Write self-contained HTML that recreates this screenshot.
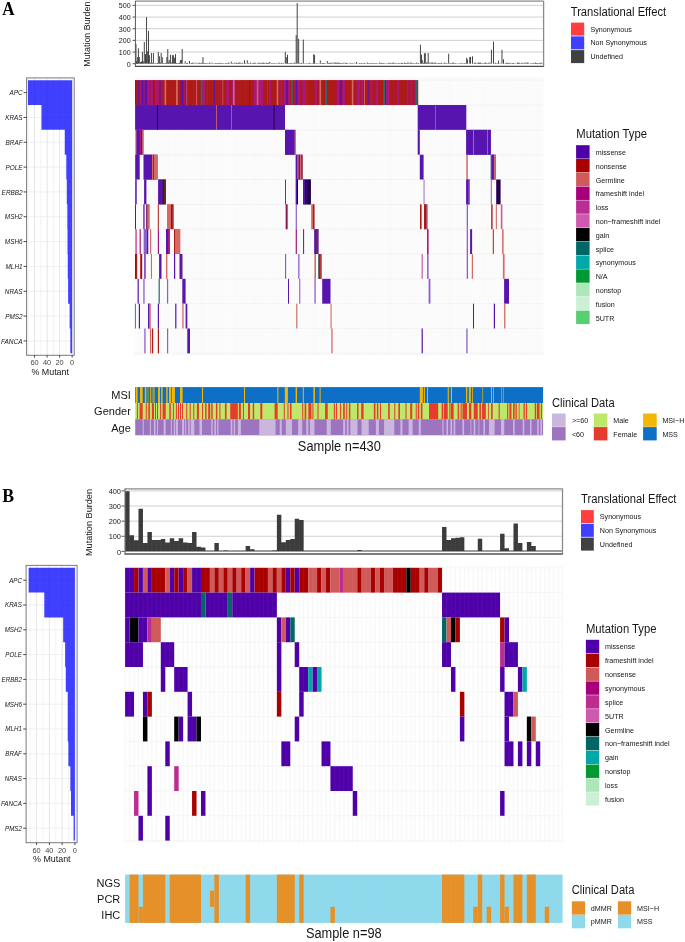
<!DOCTYPE html>
<html><head><meta charset="utf-8"><title>Oncoprint</title>
<style>
html,body{margin:0;padding:0;background:#ffffff;width:685px;height:942px;overflow:hidden;}
svg{display:block;will-change:transform;}
text{font-family:"Liberation Sans",sans-serif;}
text.serif{font-family:"Liberation Serif",serif;}
</style></head><body>
<svg width="685" height="942" viewBox="0 0 685 942">
<text x="2.3" y="14.9" font-size="19.6" textLength="12.3" lengthAdjust="spacingAndGlyphs" font-weight="bold" class="serif" fill="#000">A</text>
<text x="2.2" y="502.1" font-size="19.6" textLength="11.8" lengthAdjust="spacingAndGlyphs" font-weight="bold" class="serif" fill="#000">B</text>
<line x1="135.00" y1="52.04" x2="543.60" y2="52.04" stroke="#d0d0d0" stroke-width="1"/>
<line x1="135.00" y1="40.38" x2="543.60" y2="40.38" stroke="#d0d0d0" stroke-width="1"/>
<line x1="135.00" y1="28.72" x2="543.60" y2="28.72" stroke="#d0d0d0" stroke-width="1"/>
<line x1="135.00" y1="17.06" x2="543.60" y2="17.06" stroke="#d0d0d0" stroke-width="1"/>
<line x1="135.00" y1="5.40" x2="543.60" y2="5.40" stroke="#d0d0d0" stroke-width="1"/>
<rect x="183.46" y="63.35" width="0.92" height="0.35" fill="#363636"/>
<rect x="186.31" y="63.00" width="0.92" height="0.70" fill="#363636"/>
<rect x="187.26" y="62.77" width="0.92" height="0.93" fill="#363636"/>
<rect x="190.11" y="63.47" width="0.92" height="0.23" fill="#363636"/>
<rect x="191.06" y="63.00" width="0.92" height="0.70" fill="#363636"/>
<rect x="192.01" y="62.77" width="0.92" height="0.93" fill="#363636"/>
<rect x="196.77" y="63.35" width="0.92" height="0.35" fill="#363636"/>
<rect x="197.72" y="63.12" width="0.92" height="0.58" fill="#363636"/>
<rect x="198.67" y="62.77" width="0.92" height="0.93" fill="#363636"/>
<rect x="199.62" y="63.00" width="0.92" height="0.70" fill="#363636"/>
<rect x="200.57" y="63.12" width="0.92" height="0.58" fill="#363636"/>
<rect x="201.52" y="62.53" width="0.92" height="1.17" fill="#363636"/>
<rect x="203.42" y="63.12" width="0.92" height="0.58" fill="#363636"/>
<rect x="204.37" y="63.00" width="0.92" height="0.70" fill="#363636"/>
<rect x="205.32" y="63.12" width="0.92" height="0.58" fill="#363636"/>
<rect x="206.27" y="63.23" width="0.92" height="0.47" fill="#363636"/>
<rect x="207.22" y="63.23" width="0.92" height="0.47" fill="#363636"/>
<rect x="208.17" y="63.35" width="0.92" height="0.35" fill="#363636"/>
<rect x="209.12" y="62.53" width="0.92" height="1.17" fill="#363636"/>
<rect x="210.07" y="63.35" width="0.92" height="0.35" fill="#363636"/>
<rect x="212.92" y="63.35" width="0.92" height="0.35" fill="#363636"/>
<rect x="213.87" y="63.47" width="0.92" height="0.23" fill="#363636"/>
<rect x="214.82" y="63.00" width="0.92" height="0.70" fill="#363636"/>
<rect x="215.77" y="63.23" width="0.92" height="0.47" fill="#363636"/>
<rect x="216.72" y="63.00" width="0.92" height="0.70" fill="#363636"/>
<rect x="217.67" y="63.12" width="0.92" height="0.58" fill="#363636"/>
<rect x="218.62" y="63.23" width="0.92" height="0.47" fill="#363636"/>
<rect x="219.57" y="62.77" width="0.92" height="0.93" fill="#363636"/>
<rect x="220.52" y="63.12" width="0.92" height="0.58" fill="#363636"/>
<rect x="221.47" y="63.23" width="0.92" height="0.47" fill="#363636"/>
<rect x="222.42" y="63.00" width="0.92" height="0.70" fill="#363636"/>
<rect x="223.37" y="63.47" width="0.92" height="0.23" fill="#363636"/>
<rect x="224.32" y="63.47" width="0.92" height="0.23" fill="#363636"/>
<rect x="225.27" y="63.00" width="0.92" height="0.70" fill="#363636"/>
<rect x="226.22" y="63.12" width="0.92" height="0.58" fill="#363636"/>
<rect x="227.17" y="63.35" width="0.92" height="0.35" fill="#363636"/>
<rect x="228.12" y="62.53" width="0.92" height="1.17" fill="#363636"/>
<rect x="229.07" y="63.23" width="0.92" height="0.47" fill="#363636"/>
<rect x="231.92" y="63.12" width="0.92" height="0.58" fill="#363636"/>
<rect x="232.87" y="63.47" width="0.92" height="0.23" fill="#363636"/>
<rect x="233.82" y="62.77" width="0.92" height="0.93" fill="#363636"/>
<rect x="234.77" y="63.47" width="0.92" height="0.23" fill="#363636"/>
<rect x="235.72" y="62.53" width="0.92" height="1.17" fill="#363636"/>
<rect x="236.67" y="63.00" width="0.92" height="0.70" fill="#363636"/>
<rect x="237.63" y="63.00" width="0.92" height="0.70" fill="#363636"/>
<rect x="238.58" y="62.53" width="0.92" height="1.17" fill="#363636"/>
<rect x="239.53" y="62.53" width="0.92" height="1.17" fill="#363636"/>
<rect x="240.48" y="63.23" width="0.92" height="0.47" fill="#363636"/>
<rect x="241.43" y="63.23" width="0.92" height="0.47" fill="#363636"/>
<rect x="242.38" y="62.77" width="0.92" height="0.93" fill="#363636"/>
<rect x="245.23" y="63.12" width="0.92" height="0.58" fill="#363636"/>
<rect x="248.08" y="63.12" width="0.92" height="0.58" fill="#363636"/>
<rect x="249.03" y="63.47" width="0.92" height="0.23" fill="#363636"/>
<rect x="249.98" y="62.53" width="0.92" height="1.17" fill="#363636"/>
<rect x="250.93" y="63.47" width="0.92" height="0.23" fill="#363636"/>
<rect x="251.88" y="63.23" width="0.92" height="0.47" fill="#363636"/>
<rect x="252.83" y="63.12" width="0.92" height="0.58" fill="#363636"/>
<rect x="253.78" y="62.77" width="0.92" height="0.93" fill="#363636"/>
<rect x="254.73" y="62.77" width="0.92" height="0.93" fill="#363636"/>
<rect x="255.68" y="63.47" width="0.92" height="0.23" fill="#363636"/>
<rect x="256.63" y="63.47" width="0.92" height="0.23" fill="#363636"/>
<rect x="257.58" y="62.77" width="0.92" height="0.93" fill="#363636"/>
<rect x="258.53" y="62.77" width="0.92" height="0.93" fill="#363636"/>
<rect x="259.48" y="63.23" width="0.92" height="0.47" fill="#363636"/>
<rect x="260.43" y="62.77" width="0.92" height="0.93" fill="#363636"/>
<rect x="261.38" y="63.00" width="0.92" height="0.70" fill="#363636"/>
<rect x="262.33" y="62.77" width="0.92" height="0.93" fill="#363636"/>
<rect x="263.28" y="62.53" width="0.92" height="1.17" fill="#363636"/>
<rect x="264.23" y="63.12" width="0.92" height="0.58" fill="#363636"/>
<rect x="265.18" y="63.23" width="0.92" height="0.47" fill="#363636"/>
<rect x="266.13" y="62.77" width="0.92" height="0.93" fill="#363636"/>
<rect x="267.08" y="63.12" width="0.92" height="0.58" fill="#363636"/>
<rect x="268.03" y="62.77" width="0.92" height="0.93" fill="#363636"/>
<rect x="270.88" y="63.12" width="0.92" height="0.58" fill="#363636"/>
<rect x="271.83" y="63.23" width="0.92" height="0.47" fill="#363636"/>
<rect x="272.78" y="63.35" width="0.92" height="0.35" fill="#363636"/>
<rect x="273.73" y="63.00" width="0.92" height="0.70" fill="#363636"/>
<rect x="274.68" y="63.47" width="0.92" height="0.23" fill="#363636"/>
<rect x="275.63" y="63.12" width="0.92" height="0.58" fill="#363636"/>
<rect x="276.58" y="63.47" width="0.92" height="0.23" fill="#363636"/>
<rect x="277.53" y="63.35" width="0.92" height="0.35" fill="#363636"/>
<rect x="278.49" y="62.53" width="0.92" height="1.17" fill="#363636"/>
<rect x="279.44" y="63.23" width="0.92" height="0.47" fill="#363636"/>
<rect x="280.39" y="63.35" width="0.92" height="0.35" fill="#363636"/>
<rect x="281.34" y="62.77" width="0.92" height="0.93" fill="#363636"/>
<rect x="282.29" y="63.35" width="0.92" height="0.35" fill="#363636"/>
<rect x="283.24" y="63.12" width="0.92" height="0.58" fill="#363636"/>
<rect x="287.99" y="63.35" width="0.92" height="0.35" fill="#363636"/>
<rect x="288.94" y="63.12" width="0.92" height="0.58" fill="#363636"/>
<rect x="289.89" y="63.12" width="0.92" height="0.58" fill="#363636"/>
<rect x="290.84" y="63.00" width="0.92" height="0.70" fill="#363636"/>
<rect x="291.79" y="63.23" width="0.92" height="0.47" fill="#363636"/>
<rect x="292.74" y="63.35" width="0.92" height="0.35" fill="#363636"/>
<rect x="293.69" y="62.53" width="0.92" height="1.17" fill="#363636"/>
<rect x="294.64" y="63.12" width="0.92" height="0.58" fill="#363636"/>
<rect x="299.39" y="63.12" width="0.92" height="0.58" fill="#363636"/>
<rect x="300.34" y="63.23" width="0.92" height="0.47" fill="#363636"/>
<rect x="301.29" y="62.77" width="0.92" height="0.93" fill="#363636"/>
<rect x="304.14" y="63.35" width="0.92" height="0.35" fill="#363636"/>
<rect x="305.09" y="63.47" width="0.92" height="0.23" fill="#363636"/>
<rect x="306.04" y="63.35" width="0.92" height="0.35" fill="#363636"/>
<rect x="306.99" y="63.35" width="0.92" height="0.35" fill="#363636"/>
<rect x="307.94" y="63.35" width="0.92" height="0.35" fill="#363636"/>
<rect x="308.89" y="62.77" width="0.92" height="0.93" fill="#363636"/>
<rect x="309.84" y="63.35" width="0.92" height="0.35" fill="#363636"/>
<rect x="310.79" y="63.47" width="0.92" height="0.23" fill="#363636"/>
<rect x="311.74" y="63.12" width="0.92" height="0.58" fill="#363636"/>
<rect x="315.54" y="63.23" width="0.92" height="0.47" fill="#363636"/>
<rect x="316.49" y="63.23" width="0.92" height="0.47" fill="#363636"/>
<rect x="317.44" y="63.47" width="0.92" height="0.23" fill="#363636"/>
<rect x="318.39" y="63.35" width="0.92" height="0.35" fill="#363636"/>
<rect x="321.25" y="63.23" width="0.92" height="0.47" fill="#363636"/>
<rect x="322.20" y="63.00" width="0.92" height="0.70" fill="#363636"/>
<rect x="323.15" y="63.00" width="0.92" height="0.70" fill="#363636"/>
<rect x="324.10" y="63.23" width="0.92" height="0.47" fill="#363636"/>
<rect x="325.05" y="63.35" width="0.92" height="0.35" fill="#363636"/>
<rect x="327.90" y="63.00" width="0.92" height="0.70" fill="#363636"/>
<rect x="328.85" y="63.00" width="0.92" height="0.70" fill="#363636"/>
<rect x="329.80" y="62.77" width="0.92" height="0.93" fill="#363636"/>
<rect x="330.75" y="62.77" width="0.92" height="0.93" fill="#363636"/>
<rect x="333.60" y="63.12" width="0.92" height="0.58" fill="#363636"/>
<rect x="334.55" y="62.53" width="0.92" height="1.17" fill="#363636"/>
<rect x="335.50" y="62.53" width="0.92" height="1.17" fill="#363636"/>
<rect x="337.40" y="62.77" width="0.92" height="0.93" fill="#363636"/>
<rect x="338.35" y="62.53" width="0.92" height="1.17" fill="#363636"/>
<rect x="339.30" y="63.00" width="0.92" height="0.70" fill="#363636"/>
<rect x="340.25" y="63.12" width="0.92" height="0.58" fill="#363636"/>
<rect x="341.20" y="63.12" width="0.92" height="0.58" fill="#363636"/>
<rect x="342.15" y="63.12" width="0.92" height="0.58" fill="#363636"/>
<rect x="345.00" y="63.12" width="0.92" height="0.58" fill="#363636"/>
<rect x="345.95" y="62.77" width="0.92" height="0.93" fill="#363636"/>
<rect x="346.90" y="63.12" width="0.92" height="0.58" fill="#363636"/>
<rect x="347.85" y="63.47" width="0.92" height="0.23" fill="#363636"/>
<rect x="350.70" y="63.35" width="0.92" height="0.35" fill="#363636"/>
<rect x="351.65" y="63.12" width="0.92" height="0.58" fill="#363636"/>
<rect x="352.60" y="63.35" width="0.92" height="0.35" fill="#363636"/>
<rect x="353.55" y="63.47" width="0.92" height="0.23" fill="#363636"/>
<rect x="354.50" y="63.23" width="0.92" height="0.47" fill="#363636"/>
<rect x="357.35" y="63.47" width="0.92" height="0.23" fill="#363636"/>
<rect x="358.30" y="63.47" width="0.92" height="0.23" fill="#363636"/>
<rect x="359.25" y="63.00" width="0.92" height="0.70" fill="#363636"/>
<rect x="360.21" y="63.35" width="0.92" height="0.35" fill="#363636"/>
<rect x="361.16" y="63.00" width="0.92" height="0.70" fill="#363636"/>
<rect x="362.11" y="63.47" width="0.92" height="0.23" fill="#363636"/>
<rect x="363.06" y="63.23" width="0.92" height="0.47" fill="#363636"/>
<rect x="364.01" y="63.00" width="0.92" height="0.70" fill="#363636"/>
<rect x="364.96" y="63.47" width="0.92" height="0.23" fill="#363636"/>
<rect x="365.91" y="63.47" width="0.92" height="0.23" fill="#363636"/>
<rect x="366.86" y="62.53" width="0.92" height="1.17" fill="#363636"/>
<rect x="367.81" y="63.35" width="0.92" height="0.35" fill="#363636"/>
<rect x="368.76" y="63.00" width="0.92" height="0.70" fill="#363636"/>
<rect x="369.71" y="63.12" width="0.92" height="0.58" fill="#363636"/>
<rect x="370.66" y="63.35" width="0.92" height="0.35" fill="#363636"/>
<rect x="371.61" y="62.77" width="0.92" height="0.93" fill="#363636"/>
<rect x="372.56" y="63.23" width="0.92" height="0.47" fill="#363636"/>
<rect x="373.51" y="63.23" width="0.92" height="0.47" fill="#363636"/>
<rect x="374.46" y="63.00" width="0.92" height="0.70" fill="#363636"/>
<rect x="375.41" y="63.23" width="0.92" height="0.47" fill="#363636"/>
<rect x="376.36" y="63.12" width="0.92" height="0.58" fill="#363636"/>
<rect x="377.31" y="63.47" width="0.92" height="0.23" fill="#363636"/>
<rect x="378.26" y="63.47" width="0.92" height="0.23" fill="#363636"/>
<rect x="379.21" y="62.53" width="0.92" height="1.17" fill="#363636"/>
<rect x="380.16" y="63.12" width="0.92" height="0.58" fill="#363636"/>
<rect x="381.11" y="63.12" width="0.92" height="0.58" fill="#363636"/>
<rect x="382.06" y="63.12" width="0.92" height="0.58" fill="#363636"/>
<rect x="383.01" y="63.12" width="0.92" height="0.58" fill="#363636"/>
<rect x="383.96" y="63.23" width="0.92" height="0.47" fill="#363636"/>
<rect x="384.91" y="63.47" width="0.92" height="0.23" fill="#363636"/>
<rect x="385.86" y="63.35" width="0.92" height="0.35" fill="#363636"/>
<rect x="386.81" y="63.47" width="0.92" height="0.23" fill="#363636"/>
<rect x="387.76" y="62.77" width="0.92" height="0.93" fill="#363636"/>
<rect x="388.71" y="63.23" width="0.92" height="0.47" fill="#363636"/>
<rect x="389.66" y="62.77" width="0.92" height="0.93" fill="#363636"/>
<rect x="390.61" y="63.23" width="0.92" height="0.47" fill="#363636"/>
<rect x="391.56" y="63.12" width="0.92" height="0.58" fill="#363636"/>
<rect x="392.51" y="62.53" width="0.92" height="1.17" fill="#363636"/>
<rect x="393.46" y="62.77" width="0.92" height="0.93" fill="#363636"/>
<rect x="394.41" y="63.35" width="0.92" height="0.35" fill="#363636"/>
<rect x="395.36" y="63.00" width="0.92" height="0.70" fill="#363636"/>
<rect x="396.31" y="63.47" width="0.92" height="0.23" fill="#363636"/>
<rect x="397.26" y="63.35" width="0.92" height="0.35" fill="#363636"/>
<rect x="398.21" y="63.00" width="0.92" height="0.70" fill="#363636"/>
<rect x="399.16" y="63.23" width="0.92" height="0.47" fill="#363636"/>
<rect x="400.11" y="63.35" width="0.92" height="0.35" fill="#363636"/>
<rect x="401.07" y="62.77" width="0.92" height="0.93" fill="#363636"/>
<rect x="402.02" y="63.00" width="0.92" height="0.70" fill="#363636"/>
<rect x="402.97" y="63.47" width="0.92" height="0.23" fill="#363636"/>
<rect x="403.92" y="62.53" width="0.92" height="1.17" fill="#363636"/>
<rect x="404.87" y="63.00" width="0.92" height="0.70" fill="#363636"/>
<rect x="405.82" y="63.23" width="0.92" height="0.47" fill="#363636"/>
<rect x="406.77" y="62.77" width="0.92" height="0.93" fill="#363636"/>
<rect x="407.72" y="62.53" width="0.92" height="1.17" fill="#363636"/>
<rect x="408.67" y="63.47" width="0.92" height="0.23" fill="#363636"/>
<rect x="409.62" y="62.77" width="0.92" height="0.93" fill="#363636"/>
<rect x="410.57" y="62.53" width="0.92" height="1.17" fill="#363636"/>
<rect x="411.52" y="63.23" width="0.92" height="0.47" fill="#363636"/>
<rect x="412.47" y="63.00" width="0.92" height="0.70" fill="#363636"/>
<rect x="413.42" y="63.23" width="0.92" height="0.47" fill="#363636"/>
<rect x="414.37" y="63.35" width="0.92" height="0.35" fill="#363636"/>
<rect x="415.32" y="63.23" width="0.92" height="0.47" fill="#363636"/>
<rect x="416.27" y="62.53" width="0.92" height="1.17" fill="#363636"/>
<rect x="417.22" y="63.35" width="0.92" height="0.35" fill="#363636"/>
<rect x="418.17" y="63.00" width="0.92" height="0.70" fill="#363636"/>
<rect x="422.92" y="62.77" width="0.92" height="0.93" fill="#363636"/>
<rect x="425.77" y="62.53" width="0.92" height="1.17" fill="#363636"/>
<rect x="426.72" y="62.53" width="0.92" height="1.17" fill="#363636"/>
<rect x="428.62" y="62.53" width="0.92" height="1.17" fill="#363636"/>
<rect x="429.57" y="63.35" width="0.92" height="0.35" fill="#363636"/>
<rect x="430.52" y="62.53" width="0.92" height="1.17" fill="#363636"/>
<rect x="432.42" y="62.53" width="0.92" height="1.17" fill="#363636"/>
<rect x="433.37" y="63.12" width="0.92" height="0.58" fill="#363636"/>
<rect x="434.32" y="62.77" width="0.92" height="0.93" fill="#363636"/>
<rect x="435.27" y="62.53" width="0.92" height="1.17" fill="#363636"/>
<rect x="436.22" y="63.35" width="0.92" height="0.35" fill="#363636"/>
<rect x="437.17" y="63.35" width="0.92" height="0.35" fill="#363636"/>
<rect x="438.12" y="63.00" width="0.92" height="0.70" fill="#363636"/>
<rect x="439.07" y="63.12" width="0.92" height="0.58" fill="#363636"/>
<rect x="440.02" y="63.23" width="0.92" height="0.47" fill="#363636"/>
<rect x="440.97" y="62.77" width="0.92" height="0.93" fill="#363636"/>
<rect x="441.93" y="63.47" width="0.92" height="0.23" fill="#363636"/>
<rect x="442.88" y="63.47" width="0.92" height="0.23" fill="#363636"/>
<rect x="443.83" y="62.53" width="0.92" height="1.17" fill="#363636"/>
<rect x="444.78" y="63.23" width="0.92" height="0.47" fill="#363636"/>
<rect x="445.73" y="63.12" width="0.92" height="0.58" fill="#363636"/>
<rect x="446.68" y="63.23" width="0.92" height="0.47" fill="#363636"/>
<rect x="449.53" y="63.00" width="0.92" height="0.70" fill="#363636"/>
<rect x="450.48" y="63.23" width="0.92" height="0.47" fill="#363636"/>
<rect x="451.43" y="63.12" width="0.92" height="0.58" fill="#363636"/>
<rect x="452.38" y="62.53" width="0.92" height="1.17" fill="#363636"/>
<rect x="453.33" y="62.77" width="0.92" height="0.93" fill="#363636"/>
<rect x="454.28" y="63.23" width="0.92" height="0.47" fill="#363636"/>
<rect x="455.23" y="63.23" width="0.92" height="0.47" fill="#363636"/>
<rect x="456.18" y="63.47" width="0.92" height="0.23" fill="#363636"/>
<rect x="457.13" y="63.35" width="0.92" height="0.35" fill="#363636"/>
<rect x="458.08" y="63.47" width="0.92" height="0.23" fill="#363636"/>
<rect x="459.03" y="63.35" width="0.92" height="0.35" fill="#363636"/>
<rect x="459.98" y="63.12" width="0.92" height="0.58" fill="#363636"/>
<rect x="460.93" y="63.35" width="0.92" height="0.35" fill="#363636"/>
<rect x="461.88" y="63.23" width="0.92" height="0.47" fill="#363636"/>
<rect x="462.83" y="63.35" width="0.92" height="0.35" fill="#363636"/>
<rect x="463.78" y="63.12" width="0.92" height="0.58" fill="#363636"/>
<rect x="464.73" y="63.00" width="0.92" height="0.70" fill="#363636"/>
<rect x="473.28" y="63.47" width="0.92" height="0.23" fill="#363636"/>
<rect x="474.23" y="62.53" width="0.92" height="1.17" fill="#363636"/>
<rect x="475.18" y="62.77" width="0.92" height="0.93" fill="#363636"/>
<rect x="476.13" y="63.47" width="0.92" height="0.23" fill="#363636"/>
<rect x="477.08" y="63.12" width="0.92" height="0.58" fill="#363636"/>
<rect x="478.03" y="62.53" width="0.92" height="1.17" fill="#363636"/>
<rect x="478.98" y="62.77" width="0.92" height="0.93" fill="#363636"/>
<rect x="479.93" y="62.53" width="0.92" height="1.17" fill="#363636"/>
<rect x="480.88" y="63.35" width="0.92" height="0.35" fill="#363636"/>
<rect x="481.83" y="63.12" width="0.92" height="0.58" fill="#363636"/>
<rect x="482.79" y="63.35" width="0.92" height="0.35" fill="#363636"/>
<rect x="483.74" y="63.12" width="0.92" height="0.58" fill="#363636"/>
<rect x="484.69" y="62.53" width="0.92" height="1.17" fill="#363636"/>
<rect x="485.64" y="62.77" width="0.92" height="0.93" fill="#363636"/>
<rect x="486.59" y="63.23" width="0.92" height="0.47" fill="#363636"/>
<rect x="487.54" y="63.47" width="0.92" height="0.23" fill="#363636"/>
<rect x="488.49" y="62.53" width="0.92" height="1.17" fill="#363636"/>
<rect x="489.44" y="62.77" width="0.92" height="0.93" fill="#363636"/>
<rect x="494.19" y="63.47" width="0.92" height="0.23" fill="#363636"/>
<rect x="495.14" y="62.77" width="0.92" height="0.93" fill="#363636"/>
<rect x="496.09" y="63.35" width="0.92" height="0.35" fill="#363636"/>
<rect x="497.04" y="63.35" width="0.92" height="0.35" fill="#363636"/>
<rect x="498.94" y="63.47" width="0.92" height="0.23" fill="#363636"/>
<rect x="499.89" y="63.35" width="0.92" height="0.35" fill="#363636"/>
<rect x="504.64" y="63.35" width="0.92" height="0.35" fill="#363636"/>
<rect x="505.59" y="63.00" width="0.92" height="0.70" fill="#363636"/>
<rect x="506.54" y="62.53" width="0.92" height="1.17" fill="#363636"/>
<rect x="507.49" y="63.00" width="0.92" height="0.70" fill="#363636"/>
<rect x="508.44" y="63.12" width="0.92" height="0.58" fill="#363636"/>
<rect x="509.39" y="62.77" width="0.92" height="0.93" fill="#363636"/>
<rect x="510.34" y="63.23" width="0.92" height="0.47" fill="#363636"/>
<rect x="511.29" y="63.35" width="0.92" height="0.35" fill="#363636"/>
<rect x="512.24" y="63.00" width="0.92" height="0.70" fill="#363636"/>
<rect x="513.19" y="63.00" width="0.92" height="0.70" fill="#363636"/>
<rect x="514.14" y="63.35" width="0.92" height="0.35" fill="#363636"/>
<rect x="515.09" y="63.47" width="0.92" height="0.23" fill="#363636"/>
<rect x="516.04" y="63.47" width="0.92" height="0.23" fill="#363636"/>
<rect x="516.99" y="62.53" width="0.92" height="1.17" fill="#363636"/>
<rect x="517.94" y="62.77" width="0.92" height="0.93" fill="#363636"/>
<rect x="518.89" y="62.77" width="0.92" height="0.93" fill="#363636"/>
<rect x="519.84" y="63.47" width="0.92" height="0.23" fill="#363636"/>
<rect x="520.79" y="63.00" width="0.92" height="0.70" fill="#363636"/>
<rect x="521.74" y="62.77" width="0.92" height="0.93" fill="#363636"/>
<rect x="522.69" y="63.35" width="0.92" height="0.35" fill="#363636"/>
<rect x="523.65" y="63.12" width="0.92" height="0.58" fill="#363636"/>
<rect x="524.60" y="62.53" width="0.92" height="1.17" fill="#363636"/>
<rect x="525.55" y="63.35" width="0.92" height="0.35" fill="#363636"/>
<rect x="526.50" y="62.53" width="0.92" height="1.17" fill="#363636"/>
<rect x="527.45" y="62.53" width="0.92" height="1.17" fill="#363636"/>
<rect x="528.40" y="63.35" width="0.92" height="0.35" fill="#363636"/>
<rect x="529.35" y="63.47" width="0.92" height="0.23" fill="#363636"/>
<rect x="530.30" y="63.23" width="0.92" height="0.47" fill="#363636"/>
<rect x="531.25" y="63.35" width="0.92" height="0.35" fill="#363636"/>
<rect x="532.20" y="63.23" width="0.92" height="0.47" fill="#363636"/>
<rect x="533.15" y="63.00" width="0.92" height="0.70" fill="#363636"/>
<rect x="534.10" y="63.35" width="0.92" height="0.35" fill="#363636"/>
<rect x="535.05" y="62.53" width="0.92" height="1.17" fill="#363636"/>
<rect x="536.00" y="63.00" width="0.92" height="0.70" fill="#363636"/>
<rect x="536.95" y="63.23" width="0.92" height="0.47" fill="#363636"/>
<rect x="537.90" y="63.23" width="0.92" height="0.47" fill="#363636"/>
<rect x="538.85" y="63.00" width="0.92" height="0.70" fill="#363636"/>
<rect x="539.80" y="63.12" width="0.92" height="0.58" fill="#363636"/>
<rect x="540.75" y="62.53" width="0.92" height="1.17" fill="#363636"/>
<rect x="541.70" y="63.35" width="0.92" height="0.35" fill="#363636"/>
<rect x="542.65" y="63.47" width="0.92" height="0.23" fill="#363636"/>
<rect x="135.52" y="43.88" width="0.92" height="19.82" fill="#363636"/>
<rect x="135.82" y="61.37" width="0.92" height="2.33" fill="#363636"/>
<rect x="136.42" y="61.37" width="0.92" height="2.33" fill="#363636"/>
<rect x="137.22" y="57.05" width="0.92" height="6.65" fill="#363636"/>
<rect x="137.92" y="48.31" width="0.92" height="15.39" fill="#363636"/>
<rect x="138.82" y="57.05" width="0.92" height="6.65" fill="#363636"/>
<rect x="139.72" y="62.07" width="0.92" height="1.63" fill="#363636"/>
<rect x="140.52" y="62.07" width="0.92" height="1.63" fill="#363636"/>
<rect x="141.22" y="61.37" width="0.92" height="2.33" fill="#363636"/>
<rect x="141.92" y="51.92" width="0.92" height="11.78" fill="#363636"/>
<rect x="142.82" y="61.37" width="0.92" height="2.33" fill="#363636"/>
<rect x="143.82" y="42.01" width="0.92" height="21.69" fill="#363636"/>
<rect x="145.02" y="54.14" width="0.92" height="9.56" fill="#363636"/>
<rect x="146.12" y="17.06" width="0.92" height="46.64" fill="#363636"/>
<rect x="147.22" y="51.22" width="0.92" height="12.48" fill="#363636"/>
<rect x="148.02" y="31.05" width="0.92" height="32.65" fill="#363636"/>
<rect x="148.92" y="55.19" width="0.92" height="8.51" fill="#363636"/>
<rect x="149.82" y="62.77" width="0.92" height="0.93" fill="#363636"/>
<rect x="150.92" y="52.97" width="0.92" height="10.73" fill="#363636"/>
<rect x="151.92" y="62.77" width="0.92" height="0.93" fill="#363636"/>
<rect x="152.92" y="52.97" width="0.92" height="10.73" fill="#363636"/>
<rect x="154.12" y="63.23" width="0.92" height="0.47" fill="#363636"/>
<rect x="155.12" y="63.12" width="0.92" height="0.58" fill="#363636"/>
<rect x="156.12" y="63.35" width="0.92" height="0.35" fill="#363636"/>
<rect x="157.02" y="63.00" width="0.92" height="0.70" fill="#363636"/>
<rect x="157.82" y="51.92" width="0.92" height="11.78" fill="#363636"/>
<rect x="158.92" y="56.24" width="0.92" height="7.46" fill="#363636"/>
<rect x="159.82" y="62.53" width="0.92" height="1.17" fill="#363636"/>
<rect x="160.72" y="52.97" width="0.92" height="10.73" fill="#363636"/>
<rect x="161.82" y="57.05" width="0.92" height="6.65" fill="#363636"/>
<rect x="162.82" y="63.00" width="0.92" height="0.70" fill="#363636"/>
<rect x="163.72" y="63.23" width="0.92" height="0.47" fill="#363636"/>
<rect x="164.72" y="63.12" width="0.92" height="0.58" fill="#363636"/>
<rect x="165.62" y="62.77" width="0.92" height="0.93" fill="#363636"/>
<rect x="166.42" y="57.05" width="0.92" height="6.65" fill="#363636"/>
<rect x="167.32" y="49.01" width="0.92" height="14.69" fill="#363636"/>
<rect x="168.22" y="62.53" width="0.92" height="1.17" fill="#363636"/>
<rect x="168.72" y="59.97" width="0.92" height="3.73" fill="#363636"/>
<rect x="169.92" y="54.84" width="0.92" height="8.86" fill="#363636"/>
<rect x="170.72" y="62.30" width="0.92" height="1.40" fill="#363636"/>
<rect x="171.92" y="55.19" width="0.92" height="8.51" fill="#363636"/>
<rect x="172.92" y="55.19" width="0.92" height="8.51" fill="#363636"/>
<rect x="173.92" y="57.75" width="0.92" height="5.95" fill="#363636"/>
<rect x="175.02" y="54.14" width="0.92" height="9.56" fill="#363636"/>
<rect x="176.02" y="63.00" width="0.92" height="0.70" fill="#363636"/>
<rect x="177.02" y="63.23" width="0.92" height="0.47" fill="#363636"/>
<rect x="178.02" y="63.12" width="0.92" height="0.58" fill="#363636"/>
<rect x="179.02" y="62.77" width="0.92" height="0.93" fill="#363636"/>
<rect x="179.92" y="59.97" width="0.92" height="3.73" fill="#363636"/>
<rect x="180.92" y="59.97" width="0.92" height="3.73" fill="#363636"/>
<rect x="181.72" y="49.01" width="0.92" height="14.69" fill="#363636"/>
<rect x="184.72" y="61.37" width="0.92" height="2.33" fill="#363636"/>
<rect x="189.02" y="61.02" width="0.92" height="2.68" fill="#363636"/>
<rect x="193.52" y="62.53" width="0.92" height="1.17" fill="#363636"/>
<rect x="195.52" y="62.77" width="0.92" height="0.93" fill="#363636"/>
<rect x="202.52" y="57.17" width="0.92" height="6.53" fill="#363636"/>
<rect x="211.52" y="62.53" width="0.92" height="1.17" fill="#363636"/>
<rect x="230.82" y="61.60" width="0.92" height="2.10" fill="#363636"/>
<rect x="244.02" y="60.20" width="0.92" height="3.50" fill="#363636"/>
<rect x="246.82" y="60.20" width="0.92" height="3.50" fill="#363636"/>
<rect x="269.32" y="61.95" width="0.92" height="1.75" fill="#363636"/>
<rect x="284.82" y="51.81" width="0.92" height="11.89" fill="#363636"/>
<rect x="285.82" y="57.17" width="0.92" height="6.53" fill="#363636"/>
<rect x="287.02" y="54.72" width="0.92" height="8.98" fill="#363636"/>
<rect x="295.72" y="35.13" width="0.92" height="28.57" fill="#363636"/>
<rect x="296.72" y="3.07" width="0.92" height="60.63" fill="#363636"/>
<rect x="298.22" y="38.75" width="0.92" height="24.95" fill="#363636"/>
<rect x="302.82" y="39.56" width="0.92" height="24.14" fill="#363636"/>
<rect x="313.22" y="54.14" width="0.92" height="9.56" fill="#363636"/>
<rect x="314.12" y="54.96" width="0.92" height="8.74" fill="#363636"/>
<rect x="319.82" y="60.44" width="0.92" height="3.26" fill="#363636"/>
<rect x="326.82" y="61.02" width="0.92" height="2.68" fill="#363636"/>
<rect x="332.52" y="62.53" width="0.92" height="1.17" fill="#363636"/>
<rect x="336.52" y="62.77" width="0.92" height="0.93" fill="#363636"/>
<rect x="343.52" y="62.53" width="0.92" height="1.17" fill="#363636"/>
<rect x="349.52" y="62.77" width="0.92" height="0.93" fill="#363636"/>
<rect x="356.02" y="61.95" width="0.92" height="1.75" fill="#363636"/>
<rect x="419.92" y="44.69" width="0.92" height="19.01" fill="#363636"/>
<rect x="421.02" y="54.72" width="0.92" height="8.98" fill="#363636"/>
<rect x="421.82" y="60.09" width="0.92" height="3.61" fill="#363636"/>
<rect x="423.92" y="53.32" width="0.92" height="10.38" fill="#363636"/>
<rect x="424.82" y="52.97" width="0.92" height="10.73" fill="#363636"/>
<rect x="427.72" y="52.97" width="0.92" height="10.73" fill="#363636"/>
<rect x="431.52" y="62.53" width="0.92" height="1.17" fill="#363636"/>
<rect x="448.22" y="53.79" width="0.92" height="9.91" fill="#363636"/>
<rect x="466.22" y="57.75" width="0.92" height="5.95" fill="#363636"/>
<rect x="467.12" y="59.50" width="0.92" height="4.20" fill="#363636"/>
<rect x="469.32" y="57.17" width="0.92" height="6.53" fill="#363636"/>
<rect x="470.02" y="56.82" width="0.92" height="6.88" fill="#363636"/>
<rect x="472.02" y="56.35" width="0.92" height="7.35" fill="#363636"/>
<rect x="490.92" y="49.82" width="0.92" height="13.88" fill="#363636"/>
<rect x="493.02" y="41.66" width="0.92" height="22.04" fill="#363636"/>
<rect x="498.02" y="60.67" width="0.92" height="3.03" fill="#363636"/>
<rect x="501.52" y="49.82" width="0.92" height="13.88" fill="#363636"/>
<rect x="503.02" y="59.27" width="0.92" height="4.43" fill="#363636"/>
<line x1="135.00" y1="1.10" x2="543.60" y2="1.10" stroke="#ababab" stroke-width="1.6"/>
<line x1="543.60" y1="1.00" x2="543.60" y2="66.60" stroke="#8a8a8a" stroke-width="1.3"/>
<line x1="135.40" y1="1.00" x2="135.40" y2="67.00" stroke="#555555" stroke-width="1"/>
<line x1="135.00" y1="66.40" x2="543.60" y2="66.40" stroke="#4a4a4a" stroke-width="1.4"/>
<line x1="132.60" y1="63.70" x2="135.00" y2="63.70" stroke="#444" stroke-width="0.9"/>
<text x="130.70" y="66.59" font-size="7.67" textLength="3.95" lengthAdjust="spacingAndGlyphs" text-anchor="end" fill="#161616">0</text>
<line x1="132.60" y1="52.04" x2="135.00" y2="52.04" stroke="#444" stroke-width="0.9"/>
<text x="130.70" y="54.93" font-size="7.67" textLength="11.85" lengthAdjust="spacingAndGlyphs" text-anchor="end" fill="#161616">100</text>
<line x1="132.60" y1="40.38" x2="135.00" y2="40.38" stroke="#444" stroke-width="0.9"/>
<text x="130.70" y="43.27" font-size="7.67" textLength="11.85" lengthAdjust="spacingAndGlyphs" text-anchor="end" fill="#161616">200</text>
<line x1="132.60" y1="28.72" x2="135.00" y2="28.72" stroke="#444" stroke-width="0.9"/>
<text x="130.70" y="31.61" font-size="7.67" textLength="11.85" lengthAdjust="spacingAndGlyphs" text-anchor="end" fill="#161616">300</text>
<line x1="132.60" y1="17.06" x2="135.00" y2="17.06" stroke="#444" stroke-width="0.9"/>
<text x="130.70" y="19.95" font-size="7.67" textLength="11.85" lengthAdjust="spacingAndGlyphs" text-anchor="end" fill="#161616">400</text>
<line x1="132.60" y1="5.40" x2="135.00" y2="5.40" stroke="#444" stroke-width="0.9"/>
<text x="130.70" y="8.29" font-size="7.67" textLength="11.85" lengthAdjust="spacingAndGlyphs" text-anchor="end" fill="#161616">500</text>
<text x="0" y="0" font-size="8.9" text-anchor="middle" fill="#161616" transform="translate(89.7,34.2) rotate(-90)">Mutation Burden</text>
<rect x="135.10" y="77.20" width="408.50" height="278.60" fill="#fcfcfc"/>
<line x1="135.10" y1="80.20" x2="543.60" y2="80.20" stroke="#f0f0f0" stroke-width="0.8"/>
<line x1="135.10" y1="105.03" x2="543.60" y2="105.03" stroke="#f0f0f0" stroke-width="0.8"/>
<line x1="135.10" y1="129.86" x2="543.60" y2="129.86" stroke="#f0f0f0" stroke-width="0.8"/>
<line x1="135.10" y1="154.69" x2="543.60" y2="154.69" stroke="#f0f0f0" stroke-width="0.8"/>
<line x1="135.10" y1="179.52" x2="543.60" y2="179.52" stroke="#f0f0f0" stroke-width="0.8"/>
<line x1="135.10" y1="204.35" x2="543.60" y2="204.35" stroke="#f0f0f0" stroke-width="0.8"/>
<line x1="135.10" y1="229.18" x2="543.60" y2="229.18" stroke="#f0f0f0" stroke-width="0.8"/>
<line x1="135.10" y1="254.01" x2="543.60" y2="254.01" stroke="#f0f0f0" stroke-width="0.8"/>
<line x1="135.10" y1="278.84" x2="543.60" y2="278.84" stroke="#f0f0f0" stroke-width="0.8"/>
<line x1="135.10" y1="303.67" x2="543.60" y2="303.67" stroke="#f0f0f0" stroke-width="0.8"/>
<line x1="135.10" y1="328.50" x2="543.60" y2="328.50" stroke="#f0f0f0" stroke-width="0.8"/>
<line x1="135.10" y1="353.33" x2="543.60" y2="353.33" stroke="#f0f0f0" stroke-width="0.8"/>
<line x1="135.10" y1="77.20" x2="135.10" y2="355.80" stroke="#f6f6f6" stroke-width="0.5"/>
<line x1="137.95" y1="77.20" x2="137.95" y2="355.80" stroke="#f6f6f6" stroke-width="0.5"/>
<line x1="140.80" y1="77.20" x2="140.80" y2="355.80" stroke="#f6f6f6" stroke-width="0.5"/>
<line x1="143.65" y1="77.20" x2="143.65" y2="355.80" stroke="#f6f6f6" stroke-width="0.5"/>
<line x1="146.50" y1="77.20" x2="146.50" y2="355.80" stroke="#f6f6f6" stroke-width="0.5"/>
<line x1="149.35" y1="77.20" x2="149.35" y2="355.80" stroke="#f6f6f6" stroke-width="0.5"/>
<line x1="152.20" y1="77.20" x2="152.20" y2="355.80" stroke="#f6f6f6" stroke-width="0.5"/>
<line x1="155.05" y1="77.20" x2="155.05" y2="355.80" stroke="#f6f6f6" stroke-width="0.5"/>
<line x1="157.91" y1="77.20" x2="157.91" y2="355.80" stroke="#f6f6f6" stroke-width="0.5"/>
<line x1="160.76" y1="77.20" x2="160.76" y2="355.80" stroke="#f6f6f6" stroke-width="0.5"/>
<line x1="163.61" y1="77.20" x2="163.61" y2="355.80" stroke="#f6f6f6" stroke-width="0.5"/>
<line x1="166.46" y1="77.20" x2="166.46" y2="355.80" stroke="#f6f6f6" stroke-width="0.5"/>
<line x1="169.31" y1="77.20" x2="169.31" y2="355.80" stroke="#f6f6f6" stroke-width="0.5"/>
<line x1="172.16" y1="77.20" x2="172.16" y2="355.80" stroke="#f6f6f6" stroke-width="0.5"/>
<line x1="175.01" y1="77.20" x2="175.01" y2="355.80" stroke="#f6f6f6" stroke-width="0.5"/>
<line x1="177.86" y1="77.20" x2="177.86" y2="355.80" stroke="#f6f6f6" stroke-width="0.5"/>
<line x1="180.71" y1="77.20" x2="180.71" y2="355.80" stroke="#f6f6f6" stroke-width="0.5"/>
<line x1="183.56" y1="77.20" x2="183.56" y2="355.80" stroke="#f6f6f6" stroke-width="0.5"/>
<line x1="186.41" y1="77.20" x2="186.41" y2="355.80" stroke="#f6f6f6" stroke-width="0.5"/>
<line x1="189.26" y1="77.20" x2="189.26" y2="355.80" stroke="#f6f6f6" stroke-width="0.5"/>
<line x1="192.11" y1="77.20" x2="192.11" y2="355.80" stroke="#f6f6f6" stroke-width="0.5"/>
<line x1="194.96" y1="77.20" x2="194.96" y2="355.80" stroke="#f6f6f6" stroke-width="0.5"/>
<line x1="197.82" y1="77.20" x2="197.82" y2="355.80" stroke="#f6f6f6" stroke-width="0.5"/>
<line x1="200.67" y1="77.20" x2="200.67" y2="355.80" stroke="#f6f6f6" stroke-width="0.5"/>
<line x1="203.52" y1="77.20" x2="203.52" y2="355.80" stroke="#f6f6f6" stroke-width="0.5"/>
<line x1="206.37" y1="77.20" x2="206.37" y2="355.80" stroke="#f6f6f6" stroke-width="0.5"/>
<line x1="209.22" y1="77.20" x2="209.22" y2="355.80" stroke="#f6f6f6" stroke-width="0.5"/>
<line x1="212.07" y1="77.20" x2="212.07" y2="355.80" stroke="#f6f6f6" stroke-width="0.5"/>
<line x1="214.92" y1="77.20" x2="214.92" y2="355.80" stroke="#f6f6f6" stroke-width="0.5"/>
<line x1="217.77" y1="77.20" x2="217.77" y2="355.80" stroke="#f6f6f6" stroke-width="0.5"/>
<line x1="220.62" y1="77.20" x2="220.62" y2="355.80" stroke="#f6f6f6" stroke-width="0.5"/>
<line x1="223.47" y1="77.20" x2="223.47" y2="355.80" stroke="#f6f6f6" stroke-width="0.5"/>
<line x1="226.32" y1="77.20" x2="226.32" y2="355.80" stroke="#f6f6f6" stroke-width="0.5"/>
<line x1="229.17" y1="77.20" x2="229.17" y2="355.80" stroke="#f6f6f6" stroke-width="0.5"/>
<line x1="232.02" y1="77.20" x2="232.02" y2="355.80" stroke="#f6f6f6" stroke-width="0.5"/>
<line x1="234.87" y1="77.20" x2="234.87" y2="355.80" stroke="#f6f6f6" stroke-width="0.5"/>
<line x1="237.73" y1="77.20" x2="237.73" y2="355.80" stroke="#f6f6f6" stroke-width="0.5"/>
<line x1="240.58" y1="77.20" x2="240.58" y2="355.80" stroke="#f6f6f6" stroke-width="0.5"/>
<line x1="243.43" y1="77.20" x2="243.43" y2="355.80" stroke="#f6f6f6" stroke-width="0.5"/>
<line x1="246.28" y1="77.20" x2="246.28" y2="355.80" stroke="#f6f6f6" stroke-width="0.5"/>
<line x1="249.13" y1="77.20" x2="249.13" y2="355.80" stroke="#f6f6f6" stroke-width="0.5"/>
<line x1="251.98" y1="77.20" x2="251.98" y2="355.80" stroke="#f6f6f6" stroke-width="0.5"/>
<line x1="254.83" y1="77.20" x2="254.83" y2="355.80" stroke="#f6f6f6" stroke-width="0.5"/>
<line x1="257.68" y1="77.20" x2="257.68" y2="355.80" stroke="#f6f6f6" stroke-width="0.5"/>
<line x1="260.53" y1="77.20" x2="260.53" y2="355.80" stroke="#f6f6f6" stroke-width="0.5"/>
<line x1="263.38" y1="77.20" x2="263.38" y2="355.80" stroke="#f6f6f6" stroke-width="0.5"/>
<line x1="266.23" y1="77.20" x2="266.23" y2="355.80" stroke="#f6f6f6" stroke-width="0.5"/>
<line x1="269.08" y1="77.20" x2="269.08" y2="355.80" stroke="#f6f6f6" stroke-width="0.5"/>
<line x1="271.93" y1="77.20" x2="271.93" y2="355.80" stroke="#f6f6f6" stroke-width="0.5"/>
<line x1="274.78" y1="77.20" x2="274.78" y2="355.80" stroke="#f6f6f6" stroke-width="0.5"/>
<line x1="277.63" y1="77.20" x2="277.63" y2="355.80" stroke="#f6f6f6" stroke-width="0.5"/>
<line x1="280.49" y1="77.20" x2="280.49" y2="355.80" stroke="#f6f6f6" stroke-width="0.5"/>
<line x1="283.34" y1="77.20" x2="283.34" y2="355.80" stroke="#f6f6f6" stroke-width="0.5"/>
<line x1="286.19" y1="77.20" x2="286.19" y2="355.80" stroke="#f6f6f6" stroke-width="0.5"/>
<line x1="289.04" y1="77.20" x2="289.04" y2="355.80" stroke="#f6f6f6" stroke-width="0.5"/>
<line x1="291.89" y1="77.20" x2="291.89" y2="355.80" stroke="#f6f6f6" stroke-width="0.5"/>
<line x1="294.74" y1="77.20" x2="294.74" y2="355.80" stroke="#f6f6f6" stroke-width="0.5"/>
<line x1="297.59" y1="77.20" x2="297.59" y2="355.80" stroke="#f6f6f6" stroke-width="0.5"/>
<line x1="300.44" y1="77.20" x2="300.44" y2="355.80" stroke="#f6f6f6" stroke-width="0.5"/>
<line x1="303.29" y1="77.20" x2="303.29" y2="355.80" stroke="#f6f6f6" stroke-width="0.5"/>
<line x1="306.14" y1="77.20" x2="306.14" y2="355.80" stroke="#f6f6f6" stroke-width="0.5"/>
<line x1="308.99" y1="77.20" x2="308.99" y2="355.80" stroke="#f6f6f6" stroke-width="0.5"/>
<line x1="311.84" y1="77.20" x2="311.84" y2="355.80" stroke="#f6f6f6" stroke-width="0.5"/>
<line x1="314.69" y1="77.20" x2="314.69" y2="355.80" stroke="#f6f6f6" stroke-width="0.5"/>
<line x1="317.54" y1="77.20" x2="317.54" y2="355.80" stroke="#f6f6f6" stroke-width="0.5"/>
<line x1="320.40" y1="77.20" x2="320.40" y2="355.80" stroke="#f6f6f6" stroke-width="0.5"/>
<line x1="323.25" y1="77.20" x2="323.25" y2="355.80" stroke="#f6f6f6" stroke-width="0.5"/>
<line x1="326.10" y1="77.20" x2="326.10" y2="355.80" stroke="#f6f6f6" stroke-width="0.5"/>
<line x1="328.95" y1="77.20" x2="328.95" y2="355.80" stroke="#f6f6f6" stroke-width="0.5"/>
<line x1="331.80" y1="77.20" x2="331.80" y2="355.80" stroke="#f6f6f6" stroke-width="0.5"/>
<line x1="334.65" y1="77.20" x2="334.65" y2="355.80" stroke="#f6f6f6" stroke-width="0.5"/>
<line x1="337.50" y1="77.20" x2="337.50" y2="355.80" stroke="#f6f6f6" stroke-width="0.5"/>
<line x1="340.35" y1="77.20" x2="340.35" y2="355.80" stroke="#f6f6f6" stroke-width="0.5"/>
<line x1="343.20" y1="77.20" x2="343.20" y2="355.80" stroke="#f6f6f6" stroke-width="0.5"/>
<line x1="346.05" y1="77.20" x2="346.05" y2="355.80" stroke="#f6f6f6" stroke-width="0.5"/>
<line x1="348.90" y1="77.20" x2="348.90" y2="355.80" stroke="#f6f6f6" stroke-width="0.5"/>
<line x1="351.75" y1="77.20" x2="351.75" y2="355.80" stroke="#f6f6f6" stroke-width="0.5"/>
<line x1="354.60" y1="77.20" x2="354.60" y2="355.80" stroke="#f6f6f6" stroke-width="0.5"/>
<line x1="357.45" y1="77.20" x2="357.45" y2="355.80" stroke="#f6f6f6" stroke-width="0.5"/>
<line x1="360.31" y1="77.20" x2="360.31" y2="355.80" stroke="#f6f6f6" stroke-width="0.5"/>
<line x1="363.16" y1="77.20" x2="363.16" y2="355.80" stroke="#f6f6f6" stroke-width="0.5"/>
<line x1="366.01" y1="77.20" x2="366.01" y2="355.80" stroke="#f6f6f6" stroke-width="0.5"/>
<line x1="368.86" y1="77.20" x2="368.86" y2="355.80" stroke="#f6f6f6" stroke-width="0.5"/>
<line x1="371.71" y1="77.20" x2="371.71" y2="355.80" stroke="#f6f6f6" stroke-width="0.5"/>
<line x1="374.56" y1="77.20" x2="374.56" y2="355.80" stroke="#f6f6f6" stroke-width="0.5"/>
<line x1="377.41" y1="77.20" x2="377.41" y2="355.80" stroke="#f6f6f6" stroke-width="0.5"/>
<line x1="380.26" y1="77.20" x2="380.26" y2="355.80" stroke="#f6f6f6" stroke-width="0.5"/>
<line x1="383.11" y1="77.20" x2="383.11" y2="355.80" stroke="#f6f6f6" stroke-width="0.5"/>
<line x1="385.96" y1="77.20" x2="385.96" y2="355.80" stroke="#f6f6f6" stroke-width="0.5"/>
<line x1="388.81" y1="77.20" x2="388.81" y2="355.80" stroke="#f6f6f6" stroke-width="0.5"/>
<line x1="391.66" y1="77.20" x2="391.66" y2="355.80" stroke="#f6f6f6" stroke-width="0.5"/>
<line x1="394.51" y1="77.20" x2="394.51" y2="355.80" stroke="#f6f6f6" stroke-width="0.5"/>
<line x1="397.36" y1="77.20" x2="397.36" y2="355.80" stroke="#f6f6f6" stroke-width="0.5"/>
<line x1="400.21" y1="77.20" x2="400.21" y2="355.80" stroke="#f6f6f6" stroke-width="0.5"/>
<line x1="403.07" y1="77.20" x2="403.07" y2="355.80" stroke="#f6f6f6" stroke-width="0.5"/>
<line x1="405.92" y1="77.20" x2="405.92" y2="355.80" stroke="#f6f6f6" stroke-width="0.5"/>
<line x1="408.77" y1="77.20" x2="408.77" y2="355.80" stroke="#f6f6f6" stroke-width="0.5"/>
<line x1="411.62" y1="77.20" x2="411.62" y2="355.80" stroke="#f6f6f6" stroke-width="0.5"/>
<line x1="414.47" y1="77.20" x2="414.47" y2="355.80" stroke="#f6f6f6" stroke-width="0.5"/>
<line x1="417.32" y1="77.20" x2="417.32" y2="355.80" stroke="#f6f6f6" stroke-width="0.5"/>
<line x1="420.17" y1="77.20" x2="420.17" y2="355.80" stroke="#f6f6f6" stroke-width="0.5"/>
<line x1="423.02" y1="77.20" x2="423.02" y2="355.80" stroke="#f6f6f6" stroke-width="0.5"/>
<line x1="425.87" y1="77.20" x2="425.87" y2="355.80" stroke="#f6f6f6" stroke-width="0.5"/>
<line x1="428.72" y1="77.20" x2="428.72" y2="355.80" stroke="#f6f6f6" stroke-width="0.5"/>
<line x1="431.57" y1="77.20" x2="431.57" y2="355.80" stroke="#f6f6f6" stroke-width="0.5"/>
<line x1="434.42" y1="77.20" x2="434.42" y2="355.80" stroke="#f6f6f6" stroke-width="0.5"/>
<line x1="437.27" y1="77.20" x2="437.27" y2="355.80" stroke="#f6f6f6" stroke-width="0.5"/>
<line x1="440.12" y1="77.20" x2="440.12" y2="355.80" stroke="#f6f6f6" stroke-width="0.5"/>
<line x1="442.98" y1="77.20" x2="442.98" y2="355.80" stroke="#f6f6f6" stroke-width="0.5"/>
<line x1="445.83" y1="77.20" x2="445.83" y2="355.80" stroke="#f6f6f6" stroke-width="0.5"/>
<line x1="448.68" y1="77.20" x2="448.68" y2="355.80" stroke="#f6f6f6" stroke-width="0.5"/>
<line x1="451.53" y1="77.20" x2="451.53" y2="355.80" stroke="#f6f6f6" stroke-width="0.5"/>
<line x1="454.38" y1="77.20" x2="454.38" y2="355.80" stroke="#f6f6f6" stroke-width="0.5"/>
<line x1="457.23" y1="77.20" x2="457.23" y2="355.80" stroke="#f6f6f6" stroke-width="0.5"/>
<line x1="460.08" y1="77.20" x2="460.08" y2="355.80" stroke="#f6f6f6" stroke-width="0.5"/>
<line x1="462.93" y1="77.20" x2="462.93" y2="355.80" stroke="#f6f6f6" stroke-width="0.5"/>
<line x1="465.78" y1="77.20" x2="465.78" y2="355.80" stroke="#f6f6f6" stroke-width="0.5"/>
<line x1="468.63" y1="77.20" x2="468.63" y2="355.80" stroke="#f6f6f6" stroke-width="0.5"/>
<line x1="471.48" y1="77.20" x2="471.48" y2="355.80" stroke="#f6f6f6" stroke-width="0.5"/>
<line x1="474.33" y1="77.20" x2="474.33" y2="355.80" stroke="#f6f6f6" stroke-width="0.5"/>
<line x1="477.18" y1="77.20" x2="477.18" y2="355.80" stroke="#f6f6f6" stroke-width="0.5"/>
<line x1="480.03" y1="77.20" x2="480.03" y2="355.80" stroke="#f6f6f6" stroke-width="0.5"/>
<line x1="482.89" y1="77.20" x2="482.89" y2="355.80" stroke="#f6f6f6" stroke-width="0.5"/>
<line x1="485.74" y1="77.20" x2="485.74" y2="355.80" stroke="#f6f6f6" stroke-width="0.5"/>
<line x1="488.59" y1="77.20" x2="488.59" y2="355.80" stroke="#f6f6f6" stroke-width="0.5"/>
<line x1="491.44" y1="77.20" x2="491.44" y2="355.80" stroke="#f6f6f6" stroke-width="0.5"/>
<line x1="494.29" y1="77.20" x2="494.29" y2="355.80" stroke="#f6f6f6" stroke-width="0.5"/>
<line x1="497.14" y1="77.20" x2="497.14" y2="355.80" stroke="#f6f6f6" stroke-width="0.5"/>
<line x1="499.99" y1="77.20" x2="499.99" y2="355.80" stroke="#f6f6f6" stroke-width="0.5"/>
<line x1="502.84" y1="77.20" x2="502.84" y2="355.80" stroke="#f6f6f6" stroke-width="0.5"/>
<line x1="505.69" y1="77.20" x2="505.69" y2="355.80" stroke="#f6f6f6" stroke-width="0.5"/>
<line x1="508.54" y1="77.20" x2="508.54" y2="355.80" stroke="#f6f6f6" stroke-width="0.5"/>
<line x1="511.39" y1="77.20" x2="511.39" y2="355.80" stroke="#f6f6f6" stroke-width="0.5"/>
<line x1="514.24" y1="77.20" x2="514.24" y2="355.80" stroke="#f6f6f6" stroke-width="0.5"/>
<line x1="517.09" y1="77.20" x2="517.09" y2="355.80" stroke="#f6f6f6" stroke-width="0.5"/>
<line x1="519.94" y1="77.20" x2="519.94" y2="355.80" stroke="#f6f6f6" stroke-width="0.5"/>
<line x1="522.79" y1="77.20" x2="522.79" y2="355.80" stroke="#f6f6f6" stroke-width="0.5"/>
<line x1="525.65" y1="77.20" x2="525.65" y2="355.80" stroke="#f6f6f6" stroke-width="0.5"/>
<line x1="528.50" y1="77.20" x2="528.50" y2="355.80" stroke="#f6f6f6" stroke-width="0.5"/>
<line x1="531.35" y1="77.20" x2="531.35" y2="355.80" stroke="#f6f6f6" stroke-width="0.5"/>
<line x1="534.20" y1="77.20" x2="534.20" y2="355.80" stroke="#f6f6f6" stroke-width="0.5"/>
<line x1="537.05" y1="77.20" x2="537.05" y2="355.80" stroke="#f6f6f6" stroke-width="0.5"/>
<line x1="539.90" y1="77.20" x2="539.90" y2="355.80" stroke="#f6f6f6" stroke-width="0.5"/>
<line x1="542.75" y1="77.20" x2="542.75" y2="355.80" stroke="#f6f6f6" stroke-width="0.5"/>
<rect x="135.10" y="80.20" width="282.70" height="24.83" fill="#ae1a16"/>
<rect x="135.10" y="80.20" width="0.95" height="24.83" fill="#5814ae"/>
<rect x="136.05" y="80.20" width="1.90" height="24.83" fill="#ae1a16"/>
<rect x="137.95" y="80.20" width="0.95" height="24.83" fill="#5814ae"/>
<rect x="138.90" y="80.20" width="0.95" height="24.83" fill="#ae1a16"/>
<rect x="139.85" y="80.20" width="0.95" height="24.83" fill="#a8167e"/>
<rect x="140.80" y="80.20" width="0.95" height="24.83" fill="#ae1a16"/>
<rect x="141.75" y="80.20" width="1.90" height="24.83" fill="#5814ae"/>
<rect x="143.65" y="80.20" width="0.95" height="24.83" fill="#a8167e"/>
<rect x="144.60" y="80.20" width="2.85" height="24.83" fill="#5814ae"/>
<rect x="147.45" y="80.20" width="1.90" height="24.83" fill="#a8167e"/>
<rect x="149.35" y="80.20" width="0.95" height="24.83" fill="#ae1a16"/>
<rect x="150.30" y="80.20" width="2.85" height="24.83" fill="#a8167e"/>
<rect x="153.15" y="80.20" width="0.95" height="24.83" fill="#5814ae"/>
<rect x="154.10" y="80.20" width="0.95" height="24.83" fill="#ae1a16"/>
<rect x="155.05" y="80.20" width="3.80" height="24.83" fill="#a8167e"/>
<rect x="158.86" y="80.20" width="0.95" height="24.83" fill="#ae1a16"/>
<rect x="159.81" y="80.20" width="0.95" height="24.83" fill="#5814ae"/>
<rect x="160.76" y="80.20" width="0.95" height="24.83" fill="#ae1a16"/>
<rect x="161.71" y="80.20" width="0.95" height="24.83" fill="#a8167e"/>
<rect x="162.66" y="80.20" width="1.90" height="24.83" fill="#ae1a16"/>
<rect x="164.56" y="80.20" width="1.90" height="24.83" fill="#d46a66"/>
<rect x="166.46" y="80.20" width="9.50" height="24.83" fill="#ae1a16"/>
<rect x="175.96" y="80.20" width="1.90" height="24.83" fill="#d46a66"/>
<rect x="177.86" y="80.20" width="2.85" height="24.83" fill="#ae1a16"/>
<rect x="180.71" y="80.20" width="2.85" height="24.83" fill="#5814ae"/>
<rect x="183.56" y="80.20" width="0.95" height="24.83" fill="#ae1a16"/>
<rect x="184.51" y="80.20" width="0.95" height="24.83" fill="#a8167e"/>
<rect x="185.46" y="80.20" width="0.95" height="24.83" fill="#5814ae"/>
<rect x="186.41" y="80.20" width="0.95" height="24.83" fill="#cc5c9c"/>
<rect x="187.36" y="80.20" width="5.70" height="24.83" fill="#ae1a16"/>
<rect x="193.06" y="80.20" width="0.95" height="24.83" fill="#a8167e"/>
<rect x="194.01" y="80.20" width="1.90" height="24.83" fill="#ae1a16"/>
<rect x="195.91" y="80.20" width="0.95" height="24.83" fill="#d46a66"/>
<rect x="196.87" y="80.20" width="0.95" height="24.83" fill="#a8167e"/>
<rect x="197.82" y="80.20" width="2.85" height="24.83" fill="#ae1a16"/>
<rect x="200.67" y="80.20" width="1.90" height="24.83" fill="#2a6a6a"/>
<rect x="202.57" y="80.20" width="2.85" height="24.83" fill="#a8167e"/>
<rect x="205.42" y="80.20" width="1.90" height="24.83" fill="#ae1a16"/>
<rect x="207.32" y="80.20" width="0.95" height="24.83" fill="#a8167e"/>
<rect x="208.27" y="80.20" width="5.70" height="24.83" fill="#ae1a16"/>
<rect x="213.97" y="80.20" width="0.95" height="24.83" fill="#5814ae"/>
<rect x="214.92" y="80.20" width="4.75" height="24.83" fill="#ae1a16"/>
<rect x="219.67" y="80.20" width="0.95" height="24.83" fill="#a8167e"/>
<rect x="220.62" y="80.20" width="1.90" height="24.83" fill="#ae1a16"/>
<rect x="222.52" y="80.20" width="0.95" height="24.83" fill="#d46a66"/>
<rect x="223.47" y="80.20" width="2.85" height="24.83" fill="#ae1a16"/>
<rect x="226.32" y="80.20" width="2.85" height="24.83" fill="#a8167e"/>
<rect x="229.17" y="80.20" width="2.85" height="24.83" fill="#ae1a16"/>
<rect x="232.02" y="80.20" width="0.95" height="24.83" fill="#a8167e"/>
<rect x="232.97" y="80.20" width="1.90" height="24.83" fill="#cc5c9c"/>
<rect x="234.87" y="80.20" width="3.80" height="24.83" fill="#ae1a16"/>
<rect x="238.68" y="80.20" width="0.95" height="24.83" fill="#a8167e"/>
<rect x="239.63" y="80.20" width="5.70" height="24.83" fill="#ae1a16"/>
<rect x="245.33" y="80.20" width="0.95" height="24.83" fill="#a8167e"/>
<rect x="246.28" y="80.20" width="2.85" height="24.83" fill="#ae1a16"/>
<rect x="249.13" y="80.20" width="0.95" height="24.83" fill="#5814ae"/>
<rect x="250.08" y="80.20" width="3.80" height="24.83" fill="#ae1a16"/>
<rect x="253.88" y="80.20" width="2.85" height="24.83" fill="#a8167e"/>
<rect x="256.73" y="80.20" width="1.90" height="24.83" fill="#cc5c9c"/>
<rect x="258.63" y="80.20" width="4.75" height="24.83" fill="#a8167e"/>
<rect x="263.38" y="80.20" width="3.80" height="24.83" fill="#ae1a16"/>
<rect x="267.18" y="80.20" width="0.95" height="24.83" fill="#2a6a6a"/>
<rect x="268.13" y="80.20" width="0.95" height="24.83" fill="#ae1a16"/>
<rect x="269.08" y="80.20" width="1.90" height="24.83" fill="#a8167e"/>
<rect x="270.98" y="80.20" width="5.70" height="24.83" fill="#ae1a16"/>
<rect x="276.68" y="80.20" width="1.90" height="24.83" fill="#d46a66"/>
<rect x="278.59" y="80.20" width="1.90" height="24.83" fill="#ae1a16"/>
<rect x="280.49" y="80.20" width="1.90" height="24.83" fill="#a8167e"/>
<rect x="282.39" y="80.20" width="0.95" height="24.83" fill="#ae1a16"/>
<rect x="283.34" y="80.20" width="2.85" height="24.83" fill="#a8167e"/>
<rect x="286.19" y="80.20" width="1.90" height="24.83" fill="#5814ae"/>
<rect x="288.09" y="80.20" width="1.90" height="24.83" fill="#a8167e"/>
<rect x="289.99" y="80.20" width="0.95" height="24.83" fill="#ae1a16"/>
<rect x="290.94" y="80.20" width="1.90" height="24.83" fill="#2a6a6a"/>
<rect x="292.84" y="80.20" width="1.90" height="24.83" fill="#ae1a16"/>
<rect x="294.74" y="80.20" width="0.95" height="24.83" fill="#a8167e"/>
<rect x="295.69" y="80.20" width="1.90" height="24.83" fill="#5814ae"/>
<rect x="297.59" y="80.20" width="2.85" height="24.83" fill="#a8167e"/>
<rect x="300.44" y="80.20" width="1.90" height="24.83" fill="#ae1a16"/>
<rect x="302.34" y="80.20" width="3.80" height="24.83" fill="#a8167e"/>
<rect x="306.14" y="80.20" width="0.95" height="24.83" fill="#ae1a16"/>
<rect x="307.09" y="80.20" width="0.95" height="24.83" fill="#a8167e"/>
<rect x="308.04" y="80.20" width="6.65" height="24.83" fill="#ae1a16"/>
<rect x="314.69" y="80.20" width="2.85" height="24.83" fill="#a8167e"/>
<rect x="317.54" y="80.20" width="1.90" height="24.83" fill="#ae1a16"/>
<rect x="319.45" y="80.20" width="1.90" height="24.83" fill="#d46a66"/>
<rect x="321.35" y="80.20" width="3.80" height="24.83" fill="#ae1a16"/>
<rect x="325.15" y="80.20" width="1.90" height="24.83" fill="#2a6a6a"/>
<rect x="327.05" y="80.20" width="9.50" height="24.83" fill="#ae1a16"/>
<rect x="336.55" y="80.20" width="2.85" height="24.83" fill="#a8167e"/>
<rect x="339.40" y="80.20" width="0.95" height="24.83" fill="#ae1a16"/>
<rect x="340.35" y="80.20" width="1.90" height="24.83" fill="#5814ae"/>
<rect x="342.25" y="80.20" width="2.85" height="24.83" fill="#a8167e"/>
<rect x="345.10" y="80.20" width="1.90" height="24.83" fill="#ae1a16"/>
<rect x="347.00" y="80.20" width="0.95" height="24.83" fill="#a8167e"/>
<rect x="347.95" y="80.20" width="3.80" height="24.83" fill="#ae1a16"/>
<rect x="351.75" y="80.20" width="1.90" height="24.83" fill="#d46a66"/>
<rect x="353.65" y="80.20" width="2.85" height="24.83" fill="#ae1a16"/>
<rect x="356.50" y="80.20" width="3.80" height="24.83" fill="#a8167e"/>
<rect x="360.31" y="80.20" width="0.95" height="24.83" fill="#ae1a16"/>
<rect x="361.26" y="80.20" width="1.90" height="24.83" fill="#a8167e"/>
<rect x="363.16" y="80.20" width="0.95" height="24.83" fill="#ae1a16"/>
<rect x="364.11" y="80.20" width="0.95" height="24.83" fill="#d46a66"/>
<rect x="365.06" y="80.20" width="2.85" height="24.83" fill="#ae1a16"/>
<rect x="367.91" y="80.20" width="0.95" height="24.83" fill="#5814ae"/>
<rect x="368.86" y="80.20" width="1.90" height="24.83" fill="#ae1a16"/>
<rect x="370.76" y="80.20" width="1.90" height="24.83" fill="#a8167e"/>
<rect x="372.66" y="80.20" width="2.85" height="24.83" fill="#ae1a16"/>
<rect x="375.51" y="80.20" width="2.85" height="24.83" fill="#a8167e"/>
<rect x="378.36" y="80.20" width="4.75" height="24.83" fill="#ae1a16"/>
<rect x="383.11" y="80.20" width="1.90" height="24.83" fill="#2a6a6a"/>
<rect x="385.01" y="80.20" width="0.95" height="24.83" fill="#5814ae"/>
<rect x="385.96" y="80.20" width="3.80" height="24.83" fill="#a8167e"/>
<rect x="389.76" y="80.20" width="3.80" height="24.83" fill="#ae1a16"/>
<rect x="393.56" y="80.20" width="0.95" height="24.83" fill="#a8167e"/>
<rect x="394.51" y="80.20" width="2.85" height="24.83" fill="#ae1a16"/>
<rect x="397.36" y="80.20" width="1.90" height="24.83" fill="#a8167e"/>
<rect x="399.26" y="80.20" width="7.60" height="24.83" fill="#ae1a16"/>
<rect x="406.87" y="80.20" width="1.90" height="24.83" fill="#a8167e"/>
<rect x="408.77" y="80.20" width="1.90" height="24.83" fill="#ae1a16"/>
<rect x="410.67" y="80.20" width="1.90" height="24.83" fill="#a8167e"/>
<rect x="412.57" y="80.20" width="1.90" height="24.83" fill="#ae1a16"/>
<rect x="414.47" y="80.20" width="0.95" height="24.83" fill="#a8167e"/>
<rect x="415.42" y="80.20" width="1.90" height="24.83" fill="#2a6a6a"/>
<rect x="417.32" y="80.20" width="0.95" height="24.83" fill="#ae1a16"/>
<rect x="135.10" y="105.03" width="149.90" height="24.83" fill="#5814ae"/>
<rect x="417.70" y="105.03" width="48.60" height="24.83" fill="#5814ae"/>
<rect x="157.10" y="105.03" width="0.90" height="24.83" fill="#000000"/>
<rect x="216.00" y="105.03" width="0.80" height="24.83" fill="#d46a66"/>
<rect x="231.20" y="105.03" width="0.80" height="24.83" fill="#cc5c9c"/>
<rect x="273.60" y="105.03" width="1.00" height="24.83" fill="#2a0050"/>
<rect x="435.10" y="105.03" width="0.70" height="24.83" fill="#d46a66"/>
<rect x="135.70" y="129.86" width="7.70" height="24.83" fill="#5814ae"/>
<rect x="285.00" y="129.86" width="10.50" height="24.83" fill="#5814ae"/>
<rect x="466.30" y="129.86" width="24.50" height="24.83" fill="#5814ae"/>
<rect x="135.70" y="129.86" width="1.00" height="24.83" fill="#d46a66"/>
<rect x="136.70" y="129.86" width="3.00" height="24.83" fill="#5814ae"/>
<rect x="139.70" y="129.86" width="1.50" height="24.83" fill="#a8167e"/>
<rect x="141.20" y="129.86" width="1.00" height="24.83" fill="#5814ae"/>
<rect x="142.20" y="129.86" width="1.20" height="24.83" fill="#d46a66"/>
<rect x="285.00" y="129.86" width="9.60" height="24.83" fill="#5814ae"/>
<rect x="294.60" y="129.86" width="0.90" height="24.83" fill="#d46a66"/>
<rect x="417.70" y="129.86" width="2.10" height="24.83" fill="#5814ae"/>
<rect x="466.30" y="129.86" width="24.50" height="24.83" fill="#5814ae"/>
<rect x="473.00" y="129.86" width="0.90" height="24.83" fill="#d46a66"/>
<rect x="487.10" y="129.86" width="0.80" height="24.83" fill="#d46a66"/>
<rect x="143.70" y="154.69" width="13.80" height="24.83" fill="#5814ae"/>
<rect x="295.80" y="154.69" width="6.70" height="24.83" fill="#5814ae"/>
<rect x="490.80" y="154.69" width="4.90" height="24.83" fill="#5814ae"/>
<rect x="135.20" y="154.69" width="4.50" height="24.83" fill="#5814ae"/>
<rect x="143.70" y="154.69" width="8.30" height="24.83" fill="#5814ae"/>
<rect x="152.00" y="154.69" width="1.00" height="24.83" fill="#d46a66"/>
<rect x="153.00" y="154.69" width="0.80" height="24.83" fill="#5814ae"/>
<rect x="153.80" y="154.69" width="3.70" height="24.83" fill="#d46a66"/>
<rect x="295.80" y="154.69" width="1.50" height="24.83" fill="#5814ae"/>
<rect x="297.30" y="154.69" width="1.50" height="24.83" fill="#d46a66"/>
<rect x="298.80" y="154.69" width="1.20" height="24.83" fill="#5814ae"/>
<rect x="300.00" y="154.69" width="1.50" height="24.83" fill="#d46a66"/>
<rect x="301.50" y="154.69" width="1.00" height="24.83" fill="#ae1a16"/>
<rect x="419.80" y="154.69" width="3.80" height="24.83" fill="#5814ae"/>
<rect x="466.30" y="154.69" width="1.50" height="24.83" fill="#d46a66"/>
<rect x="490.80" y="154.69" width="1.20" height="24.83" fill="#2a6a6a"/>
<rect x="492.00" y="154.69" width="1.90" height="24.83" fill="#5814ae"/>
<rect x="493.90" y="154.69" width="1.80" height="24.83" fill="#d46a66"/>
<rect x="158.30" y="179.52" width="7.70" height="24.83" fill="#5814ae"/>
<rect x="295.80" y="179.52" width="2.20" height="24.83" fill="#5814ae"/>
<rect x="303.00" y="179.52" width="7.70" height="24.83" fill="#200040"/>
<rect x="466.30" y="179.52" width="3.70" height="24.83" fill="#5814ae"/>
<rect x="135.20" y="179.52" width="1.50" height="24.83" fill="#5814ae"/>
<rect x="144.10" y="179.52" width="2.30" height="24.83" fill="#5814ae"/>
<rect x="158.30" y="179.52" width="4.40" height="24.83" fill="#5814ae"/>
<rect x="162.70" y="179.52" width="1.10" height="24.83" fill="#3a1a10"/>
<rect x="163.80" y="179.52" width="1.20" height="24.83" fill="#5a2a10"/>
<rect x="165.00" y="179.52" width="1.00" height="24.83" fill="#5814ae"/>
<rect x="285.00" y="179.52" width="0.90" height="24.83" fill="#5814ae"/>
<rect x="295.80" y="179.52" width="1.20" height="24.83" fill="#5814ae"/>
<rect x="297.00" y="179.52" width="1.00" height="24.83" fill="#000000"/>
<rect x="303.00" y="179.52" width="2.50" height="24.83" fill="#5814ae"/>
<rect x="305.50" y="179.52" width="1.00" height="24.83" fill="#000000"/>
<rect x="306.50" y="179.52" width="1.00" height="24.83" fill="#5814ae"/>
<rect x="307.50" y="179.52" width="3.20" height="24.83" fill="#200040"/>
<rect x="423.60" y="179.52" width="0.90" height="24.83" fill="#8a60d0"/>
<rect x="466.30" y="179.52" width="2.20" height="24.83" fill="#5814ae"/>
<rect x="468.50" y="179.52" width="1.50" height="24.83" fill="#8a60d0"/>
<rect x="490.80" y="179.52" width="1.00" height="24.83" fill="#8a60d0"/>
<rect x="496.20" y="179.52" width="4.40" height="24.83" fill="#26004f"/>
<rect x="146.20" y="204.35" width="3.30" height="24.83" fill="#d46a66"/>
<rect x="167.00" y="204.35" width="6.50" height="24.83" fill="#d46a66"/>
<rect x="285.80" y="204.35" width="1.60" height="24.83" fill="#ae1a16"/>
<rect x="311.40" y="204.35" width="3.00" height="24.83" fill="#d46a66"/>
<rect x="424.10" y="204.35" width="3.30" height="24.83" fill="#ae1a16"/>
<rect x="135.00" y="204.35" width="1.00" height="24.83" fill="#5814ae"/>
<rect x="143.30" y="204.35" width="1.30" height="24.83" fill="#5814ae"/>
<rect x="146.20" y="204.35" width="1.30" height="24.83" fill="#6a2060"/>
<rect x="147.50" y="204.35" width="2.00" height="24.83" fill="#d46a66"/>
<rect x="157.80" y="204.35" width="1.00" height="24.83" fill="#ae1a16"/>
<rect x="167.00" y="204.35" width="4.00" height="24.83" fill="#d46a66"/>
<rect x="171.00" y="204.35" width="1.20" height="24.83" fill="#5814ae"/>
<rect x="172.20" y="204.35" width="1.30" height="24.83" fill="#ae1a16"/>
<rect x="285.80" y="204.35" width="0.80" height="24.83" fill="#ae1a16"/>
<rect x="286.60" y="204.35" width="0.80" height="24.83" fill="#5814ae"/>
<rect x="295.70" y="204.35" width="1.20" height="24.83" fill="#8a60d0"/>
<rect x="311.40" y="204.35" width="1.60" height="24.83" fill="#d46a66"/>
<rect x="313.00" y="204.35" width="1.40" height="24.83" fill="#ae1a16"/>
<rect x="420.00" y="204.35" width="1.60" height="24.83" fill="#ae1a16"/>
<rect x="424.10" y="204.35" width="1.40" height="24.83" fill="#ae1a16"/>
<rect x="425.50" y="204.35" width="0.90" height="24.83" fill="#5814ae"/>
<rect x="426.40" y="204.35" width="1.00" height="24.83" fill="#d46a66"/>
<rect x="466.70" y="204.35" width="1.30" height="24.83" fill="#8a60d0"/>
<rect x="491.20" y="204.35" width="1.40" height="24.83" fill="#ae1a16"/>
<rect x="495.80" y="204.35" width="1.10" height="24.83" fill="#d46a66"/>
<rect x="500.80" y="204.35" width="1.60" height="24.83" fill="#cc5c9c"/>
<rect x="143.80" y="229.18" width="4.40" height="24.83" fill="#8a60d0"/>
<rect x="166.00" y="229.18" width="3.70" height="24.83" fill="#5814ae"/>
<rect x="174.00" y="229.18" width="6.20" height="24.83" fill="#d46a66"/>
<rect x="314.40" y="229.18" width="4.00" height="24.83" fill="#5814ae"/>
<rect x="135.50" y="229.18" width="1.10" height="24.83" fill="#a8167e"/>
<rect x="139.60" y="229.18" width="1.20" height="24.83" fill="#a8167e"/>
<rect x="143.80" y="229.18" width="3.20" height="24.83" fill="#8a60d0"/>
<rect x="147.00" y="229.18" width="1.20" height="24.83" fill="#5814ae"/>
<rect x="150.00" y="229.18" width="1.20" height="24.83" fill="#d46a66"/>
<rect x="157.80" y="229.18" width="1.20" height="24.83" fill="#a8167e"/>
<rect x="166.00" y="229.18" width="2.00" height="24.83" fill="#5814ae"/>
<rect x="168.00" y="229.18" width="1.70" height="24.83" fill="#a8167e"/>
<rect x="174.00" y="229.18" width="1.20" height="24.83" fill="#ae1a16"/>
<rect x="175.20" y="229.18" width="5.00" height="24.83" fill="#d46a66"/>
<rect x="295.70" y="229.18" width="1.20" height="24.83" fill="#a8167e"/>
<rect x="303.10" y="229.18" width="1.00" height="24.83" fill="#5814ae"/>
<rect x="314.40" y="229.18" width="2.10" height="24.83" fill="#5814ae"/>
<rect x="316.50" y="229.18" width="1.90" height="24.83" fill="#6a2a50"/>
<rect x="427.00" y="229.18" width="1.60" height="24.83" fill="#a8167e"/>
<rect x="466.70" y="229.18" width="1.30" height="24.83" fill="#8a60d0"/>
<rect x="470.10" y="229.18" width="2.00" height="24.83" fill="#5814ae"/>
<rect x="492.80" y="229.18" width="1.00" height="24.83" fill="#ae1a16"/>
<rect x="502.10" y="229.18" width="1.50" height="24.83" fill="#d46a66"/>
<rect x="135.00" y="254.01" width="2.10" height="24.83" fill="#ae1a16"/>
<rect x="140.40" y="254.01" width="1.70" height="24.83" fill="#ae1a16"/>
<rect x="179.70" y="254.01" width="2.60" height="24.83" fill="#5814ae"/>
<rect x="318.40" y="254.01" width="3.30" height="24.83" fill="#ae1a16"/>
<rect x="135.00" y="254.01" width="1.00" height="24.83" fill="#5814ae"/>
<rect x="136.00" y="254.01" width="1.10" height="24.83" fill="#ae1a16"/>
<rect x="140.40" y="254.01" width="0.90" height="24.83" fill="#ae1a16"/>
<rect x="141.30" y="254.01" width="0.80" height="24.83" fill="#5814ae"/>
<rect x="144.30" y="254.01" width="1.30" height="24.83" fill="#5814ae"/>
<rect x="150.90" y="254.01" width="1.10" height="24.83" fill="#d46a66"/>
<rect x="159.10" y="254.01" width="2.40" height="24.83" fill="#5814ae"/>
<rect x="166.00" y="254.01" width="1.40" height="24.83" fill="#d46a66"/>
<rect x="174.00" y="254.01" width="1.20" height="24.83" fill="#5814ae"/>
<rect x="179.70" y="254.01" width="1.30" height="24.83" fill="#5814ae"/>
<rect x="181.00" y="254.01" width="1.30" height="24.83" fill="#6a2a50"/>
<rect x="285.30" y="254.01" width="0.80" height="24.83" fill="#5814ae"/>
<rect x="298.20" y="254.01" width="1.30" height="24.83" fill="#8a60d0"/>
<rect x="314.40" y="254.01" width="1.60" height="24.83" fill="#d46a66"/>
<rect x="318.40" y="254.01" width="1.00" height="24.83" fill="#2a6a6a"/>
<rect x="319.40" y="254.01" width="1.20" height="24.83" fill="#ae1a16"/>
<rect x="320.60" y="254.01" width="1.10" height="24.83" fill="#d46a66"/>
<rect x="421.60" y="254.01" width="1.20" height="24.83" fill="#cc5c9c"/>
<rect x="427.10" y="254.01" width="1.50" height="24.83" fill="#8a60d0"/>
<rect x="466.70" y="254.01" width="1.30" height="24.83" fill="#8a60d0"/>
<rect x="471.80" y="254.01" width="1.20" height="24.83" fill="#d46a66"/>
<rect x="502.90" y="254.01" width="1.70" height="24.83" fill="#d46a66"/>
<rect x="137.60" y="278.84" width="1.20" height="24.83" fill="#5814ae"/>
<rect x="143.30" y="278.84" width="1.30" height="24.83" fill="#8a60d0"/>
<rect x="158.60" y="278.84" width="1.20" height="24.83" fill="#2a6a6a"/>
<rect x="167.00" y="278.84" width="1.20" height="24.83" fill="#8a60d0"/>
<rect x="182.30" y="278.84" width="3.30" height="24.83" fill="#5814ae"/>
<rect x="288.00" y="278.84" width="1.00" height="24.83" fill="#5814ae"/>
<rect x="299.20" y="278.84" width="1.10" height="24.83" fill="#8a60d0"/>
<rect x="314.40" y="278.84" width="1.30" height="24.83" fill="#8a60d0"/>
<rect x="322.20" y="278.84" width="8.30" height="24.83" fill="#5814ae"/>
<rect x="428.60" y="278.84" width="1.80" height="24.83" fill="#8a60d0"/>
<rect x="504.10" y="278.84" width="4.90" height="24.83" fill="#5814ae"/>
<rect x="148.00" y="303.67" width="2.50" height="24.83" fill="#d46a66"/>
<rect x="134.90" y="303.67" width="1.10" height="24.83" fill="#00a8a8"/>
<rect x="138.80" y="303.67" width="1.20" height="24.83" fill="#5814ae"/>
<rect x="148.00" y="303.67" width="1.20" height="24.83" fill="#5814ae"/>
<rect x="149.20" y="303.67" width="1.30" height="24.83" fill="#d46a66"/>
<rect x="157.80" y="303.67" width="1.20" height="24.83" fill="#5814ae"/>
<rect x="175.20" y="303.67" width="1.20" height="24.83" fill="#5814ae"/>
<rect x="182.30" y="303.67" width="1.30" height="24.83" fill="#d46a66"/>
<rect x="185.60" y="303.67" width="1.70" height="24.83" fill="#5814ae"/>
<rect x="296.20" y="303.67" width="1.20" height="24.83" fill="#d46a66"/>
<rect x="330.50" y="303.67" width="1.10" height="24.83" fill="#d46a66"/>
<rect x="473.00" y="303.67" width="1.00" height="24.83" fill="#5814ae"/>
<rect x="493.80" y="303.67" width="1.20" height="24.83" fill="#5814ae"/>
<rect x="504.10" y="303.67" width="1.30" height="24.83" fill="#d46a66"/>
<rect x="144.30" y="328.50" width="1.30" height="24.83" fill="#8a60d0"/>
<rect x="150.00" y="328.50" width="1.20" height="24.83" fill="#d46a66"/>
<rect x="152.00" y="328.50" width="1.20" height="24.83" fill="#ae1a16"/>
<rect x="157.80" y="328.50" width="1.20" height="24.83" fill="#ae1a16"/>
<rect x="167.00" y="328.50" width="1.20" height="24.83" fill="#8a60d0"/>
<rect x="187.30" y="328.50" width="2.70" height="24.83" fill="#5814ae"/>
<rect x="331.30" y="328.50" width="1.30" height="24.83" fill="#d46a66"/>
<rect x="421.60" y="328.50" width="1.20" height="24.83" fill="#5814ae"/>
<rect x="466.30" y="328.50" width="1.30" height="24.83" fill="#8a60d0"/>
<rect x="26.60" y="77.90" width="47.60" height="277.40" fill="#ffffff"/>
<line x1="72.15" y1="77.90" x2="72.15" y2="355.30" stroke="#e3e3e3" stroke-width="0.9"/>
<line x1="65.89" y1="77.90" x2="65.89" y2="355.30" stroke="#ebebeb" stroke-width="0.6"/>
<line x1="59.62" y1="77.90" x2="59.62" y2="355.30" stroke="#e3e3e3" stroke-width="0.9"/>
<line x1="53.36" y1="77.90" x2="53.36" y2="355.30" stroke="#ebebeb" stroke-width="0.6"/>
<line x1="47.09" y1="77.90" x2="47.09" y2="355.30" stroke="#e3e3e3" stroke-width="0.9"/>
<line x1="40.83" y1="77.90" x2="40.83" y2="355.30" stroke="#ebebeb" stroke-width="0.6"/>
<line x1="34.56" y1="77.90" x2="34.56" y2="355.30" stroke="#e3e3e3" stroke-width="0.9"/>
<line x1="28.30" y1="77.90" x2="28.30" y2="355.30" stroke="#ebebeb" stroke-width="0.6"/>
<line x1="26.60" y1="92.62" x2="74.20" y2="92.62" stroke="#ebebeb" stroke-width="0.8"/>
<line x1="26.60" y1="117.44" x2="74.20" y2="117.44" stroke="#ebebeb" stroke-width="0.8"/>
<line x1="26.60" y1="142.28" x2="74.20" y2="142.28" stroke="#ebebeb" stroke-width="0.8"/>
<line x1="26.60" y1="167.11" x2="74.20" y2="167.11" stroke="#ebebeb" stroke-width="0.8"/>
<line x1="26.60" y1="191.94" x2="74.20" y2="191.94" stroke="#ebebeb" stroke-width="0.8"/>
<line x1="26.60" y1="216.76" x2="74.20" y2="216.76" stroke="#ebebeb" stroke-width="0.8"/>
<line x1="26.60" y1="241.59" x2="74.20" y2="241.59" stroke="#ebebeb" stroke-width="0.8"/>
<line x1="26.60" y1="266.43" x2="74.20" y2="266.43" stroke="#ebebeb" stroke-width="0.8"/>
<line x1="26.60" y1="291.25" x2="74.20" y2="291.25" stroke="#ebebeb" stroke-width="0.8"/>
<line x1="26.60" y1="316.08" x2="74.20" y2="316.08" stroke="#ebebeb" stroke-width="0.8"/>
<line x1="26.60" y1="340.91" x2="74.20" y2="340.91" stroke="#ebebeb" stroke-width="0.8"/>
<polygon points="72.15,80.20 27.92,80.20 27.92,105.03 41.45,105.03 41.45,129.86 64.76,129.86 64.76,154.69 66.32,154.69 66.32,179.52 66.82,179.52 66.82,204.35 67.33,204.35 67.33,229.18 67.51,229.18 67.51,254.01 67.76,254.01 67.76,278.84 68.14,278.84 68.14,303.67 69.64,303.67 69.64,328.50 70.33,328.50 70.33,353.33 72.15,353.33" fill="#0000ff" fill-opacity="0.75"/>
<rect x="26.60" y="77.90" width="47.60" height="277.40" fill="none" stroke="#7a7a7a" stroke-width="1"/>
<line x1="23.60" y1="92.62" x2="26.60" y2="92.62" stroke="#333" stroke-width="0.9"/>
<text x="22.60" y="95.32" font-size="6.91" textLength="13.16" lengthAdjust="spacingAndGlyphs" text-anchor="end" fill="#161616" font-style="italic">APC</text>
<line x1="23.60" y1="117.44" x2="26.60" y2="117.44" stroke="#333" stroke-width="0.9"/>
<text x="22.60" y="120.15" font-size="6.91" textLength="17.43" lengthAdjust="spacingAndGlyphs" text-anchor="end" fill="#161616" font-style="italic">KRAS</text>
<line x1="23.60" y1="142.28" x2="26.60" y2="142.28" stroke="#333" stroke-width="0.9"/>
<text x="22.60" y="144.98" font-size="6.91" textLength="17.07" lengthAdjust="spacingAndGlyphs" text-anchor="end" fill="#161616" font-style="italic">BRAF</text>
<line x1="23.60" y1="167.11" x2="26.60" y2="167.11" stroke="#333" stroke-width="0.9"/>
<text x="22.60" y="169.81" font-size="6.91" textLength="17.07" lengthAdjust="spacingAndGlyphs" text-anchor="end" fill="#161616" font-style="italic">POLE</text>
<line x1="23.60" y1="191.94" x2="26.60" y2="191.94" stroke="#333" stroke-width="0.9"/>
<text x="22.60" y="194.64" font-size="6.91" textLength="20.99" lengthAdjust="spacingAndGlyphs" text-anchor="end" fill="#161616" font-style="italic">ERBB2</text>
<line x1="23.60" y1="216.76" x2="26.60" y2="216.76" stroke="#333" stroke-width="0.9"/>
<text x="22.60" y="219.47" font-size="6.91" textLength="17.78" lengthAdjust="spacingAndGlyphs" text-anchor="end" fill="#161616" font-style="italic">MSH2</text>
<line x1="23.60" y1="241.59" x2="26.60" y2="241.59" stroke="#333" stroke-width="0.9"/>
<text x="22.60" y="244.30" font-size="6.91" textLength="17.78" lengthAdjust="spacingAndGlyphs" text-anchor="end" fill="#161616" font-style="italic">MSH6</text>
<line x1="23.60" y1="266.43" x2="26.60" y2="266.43" stroke="#333" stroke-width="0.9"/>
<text x="22.60" y="269.13" font-size="6.91" textLength="17.07" lengthAdjust="spacingAndGlyphs" text-anchor="end" fill="#161616" font-style="italic">MLH1</text>
<line x1="23.60" y1="291.25" x2="26.60" y2="291.25" stroke="#333" stroke-width="0.9"/>
<text x="22.60" y="293.96" font-size="6.91" textLength="17.78" lengthAdjust="spacingAndGlyphs" text-anchor="end" fill="#161616" font-style="italic">NRAS</text>
<line x1="23.60" y1="316.08" x2="26.60" y2="316.08" stroke="#333" stroke-width="0.9"/>
<text x="22.60" y="318.79" font-size="6.91" textLength="17.43" lengthAdjust="spacingAndGlyphs" text-anchor="end" fill="#161616" font-style="italic">PMS2</text>
<line x1="23.60" y1="340.91" x2="26.60" y2="340.91" stroke="#333" stroke-width="0.9"/>
<text x="22.60" y="343.62" font-size="6.91" textLength="21.69" lengthAdjust="spacingAndGlyphs" text-anchor="end" fill="#161616" font-style="italic">FANCA</text>
<line x1="34.56" y1="355.30" x2="34.56" y2="357.60" stroke="#333" stroke-width="0.9"/>
<text x="34.56" y="364.85" font-size="7.99" textLength="8.23" lengthAdjust="spacingAndGlyphs" text-anchor="middle" fill="#444">60</text>
<line x1="47.09" y1="355.30" x2="47.09" y2="357.60" stroke="#333" stroke-width="0.9"/>
<text x="47.09" y="364.85" font-size="7.99" textLength="8.23" lengthAdjust="spacingAndGlyphs" text-anchor="middle" fill="#444">40</text>
<line x1="59.62" y1="355.30" x2="59.62" y2="357.60" stroke="#333" stroke-width="0.9"/>
<text x="59.62" y="364.85" font-size="7.99" textLength="8.23" lengthAdjust="spacingAndGlyphs" text-anchor="middle" fill="#444">20</text>
<line x1="72.15" y1="355.30" x2="72.15" y2="357.60" stroke="#333" stroke-width="0.9"/>
<text x="72.15" y="364.85" font-size="7.99" textLength="4.12" lengthAdjust="spacingAndGlyphs" text-anchor="middle" fill="#444">0</text>
<text x="50.20" y="374.76" font-size="9.61" textLength="37.59" lengthAdjust="spacingAndGlyphs" text-anchor="middle" fill="#161616">% Mutant</text>
<rect x="135.20" y="387.10" width="407.90" height="16.00" fill="#0d6fc6"/>
<rect x="135.20" y="403.10" width="407.90" height="16.10" fill="#bfe86a"/>
<rect x="135.20" y="419.20" width="407.90" height="16.10" fill="#9c74c0"/>
<rect x="135.90" y="387.10" width="1.70" height="16.00" fill="#f2b705"/>
<rect x="140.00" y="387.10" width="2.70" height="16.00" fill="#f2b705"/>
<rect x="144.80" y="387.10" width="1.50" height="16.00" fill="#f2b705"/>
<rect x="146.80" y="387.10" width="0.80" height="16.00" fill="#8a9a4a"/>
<rect x="148.30" y="387.10" width="0.80" height="16.00" fill="#8a9a4a"/>
<rect x="150.20" y="387.10" width="1.00" height="16.00" fill="#f2b705"/>
<rect x="151.90" y="387.10" width="0.80" height="16.00" fill="#8a9a4a"/>
<rect x="153.40" y="387.10" width="1.10" height="16.00" fill="#f2b705"/>
<rect x="158.00" y="387.10" width="2.00" height="16.00" fill="#f2b705"/>
<rect x="161.10" y="387.10" width="1.50" height="16.00" fill="#f2b705"/>
<rect x="166.20" y="387.10" width="1.50" height="16.00" fill="#f2b705"/>
<rect x="169.00" y="387.10" width="2.00" height="16.00" fill="#f2b705"/>
<rect x="171.80" y="387.10" width="3.10" height="16.00" fill="#f2b705"/>
<rect x="180.00" y="387.10" width="2.60" height="16.00" fill="#f2b705"/>
<rect x="202.00" y="387.10" width="1.00" height="16.00" fill="#f2b705"/>
<rect x="244.00" y="387.10" width="1.00" height="16.00" fill="#f2b705"/>
<rect x="277.30" y="387.10" width="1.10" height="16.00" fill="#f2b705"/>
<rect x="284.80" y="387.10" width="3.10" height="16.00" fill="#f2b705"/>
<rect x="295.60" y="387.10" width="1.40" height="16.00" fill="#f2b705"/>
<rect x="302.80" y="387.10" width="1.00" height="16.00" fill="#f2b705"/>
<rect x="313.40" y="387.10" width="1.50" height="16.00" fill="#f2b705"/>
<rect x="319.60" y="387.10" width="1.00" height="16.00" fill="#f2b705"/>
<rect x="419.80" y="387.10" width="3.10" height="16.00" fill="#f2b705"/>
<rect x="423.90" y="387.10" width="1.00" height="16.00" fill="#f2b705"/>
<rect x="427.00" y="387.10" width="1.00" height="16.00" fill="#f2b705"/>
<rect x="447.70" y="387.10" width="1.10" height="16.00" fill="#f2b705"/>
<rect x="450.90" y="387.10" width="1.10" height="16.00" fill="#f2b705"/>
<rect x="466.00" y="387.10" width="1.30" height="16.00" fill="#f2b705"/>
<rect x="468.90" y="387.10" width="1.90" height="16.00" fill="#f2b705"/>
<rect x="472.10" y="387.10" width="0.80" height="16.00" fill="#f2b705"/>
<rect x="482.00" y="387.10" width="1.20" height="16.00" fill="#8a9a4a"/>
<rect x="491.00" y="387.10" width="0.90" height="16.00" fill="#f2b705"/>
<rect x="493.00" y="387.10" width="0.80" height="16.00" fill="#f2b705"/>
<rect x="501.00" y="387.10" width="1.20" height="16.00" fill="#8a9a4a"/>
<rect x="503.00" y="387.10" width="1.00" height="16.00" fill="#8a9a4a"/>
<rect x="136.90" y="403.10" width="1.00" height="16.10" fill="#e53c2c"/>
<rect x="139.60" y="403.10" width="3.10" height="16.10" fill="#e53c2c"/>
<rect x="145.80" y="403.10" width="1.00" height="16.10" fill="#e53c2c"/>
<rect x="148.30" y="403.10" width="1.60" height="16.10" fill="#e53c2c"/>
<rect x="151.90" y="403.10" width="2.10" height="16.10" fill="#e53c2c"/>
<rect x="155.00" y="403.10" width="1.00" height="16.10" fill="#e53c2c"/>
<rect x="157.00" y="403.10" width="1.00" height="16.10" fill="#e53c2c"/>
<rect x="160.10" y="403.10" width="1.00" height="16.10" fill="#e53c2c"/>
<rect x="162.60" y="403.10" width="3.10" height="16.10" fill="#e53c2c"/>
<rect x="169.30" y="403.10" width="1.50" height="16.10" fill="#e53c2c"/>
<rect x="172.90" y="403.10" width="1.00" height="16.10" fill="#e53c2c"/>
<rect x="175.90" y="403.10" width="1.00" height="16.10" fill="#e53c2c"/>
<rect x="178.00" y="403.10" width="1.00" height="16.10" fill="#e53c2c"/>
<rect x="180.00" y="403.10" width="1.00" height="16.10" fill="#e53c2c"/>
<rect x="182.00" y="403.10" width="1.00" height="16.10" fill="#e53c2c"/>
<rect x="186.20" y="403.10" width="1.00" height="16.10" fill="#e53c2c"/>
<rect x="189.70" y="403.10" width="1.00" height="16.10" fill="#e53c2c"/>
<rect x="193.30" y="403.10" width="1.00" height="16.10" fill="#e53c2c"/>
<rect x="196.90" y="403.10" width="2.00" height="16.10" fill="#e53c2c"/>
<rect x="202.04" y="403.10" width="1.02" height="16.10" fill="#e53c2c"/>
<rect x="205.11" y="403.10" width="1.43" height="16.10" fill="#e53c2c"/>
<rect x="208.17" y="403.10" width="2.04" height="16.10" fill="#e53c2c"/>
<rect x="211.24" y="403.10" width="1.43" height="16.10" fill="#e53c2c"/>
<rect x="215.94" y="403.10" width="1.43" height="16.10" fill="#e53c2c"/>
<rect x="219.42" y="403.10" width="1.02" height="16.10" fill="#e53c2c"/>
<rect x="224.93" y="403.10" width="1.63" height="16.10" fill="#e53c2c"/>
<rect x="230.25" y="403.10" width="7.56" height="16.10" fill="#e53c2c"/>
<rect x="238.83" y="403.10" width="2.04" height="16.10" fill="#e53c2c"/>
<rect x="242.92" y="403.10" width="1.02" height="16.10" fill="#e53c2c"/>
<rect x="248.03" y="403.10" width="2.04" height="16.10" fill="#e53c2c"/>
<rect x="252.73" y="403.10" width="1.43" height="16.10" fill="#e53c2c"/>
<rect x="260.29" y="403.10" width="2.04" height="16.10" fill="#e53c2c"/>
<rect x="274.60" y="403.10" width="3.07" height="16.10" fill="#e53c2c"/>
<rect x="283.79" y="403.10" width="1.02" height="16.10" fill="#e53c2c"/>
<rect x="287.47" y="403.10" width="1.02" height="16.10" fill="#e53c2c"/>
<rect x="289.92" y="403.10" width="1.63" height="16.10" fill="#e53c2c"/>
<rect x="302.19" y="403.10" width="1.02" height="16.10" fill="#e53c2c"/>
<rect x="304.64" y="403.10" width="1.63" height="16.10" fill="#e53c2c"/>
<rect x="308.32" y="403.10" width="3.07" height="16.10" fill="#e53c2c"/>
<rect x="312.41" y="403.10" width="1.02" height="16.10" fill="#e53c2c"/>
<rect x="317.51" y="403.10" width="1.02" height="16.10" fill="#e53c2c"/>
<rect x="325.08" y="403.10" width="2.66" height="16.10" fill="#e53c2c"/>
<rect x="333.86" y="403.10" width="1.02" height="16.10" fill="#e53c2c"/>
<rect x="336.02" y="403.10" width="1.02" height="16.10" fill="#e53c2c"/>
<rect x="340.11" y="403.10" width="1.02" height="16.10" fill="#e53c2c"/>
<rect x="343.17" y="403.10" width="1.63" height="16.10" fill="#e53c2c"/>
<rect x="346.24" y="403.10" width="1.02" height="16.10" fill="#e53c2c"/>
<rect x="348.90" y="403.10" width="1.43" height="16.10" fill="#e53c2c"/>
<rect x="357.07" y="403.10" width="1.43" height="16.10" fill="#e53c2c"/>
<rect x="361.16" y="403.10" width="2.45" height="16.10" fill="#e53c2c"/>
<rect x="373.83" y="403.10" width="1.63" height="16.10" fill="#e53c2c"/>
<rect x="376.90" y="403.10" width="1.43" height="16.10" fill="#e53c2c"/>
<rect x="379.96" y="403.10" width="1.02" height="16.10" fill="#e53c2c"/>
<rect x="388.14" y="403.10" width="1.63" height="16.10" fill="#e53c2c"/>
<rect x="394.27" y="403.10" width="1.02" height="16.10" fill="#e53c2c"/>
<rect x="398.36" y="403.10" width="1.63" height="16.10" fill="#e53c2c"/>
<rect x="405.51" y="403.10" width="1.02" height="16.10" fill="#e53c2c"/>
<rect x="410.21" y="403.10" width="2.04" height="16.10" fill="#e53c2c"/>
<rect x="415.73" y="403.10" width="1.02" height="16.10" fill="#e53c2c"/>
<rect x="417.77" y="403.10" width="1.43" height="16.10" fill="#e53c2c"/>
<rect x="420.84" y="403.10" width="1.63" height="16.10" fill="#e53c2c"/>
<rect x="429.01" y="403.10" width="9.20" height="16.10" fill="#e53c2c"/>
<rect x="441.61" y="403.10" width="1.61" height="16.10" fill="#e53c2c"/>
<rect x="444.01" y="403.10" width="3.69" height="16.10" fill="#e53c2c"/>
<rect x="449.31" y="403.10" width="1.12" height="16.10" fill="#e53c2c"/>
<rect x="450.92" y="403.10" width="2.73" height="16.10" fill="#e53c2c"/>
<rect x="457.67" y="403.10" width="1.28" height="16.10" fill="#e53c2c"/>
<rect x="460.56" y="403.10" width="1.12" height="16.10" fill="#e53c2c"/>
<rect x="462.48" y="403.10" width="4.50" height="16.10" fill="#e53c2c"/>
<rect x="468.91" y="403.10" width="2.41" height="16.10" fill="#e53c2c"/>
<rect x="473.72" y="403.10" width="4.01" height="16.10" fill="#e53c2c"/>
<rect x="479.34" y="403.10" width="1.61" height="16.10" fill="#e53c2c"/>
<rect x="482.07" y="403.10" width="3.69" height="16.10" fill="#e53c2c"/>
<rect x="488.18" y="403.10" width="0.80" height="16.10" fill="#e53c2c"/>
<rect x="491.07" y="403.10" width="1.61" height="16.10" fill="#e53c2c"/>
<rect x="498.62" y="403.10" width="1.12" height="16.10" fill="#e53c2c"/>
<rect x="507.13" y="403.10" width="1.12" height="16.10" fill="#e53c2c"/>
<rect x="509.38" y="403.10" width="2.09" height="16.10" fill="#e53c2c"/>
<rect x="513.07" y="403.10" width="1.61" height="16.10" fill="#e53c2c"/>
<rect x="515.48" y="403.10" width="1.28" height="16.10" fill="#e53c2c"/>
<rect x="518.69" y="403.10" width="0.80" height="16.10" fill="#e53c2c"/>
<rect x="523.51" y="403.10" width="1.28" height="16.10" fill="#e53c2c"/>
<rect x="525.92" y="403.10" width="1.12" height="16.10" fill="#e53c2c"/>
<rect x="534.75" y="403.10" width="1.28" height="16.10" fill="#e53c2c"/>
<rect x="536.84" y="403.10" width="2.73" height="16.10" fill="#e53c2c"/>
<rect x="540.85" y="403.10" width="1.12" height="16.10" fill="#e53c2c"/>
<rect x="142.71" y="419.20" width="1.02" height="16.10" fill="#cbb6de"/>
<rect x="149.86" y="419.20" width="1.02" height="16.10" fill="#cbb6de"/>
<rect x="153.95" y="419.20" width="1.53" height="16.10" fill="#cbb6de"/>
<rect x="157.01" y="419.20" width="1.02" height="16.10" fill="#cbb6de"/>
<rect x="163.66" y="419.20" width="2.04" height="16.10" fill="#cbb6de"/>
<rect x="170.81" y="419.20" width="1.02" height="16.10" fill="#cbb6de"/>
<rect x="173.87" y="419.20" width="1.23" height="16.10" fill="#cbb6de"/>
<rect x="175.92" y="419.20" width="2.04" height="16.10" fill="#cbb6de"/>
<rect x="182.05" y="419.20" width="2.04" height="16.10" fill="#cbb6de"/>
<rect x="185.12" y="419.20" width="1.02" height="16.10" fill="#cbb6de"/>
<rect x="188.18" y="419.20" width="1.53" height="16.10" fill="#cbb6de"/>
<rect x="190.74" y="419.20" width="3.58" height="16.10" fill="#cbb6de"/>
<rect x="199.42" y="419.20" width="2.04" height="16.10" fill="#cbb6de"/>
<rect x="200.00" y="419.20" width="2.04" height="16.10" fill="#cbb6de"/>
<rect x="211.24" y="419.20" width="1.43" height="16.10" fill="#cbb6de"/>
<rect x="214.31" y="419.20" width="1.63" height="16.10" fill="#cbb6de"/>
<rect x="217.17" y="419.20" width="1.23" height="16.10" fill="#cbb6de"/>
<rect x="230.66" y="419.20" width="1.63" height="16.10" fill="#cbb6de"/>
<rect x="233.72" y="419.20" width="1.43" height="16.10" fill="#cbb6de"/>
<rect x="237.81" y="419.20" width="3.07" height="16.10" fill="#cbb6de"/>
<rect x="259.27" y="419.20" width="16.35" height="16.10" fill="#cbb6de"/>
<rect x="279.71" y="419.20" width="2.04" height="16.10" fill="#cbb6de"/>
<rect x="285.84" y="419.20" width="6.13" height="16.10" fill="#cbb6de"/>
<rect x="298.10" y="419.20" width="4.09" height="16.10" fill="#cbb6de"/>
<rect x="306.27" y="419.20" width="2.04" height="16.10" fill="#cbb6de"/>
<rect x="309.95" y="419.20" width="4.50" height="16.10" fill="#cbb6de"/>
<rect x="326.71" y="419.20" width="4.09" height="16.10" fill="#cbb6de"/>
<rect x="343.17" y="419.20" width="2.04" height="16.10" fill="#cbb6de"/>
<rect x="346.85" y="419.20" width="1.63" height="16.10" fill="#cbb6de"/>
<rect x="350.33" y="419.20" width="7.15" height="16.10" fill="#cbb6de"/>
<rect x="361.57" y="419.20" width="7.15" height="16.10" fill="#cbb6de"/>
<rect x="375.87" y="419.20" width="3.07" height="16.10" fill="#cbb6de"/>
<rect x="384.05" y="419.20" width="10.22" height="16.10" fill="#cbb6de"/>
<rect x="400.40" y="419.20" width="2.04" height="16.10" fill="#cbb6de"/>
<rect x="408.57" y="419.20" width="4.09" height="16.10" fill="#cbb6de"/>
<rect x="418.79" y="419.20" width="2.04" height="16.10" fill="#cbb6de"/>
<rect x="442.41" y="419.20" width="1.12" height="16.10" fill="#cbb6de"/>
<rect x="446.42" y="419.20" width="1.61" height="16.10" fill="#cbb6de"/>
<rect x="450.44" y="419.20" width="1.61" height="16.10" fill="#cbb6de"/>
<rect x="453.65" y="419.20" width="1.61" height="16.10" fill="#cbb6de"/>
<rect x="462.48" y="419.20" width="1.61" height="16.10" fill="#cbb6de"/>
<rect x="470.51" y="419.20" width="0.80" height="16.10" fill="#cbb6de"/>
<rect x="473.72" y="419.20" width="1.61" height="16.10" fill="#cbb6de"/>
<rect x="478.54" y="419.20" width="0.80" height="16.10" fill="#cbb6de"/>
<rect x="483.36" y="419.20" width="1.61" height="16.10" fill="#cbb6de"/>
<rect x="488.98" y="419.20" width="5.62" height="16.10" fill="#cbb6de"/>
<rect x="501.02" y="419.20" width="3.21" height="16.10" fill="#cbb6de"/>
<rect x="513.07" y="419.20" width="1.61" height="16.10" fill="#cbb6de"/>
<rect x="522.70" y="419.20" width="1.61" height="16.10" fill="#cbb6de"/>
<rect x="529.93" y="419.20" width="1.61" height="16.10" fill="#cbb6de"/>
<rect x="537.16" y="419.20" width="1.61" height="16.10" fill="#cbb6de"/>
<rect x="540.37" y="419.20" width="1.61" height="16.10" fill="#cbb6de"/>
<text x="130.80" y="399.38" font-size="11.22" textLength="19.56" lengthAdjust="spacingAndGlyphs" text-anchor="end" fill="#161616">MSI</text>
<text x="130.80" y="415.43" font-size="11.22" textLength="36.69" lengthAdjust="spacingAndGlyphs" text-anchor="end" fill="#161616">Gender</text>
<text x="130.80" y="431.53" font-size="11.22" textLength="19.57" lengthAdjust="spacingAndGlyphs" text-anchor="end" fill="#161616">Age</text>
<text x="339.30" y="451.00" font-size="13.82" textLength="82.91" lengthAdjust="spacingAndGlyphs" text-anchor="middle" fill="#161616">Sample n=430</text>
<text x="570.70" y="15.80" font-size="12.04" textLength="95.44" lengthAdjust="spacingAndGlyphs" text-anchor="start" fill="#161616">Translational Effect</text>
<rect x="571.00" y="22.60" width="13.20" height="13.00" fill="#ff3f3f"/>
<text x="590.40" y="31.56" font-size="7.72" textLength="41.33" lengthAdjust="spacingAndGlyphs" text-anchor="start" fill="#161616">Synonymous</text>
<rect x="571.00" y="36.35" width="13.20" height="13.00" fill="#3f3fff"/>
<text x="590.40" y="45.31" font-size="7.72" textLength="56.44" lengthAdjust="spacingAndGlyphs" text-anchor="start" fill="#161616">Non Synonymous</text>
<rect x="571.00" y="50.10" width="13.20" height="13.00" fill="#404040"/>
<text x="590.40" y="59.06" font-size="7.72" textLength="32.60" lengthAdjust="spacingAndGlyphs" text-anchor="start" fill="#161616">Undefined</text>
<text x="576.30" y="138.20" font-size="12.04" textLength="70.65" lengthAdjust="spacingAndGlyphs" text-anchor="start" fill="#161616">Mutation Type</text>
<rect x="576.10" y="145.20" width="13.50" height="13.40" fill="#4f00a8"/>
<text x="595.70" y="155.06" font-size="7.72" textLength="30.20" lengthAdjust="spacingAndGlyphs" text-anchor="start" fill="#161616">missense</text>
<rect x="576.10" y="158.99" width="13.50" height="13.40" fill="#a80100"/>
<text x="595.70" y="168.85" font-size="7.72" textLength="31.01" lengthAdjust="spacingAndGlyphs" text-anchor="start" fill="#161616">nonsense</text>
<rect x="576.10" y="172.78" width="13.50" height="13.40" fill="#cf5a59"/>
<text x="595.70" y="182.64" font-size="7.72" textLength="29.00" lengthAdjust="spacingAndGlyphs" text-anchor="start" fill="#161616">Germline</text>
<rect x="576.10" y="186.57" width="13.50" height="13.40" fill="#a80079"/>
<text x="595.70" y="196.43" font-size="7.72" textLength="48.48" lengthAdjust="spacingAndGlyphs" text-anchor="start" fill="#161616">frameshift indel</text>
<rect x="576.10" y="200.36" width="13.50" height="13.40" fill="#bc2d94"/>
<text x="595.70" y="210.22" font-size="7.72" textLength="12.71" lengthAdjust="spacingAndGlyphs" text-anchor="start" fill="#161616">loss</text>
<rect x="576.10" y="214.15" width="13.50" height="13.40" fill="#cf59ae"/>
<text x="595.70" y="224.01" font-size="7.72" textLength="64.59" lengthAdjust="spacingAndGlyphs" text-anchor="start" fill="#161616">non−frameshift indel</text>
<rect x="576.10" y="227.94" width="13.50" height="13.40" fill="#000000"/>
<text x="595.70" y="237.80" font-size="7.72" textLength="13.52" lengthAdjust="spacingAndGlyphs" text-anchor="start" fill="#161616">gain</text>
<rect x="576.10" y="241.73" width="13.50" height="13.40" fill="#006666"/>
<text x="595.70" y="251.59" font-size="7.72" textLength="18.28" lengthAdjust="spacingAndGlyphs" text-anchor="start" fill="#161616">splice</text>
<rect x="576.10" y="255.52" width="13.50" height="13.40" fill="#00a8a8"/>
<text x="595.70" y="265.38" font-size="7.72" textLength="40.14" lengthAdjust="spacingAndGlyphs" text-anchor="start" fill="#161616">synonymous</text>
<rect x="576.10" y="269.31" width="13.50" height="13.40" fill="#009933"/>
<text x="595.70" y="279.17" font-size="7.72" textLength="11.92" lengthAdjust="spacingAndGlyphs" text-anchor="start" fill="#161616">N/A</text>
<rect x="576.10" y="283.10" width="13.50" height="13.40" fill="#ace7b9"/>
<text x="595.70" y="292.96" font-size="7.72" textLength="25.44" lengthAdjust="spacingAndGlyphs" text-anchor="start" fill="#161616">nonstop</text>
<rect x="576.10" y="296.89" width="13.50" height="13.40" fill="#cdf0d5"/>
<text x="595.70" y="306.75" font-size="7.72" textLength="19.08" lengthAdjust="spacingAndGlyphs" text-anchor="start" fill="#161616">fusion</text>
<rect x="576.10" y="310.68" width="13.50" height="13.40" fill="#59cf74"/>
<text x="595.70" y="320.54" font-size="7.72" textLength="18.67" lengthAdjust="spacingAndGlyphs" text-anchor="start" fill="#161616">5UTR</text>
<text x="552.00" y="406.70" font-size="12.04" textLength="62.59" lengthAdjust="spacingAndGlyphs" text-anchor="start" fill="#161616">Clinical Data</text>
<rect x="552.00" y="413.50" width="13.60" height="13.30" fill="#cbb6de"/>
<text x="571.90" y="423.06" font-size="7.72" textLength="16.30" lengthAdjust="spacingAndGlyphs" text-anchor="start" fill="#161616">&gt;=60</text>
<rect x="552.00" y="427.10" width="13.60" height="13.30" fill="#9c74c0"/>
<text x="571.90" y="436.66" font-size="7.72" textLength="12.13" lengthAdjust="spacingAndGlyphs" text-anchor="start" fill="#161616">&lt;60</text>
<rect x="593.80" y="413.50" width="13.60" height="13.30" fill="#bfe86a"/>
<text x="613.30" y="423.06" font-size="7.72" textLength="15.50" lengthAdjust="spacingAndGlyphs" text-anchor="start" fill="#161616">Male</text>
<rect x="593.80" y="427.10" width="13.60" height="13.30" fill="#e53c2c"/>
<text x="613.30" y="436.66" font-size="7.72" textLength="23.84" lengthAdjust="spacingAndGlyphs" text-anchor="start" fill="#161616">Female</text>
<rect x="643.10" y="413.50" width="13.60" height="13.30" fill="#f2b705"/>
<text x="662.40" y="423.06" font-size="7.72" textLength="22.05" lengthAdjust="spacingAndGlyphs" text-anchor="start" fill="#161616">MSI−H</text>
<rect x="643.10" y="427.10" width="13.60" height="13.30" fill="#0d6fc6"/>
<text x="662.40" y="436.66" font-size="7.72" textLength="15.49" lengthAdjust="spacingAndGlyphs" text-anchor="start" fill="#161616">MSS</text>
<line x1="124.70" y1="536.27" x2="562.50" y2="536.27" stroke="#d0d0d0" stroke-width="1"/>
<line x1="124.70" y1="521.14" x2="562.50" y2="521.14" stroke="#d0d0d0" stroke-width="1"/>
<line x1="124.70" y1="506.01" x2="562.50" y2="506.01" stroke="#d0d0d0" stroke-width="1"/>
<line x1="124.70" y1="490.88" x2="562.50" y2="490.88" stroke="#d0d0d0" stroke-width="1"/>
<polygon points="125.10,551.40 125.10,491.18 129.56,491.18 129.56,535.21 134.03,535.21 134.03,540.36 138.49,540.36 138.49,508.73 142.96,508.73 142.96,543.08 147.42,543.08 147.42,532.03 151.88,532.03 151.88,540.05 156.35,540.05 156.35,540.05 160.81,540.05 160.81,538.99 165.28,538.99 165.28,542.62 169.74,542.62 169.74,538.24 174.20,538.24 174.20,541.11 178.67,541.11 178.67,538.24 183.13,538.24 183.13,542.62 187.60,542.62 187.60,543.08 192.06,543.08 192.06,532.03 196.52,532.03 196.52,546.71 200.99,546.71 200.99,547.62 205.45,547.62 205.45,550.60 209.92,550.60 209.92,550.60 214.38,550.60 214.38,543.08 218.84,543.08 218.84,550.60 223.31,550.60 223.31,550.19 227.77,550.19 227.77,550.60 232.24,550.60 232.24,550.60 236.70,550.60 236.70,550.60 241.16,550.60 241.16,550.60 245.63,550.60 245.63,546.10 250.09,546.10 250.09,549.28 254.56,549.28 254.56,550.60 259.02,550.60 259.02,550.60 263.48,550.60 263.48,550.60 267.95,550.60 267.95,550.60 272.41,550.60 272.41,550.19 276.88,550.19 276.88,514.63 281.34,514.63 281.34,542.32 285.80,542.32 285.80,540.05 290.27,540.05 290.27,538.99 294.73,538.99 294.73,518.72 299.20,518.72 299.20,519.93 303.66,519.93 303.66,550.60 308.12,550.60 308.12,550.60 312.59,550.60 312.59,550.60 317.05,550.60 317.05,550.60 321.52,550.60 321.52,550.60 325.98,550.60 325.98,550.60 330.44,550.60 330.44,550.60 334.91,550.60 334.91,550.60 339.37,550.60 339.37,550.60 343.84,550.60 343.84,550.60 348.30,550.60 348.30,550.60 352.76,550.60 352.76,550.60 357.23,550.60 357.23,549.89 361.69,549.89 361.69,550.60 366.16,550.60 366.16,550.60 370.62,550.60 370.62,550.60 375.08,550.60 375.08,550.60 379.55,550.60 379.55,550.60 384.01,550.60 384.01,550.49 388.48,550.49 388.48,550.49 392.94,550.49 392.94,550.60 397.40,550.60 397.40,550.60 401.87,550.60 401.87,550.60 406.33,550.60 406.33,550.60 410.80,550.60 410.80,550.60 415.26,550.60 415.26,550.60 419.72,550.60 419.72,550.60 424.19,550.60 424.19,550.60 428.65,550.60 428.65,550.60 433.12,550.60 433.12,550.60 437.58,550.60 437.58,550.60 442.04,550.60 442.04,526.89 446.51,526.89 446.51,540.05 450.97,540.05 450.97,538.24 455.44,538.24 455.44,537.63 459.90,537.63 459.90,537.18 464.36,537.18 464.36,550.60 468.83,550.60 468.83,550.60 473.29,550.60 473.29,550.60 477.76,550.60 477.76,538.84 482.22,538.84 482.22,550.60 486.68,550.60 486.68,550.60 491.15,550.60 491.15,550.60 495.61,550.60 495.61,550.60 500.08,550.60 500.08,533.85 504.54,533.85 504.54,548.22 509.00,548.22 509.00,550.60 513.47,550.60 513.47,523.56 517.93,523.56 517.93,543.08 522.40,543.08 522.40,550.60 526.86,550.60 526.86,542.02 531.32,542.02 531.32,546.10 535.79,546.10 535.79,550.60 540.25,550.60 540.25,550.60 544.72,550.60 544.72,550.60 549.18,550.60 549.18,550.60 553.64,550.60 553.64,550.60 558.11,550.60 558.11,550.60 562.57,550.60 562.57,551.40" fill="#3c3c3c"/>
<line x1="129.56" y1="535.21" x2="129.56" y2="551.40" stroke="#ffffff" stroke-width="0.4" stroke-opacity="0.1"/>
<line x1="134.03" y1="540.36" x2="134.03" y2="551.40" stroke="#ffffff" stroke-width="0.4" stroke-opacity="0.1"/>
<line x1="138.49" y1="540.36" x2="138.49" y2="551.40" stroke="#ffffff" stroke-width="0.4" stroke-opacity="0.1"/>
<line x1="142.96" y1="543.08" x2="142.96" y2="551.40" stroke="#ffffff" stroke-width="0.4" stroke-opacity="0.1"/>
<line x1="147.42" y1="543.08" x2="147.42" y2="551.40" stroke="#ffffff" stroke-width="0.4" stroke-opacity="0.1"/>
<line x1="151.88" y1="540.05" x2="151.88" y2="551.40" stroke="#ffffff" stroke-width="0.4" stroke-opacity="0.1"/>
<line x1="156.35" y1="540.05" x2="156.35" y2="551.40" stroke="#ffffff" stroke-width="0.4" stroke-opacity="0.1"/>
<line x1="160.81" y1="540.05" x2="160.81" y2="551.40" stroke="#ffffff" stroke-width="0.4" stroke-opacity="0.1"/>
<line x1="165.28" y1="542.62" x2="165.28" y2="551.40" stroke="#ffffff" stroke-width="0.4" stroke-opacity="0.1"/>
<line x1="169.74" y1="542.62" x2="169.74" y2="551.40" stroke="#ffffff" stroke-width="0.4" stroke-opacity="0.1"/>
<line x1="174.20" y1="541.11" x2="174.20" y2="551.40" stroke="#ffffff" stroke-width="0.4" stroke-opacity="0.1"/>
<line x1="178.67" y1="541.11" x2="178.67" y2="551.40" stroke="#ffffff" stroke-width="0.4" stroke-opacity="0.1"/>
<line x1="183.13" y1="542.62" x2="183.13" y2="551.40" stroke="#ffffff" stroke-width="0.4" stroke-opacity="0.1"/>
<line x1="187.60" y1="543.08" x2="187.60" y2="551.40" stroke="#ffffff" stroke-width="0.4" stroke-opacity="0.1"/>
<line x1="192.06" y1="543.08" x2="192.06" y2="551.40" stroke="#ffffff" stroke-width="0.4" stroke-opacity="0.1"/>
<line x1="196.52" y1="546.71" x2="196.52" y2="551.40" stroke="#ffffff" stroke-width="0.4" stroke-opacity="0.1"/>
<line x1="200.99" y1="547.62" x2="200.99" y2="551.40" stroke="#ffffff" stroke-width="0.4" stroke-opacity="0.1"/>
<line x1="250.09" y1="549.28" x2="250.09" y2="551.40" stroke="#ffffff" stroke-width="0.4" stroke-opacity="0.1"/>
<line x1="281.34" y1="542.32" x2="281.34" y2="551.40" stroke="#ffffff" stroke-width="0.4" stroke-opacity="0.1"/>
<line x1="285.80" y1="542.32" x2="285.80" y2="551.40" stroke="#ffffff" stroke-width="0.4" stroke-opacity="0.1"/>
<line x1="290.27" y1="540.05" x2="290.27" y2="551.40" stroke="#ffffff" stroke-width="0.4" stroke-opacity="0.1"/>
<line x1="294.73" y1="538.99" x2="294.73" y2="551.40" stroke="#ffffff" stroke-width="0.4" stroke-opacity="0.1"/>
<line x1="299.20" y1="519.93" x2="299.20" y2="551.40" stroke="#ffffff" stroke-width="0.4" stroke-opacity="0.1"/>
<line x1="446.51" y1="540.05" x2="446.51" y2="551.40" stroke="#ffffff" stroke-width="0.4" stroke-opacity="0.1"/>
<line x1="450.97" y1="540.05" x2="450.97" y2="551.40" stroke="#ffffff" stroke-width="0.4" stroke-opacity="0.1"/>
<line x1="455.44" y1="538.24" x2="455.44" y2="551.40" stroke="#ffffff" stroke-width="0.4" stroke-opacity="0.1"/>
<line x1="459.90" y1="537.63" x2="459.90" y2="551.40" stroke="#ffffff" stroke-width="0.4" stroke-opacity="0.1"/>
<line x1="504.54" y1="548.22" x2="504.54" y2="551.40" stroke="#ffffff" stroke-width="0.4" stroke-opacity="0.1"/>
<line x1="517.93" y1="543.08" x2="517.93" y2="551.40" stroke="#ffffff" stroke-width="0.4" stroke-opacity="0.1"/>
<line x1="531.32" y1="546.10" x2="531.32" y2="551.40" stroke="#ffffff" stroke-width="0.4" stroke-opacity="0.1"/>
<line x1="124.70" y1="488.90" x2="562.50" y2="488.90" stroke="#8a8a8a" stroke-width="1.3"/>
<line x1="562.50" y1="488.50" x2="562.50" y2="554.50" stroke="#8a8a8a" stroke-width="1.3"/>
<line x1="125.00" y1="488.50" x2="125.00" y2="554.50" stroke="#666" stroke-width="1"/>
<line x1="124.70" y1="554.00" x2="562.50" y2="554.00" stroke="#555" stroke-width="1.4"/>
<line x1="121.60" y1="551.40" x2="124.70" y2="551.40" stroke="#444" stroke-width="0.9"/>
<text x="121.00" y="554.55" font-size="7.99" textLength="4.12" lengthAdjust="spacingAndGlyphs" text-anchor="end" fill="#161616">0</text>
<line x1="121.60" y1="536.27" x2="124.70" y2="536.27" stroke="#444" stroke-width="0.9"/>
<text x="121.00" y="539.42" font-size="7.99" textLength="12.35" lengthAdjust="spacingAndGlyphs" text-anchor="end" fill="#161616">100</text>
<line x1="121.60" y1="521.14" x2="124.70" y2="521.14" stroke="#444" stroke-width="0.9"/>
<text x="121.00" y="524.29" font-size="7.99" textLength="12.35" lengthAdjust="spacingAndGlyphs" text-anchor="end" fill="#161616">200</text>
<line x1="121.60" y1="506.01" x2="124.70" y2="506.01" stroke="#444" stroke-width="0.9"/>
<text x="121.00" y="509.16" font-size="7.99" textLength="12.35" lengthAdjust="spacingAndGlyphs" text-anchor="end" fill="#161616">300</text>
<line x1="121.60" y1="490.88" x2="124.70" y2="490.88" stroke="#444" stroke-width="0.9"/>
<text x="121.00" y="494.03" font-size="7.99" textLength="12.35" lengthAdjust="spacingAndGlyphs" text-anchor="end" fill="#161616">400</text>
<text x="0" y="0" font-size="9.15" text-anchor="middle" fill="#161616" transform="translate(92.0,522.5) rotate(-90)">Mutation Burden</text>
<rect x="125.10" y="565.00" width="437.47" height="278.30" fill="#fefefe"/>
<line x1="125.10" y1="567.80" x2="562.57" y2="567.80" stroke="#f2f2f2" stroke-width="0.8"/>
<line x1="125.10" y1="592.60" x2="562.57" y2="592.60" stroke="#f2f2f2" stroke-width="0.8"/>
<line x1="125.10" y1="617.40" x2="562.57" y2="617.40" stroke="#f2f2f2" stroke-width="0.8"/>
<line x1="125.10" y1="642.20" x2="562.57" y2="642.20" stroke="#f2f2f2" stroke-width="0.8"/>
<line x1="125.10" y1="667.00" x2="562.57" y2="667.00" stroke="#f2f2f2" stroke-width="0.8"/>
<line x1="125.10" y1="691.80" x2="562.57" y2="691.80" stroke="#f2f2f2" stroke-width="0.8"/>
<line x1="125.10" y1="716.60" x2="562.57" y2="716.60" stroke="#f2f2f2" stroke-width="0.8"/>
<line x1="125.10" y1="741.40" x2="562.57" y2="741.40" stroke="#f2f2f2" stroke-width="0.8"/>
<line x1="125.10" y1="766.20" x2="562.57" y2="766.20" stroke="#f2f2f2" stroke-width="0.8"/>
<line x1="125.10" y1="791.00" x2="562.57" y2="791.00" stroke="#f2f2f2" stroke-width="0.8"/>
<line x1="125.10" y1="815.80" x2="562.57" y2="815.80" stroke="#f2f2f2" stroke-width="0.8"/>
<line x1="125.10" y1="840.60" x2="562.57" y2="840.60" stroke="#f2f2f2" stroke-width="0.8"/>
<line x1="125.10" y1="565.00" x2="125.10" y2="843.30" stroke="#f5f5f5" stroke-width="0.8"/>
<line x1="129.56" y1="565.00" x2="129.56" y2="843.30" stroke="#f5f5f5" stroke-width="0.8"/>
<line x1="134.03" y1="565.00" x2="134.03" y2="843.30" stroke="#f5f5f5" stroke-width="0.8"/>
<line x1="138.49" y1="565.00" x2="138.49" y2="843.30" stroke="#f5f5f5" stroke-width="0.8"/>
<line x1="142.96" y1="565.00" x2="142.96" y2="843.30" stroke="#f5f5f5" stroke-width="0.8"/>
<line x1="147.42" y1="565.00" x2="147.42" y2="843.30" stroke="#f5f5f5" stroke-width="0.8"/>
<line x1="151.88" y1="565.00" x2="151.88" y2="843.30" stroke="#f5f5f5" stroke-width="0.8"/>
<line x1="156.35" y1="565.00" x2="156.35" y2="843.30" stroke="#f5f5f5" stroke-width="0.8"/>
<line x1="160.81" y1="565.00" x2="160.81" y2="843.30" stroke="#f5f5f5" stroke-width="0.8"/>
<line x1="165.28" y1="565.00" x2="165.28" y2="843.30" stroke="#f5f5f5" stroke-width="0.8"/>
<line x1="169.74" y1="565.00" x2="169.74" y2="843.30" stroke="#f5f5f5" stroke-width="0.8"/>
<line x1="174.20" y1="565.00" x2="174.20" y2="843.30" stroke="#f5f5f5" stroke-width="0.8"/>
<line x1="178.67" y1="565.00" x2="178.67" y2="843.30" stroke="#f5f5f5" stroke-width="0.8"/>
<line x1="183.13" y1="565.00" x2="183.13" y2="843.30" stroke="#f5f5f5" stroke-width="0.8"/>
<line x1="187.60" y1="565.00" x2="187.60" y2="843.30" stroke="#f5f5f5" stroke-width="0.8"/>
<line x1="192.06" y1="565.00" x2="192.06" y2="843.30" stroke="#f5f5f5" stroke-width="0.8"/>
<line x1="196.52" y1="565.00" x2="196.52" y2="843.30" stroke="#f5f5f5" stroke-width="0.8"/>
<line x1="200.99" y1="565.00" x2="200.99" y2="843.30" stroke="#f5f5f5" stroke-width="0.8"/>
<line x1="205.45" y1="565.00" x2="205.45" y2="843.30" stroke="#f5f5f5" stroke-width="0.8"/>
<line x1="209.92" y1="565.00" x2="209.92" y2="843.30" stroke="#f5f5f5" stroke-width="0.8"/>
<line x1="214.38" y1="565.00" x2="214.38" y2="843.30" stroke="#f5f5f5" stroke-width="0.8"/>
<line x1="218.84" y1="565.00" x2="218.84" y2="843.30" stroke="#f5f5f5" stroke-width="0.8"/>
<line x1="223.31" y1="565.00" x2="223.31" y2="843.30" stroke="#f5f5f5" stroke-width="0.8"/>
<line x1="227.77" y1="565.00" x2="227.77" y2="843.30" stroke="#f5f5f5" stroke-width="0.8"/>
<line x1="232.24" y1="565.00" x2="232.24" y2="843.30" stroke="#f5f5f5" stroke-width="0.8"/>
<line x1="236.70" y1="565.00" x2="236.70" y2="843.30" stroke="#f5f5f5" stroke-width="0.8"/>
<line x1="241.16" y1="565.00" x2="241.16" y2="843.30" stroke="#f5f5f5" stroke-width="0.8"/>
<line x1="245.63" y1="565.00" x2="245.63" y2="843.30" stroke="#f5f5f5" stroke-width="0.8"/>
<line x1="250.09" y1="565.00" x2="250.09" y2="843.30" stroke="#f5f5f5" stroke-width="0.8"/>
<line x1="254.56" y1="565.00" x2="254.56" y2="843.30" stroke="#f5f5f5" stroke-width="0.8"/>
<line x1="259.02" y1="565.00" x2="259.02" y2="843.30" stroke="#f5f5f5" stroke-width="0.8"/>
<line x1="263.48" y1="565.00" x2="263.48" y2="843.30" stroke="#f5f5f5" stroke-width="0.8"/>
<line x1="267.95" y1="565.00" x2="267.95" y2="843.30" stroke="#f5f5f5" stroke-width="0.8"/>
<line x1="272.41" y1="565.00" x2="272.41" y2="843.30" stroke="#f5f5f5" stroke-width="0.8"/>
<line x1="276.88" y1="565.00" x2="276.88" y2="843.30" stroke="#f5f5f5" stroke-width="0.8"/>
<line x1="281.34" y1="565.00" x2="281.34" y2="843.30" stroke="#f5f5f5" stroke-width="0.8"/>
<line x1="285.80" y1="565.00" x2="285.80" y2="843.30" stroke="#f5f5f5" stroke-width="0.8"/>
<line x1="290.27" y1="565.00" x2="290.27" y2="843.30" stroke="#f5f5f5" stroke-width="0.8"/>
<line x1="294.73" y1="565.00" x2="294.73" y2="843.30" stroke="#f5f5f5" stroke-width="0.8"/>
<line x1="299.20" y1="565.00" x2="299.20" y2="843.30" stroke="#f5f5f5" stroke-width="0.8"/>
<line x1="303.66" y1="565.00" x2="303.66" y2="843.30" stroke="#f5f5f5" stroke-width="0.8"/>
<line x1="308.12" y1="565.00" x2="308.12" y2="843.30" stroke="#f5f5f5" stroke-width="0.8"/>
<line x1="312.59" y1="565.00" x2="312.59" y2="843.30" stroke="#f5f5f5" stroke-width="0.8"/>
<line x1="317.05" y1="565.00" x2="317.05" y2="843.30" stroke="#f5f5f5" stroke-width="0.8"/>
<line x1="321.52" y1="565.00" x2="321.52" y2="843.30" stroke="#f5f5f5" stroke-width="0.8"/>
<line x1="325.98" y1="565.00" x2="325.98" y2="843.30" stroke="#f5f5f5" stroke-width="0.8"/>
<line x1="330.44" y1="565.00" x2="330.44" y2="843.30" stroke="#f5f5f5" stroke-width="0.8"/>
<line x1="334.91" y1="565.00" x2="334.91" y2="843.30" stroke="#f5f5f5" stroke-width="0.8"/>
<line x1="339.37" y1="565.00" x2="339.37" y2="843.30" stroke="#f5f5f5" stroke-width="0.8"/>
<line x1="343.84" y1="565.00" x2="343.84" y2="843.30" stroke="#f5f5f5" stroke-width="0.8"/>
<line x1="348.30" y1="565.00" x2="348.30" y2="843.30" stroke="#f5f5f5" stroke-width="0.8"/>
<line x1="352.76" y1="565.00" x2="352.76" y2="843.30" stroke="#f5f5f5" stroke-width="0.8"/>
<line x1="357.23" y1="565.00" x2="357.23" y2="843.30" stroke="#f5f5f5" stroke-width="0.8"/>
<line x1="361.69" y1="565.00" x2="361.69" y2="843.30" stroke="#f5f5f5" stroke-width="0.8"/>
<line x1="366.16" y1="565.00" x2="366.16" y2="843.30" stroke="#f5f5f5" stroke-width="0.8"/>
<line x1="370.62" y1="565.00" x2="370.62" y2="843.30" stroke="#f5f5f5" stroke-width="0.8"/>
<line x1="375.08" y1="565.00" x2="375.08" y2="843.30" stroke="#f5f5f5" stroke-width="0.8"/>
<line x1="379.55" y1="565.00" x2="379.55" y2="843.30" stroke="#f5f5f5" stroke-width="0.8"/>
<line x1="384.01" y1="565.00" x2="384.01" y2="843.30" stroke="#f5f5f5" stroke-width="0.8"/>
<line x1="388.48" y1="565.00" x2="388.48" y2="843.30" stroke="#f5f5f5" stroke-width="0.8"/>
<line x1="392.94" y1="565.00" x2="392.94" y2="843.30" stroke="#f5f5f5" stroke-width="0.8"/>
<line x1="397.40" y1="565.00" x2="397.40" y2="843.30" stroke="#f5f5f5" stroke-width="0.8"/>
<line x1="401.87" y1="565.00" x2="401.87" y2="843.30" stroke="#f5f5f5" stroke-width="0.8"/>
<line x1="406.33" y1="565.00" x2="406.33" y2="843.30" stroke="#f5f5f5" stroke-width="0.8"/>
<line x1="410.80" y1="565.00" x2="410.80" y2="843.30" stroke="#f5f5f5" stroke-width="0.8"/>
<line x1="415.26" y1="565.00" x2="415.26" y2="843.30" stroke="#f5f5f5" stroke-width="0.8"/>
<line x1="419.72" y1="565.00" x2="419.72" y2="843.30" stroke="#f5f5f5" stroke-width="0.8"/>
<line x1="424.19" y1="565.00" x2="424.19" y2="843.30" stroke="#f5f5f5" stroke-width="0.8"/>
<line x1="428.65" y1="565.00" x2="428.65" y2="843.30" stroke="#f5f5f5" stroke-width="0.8"/>
<line x1="433.12" y1="565.00" x2="433.12" y2="843.30" stroke="#f5f5f5" stroke-width="0.8"/>
<line x1="437.58" y1="565.00" x2="437.58" y2="843.30" stroke="#f5f5f5" stroke-width="0.8"/>
<line x1="442.04" y1="565.00" x2="442.04" y2="843.30" stroke="#f5f5f5" stroke-width="0.8"/>
<line x1="446.51" y1="565.00" x2="446.51" y2="843.30" stroke="#f5f5f5" stroke-width="0.8"/>
<line x1="450.97" y1="565.00" x2="450.97" y2="843.30" stroke="#f5f5f5" stroke-width="0.8"/>
<line x1="455.44" y1="565.00" x2="455.44" y2="843.30" stroke="#f5f5f5" stroke-width="0.8"/>
<line x1="459.90" y1="565.00" x2="459.90" y2="843.30" stroke="#f5f5f5" stroke-width="0.8"/>
<line x1="464.36" y1="565.00" x2="464.36" y2="843.30" stroke="#f5f5f5" stroke-width="0.8"/>
<line x1="468.83" y1="565.00" x2="468.83" y2="843.30" stroke="#f5f5f5" stroke-width="0.8"/>
<line x1="473.29" y1="565.00" x2="473.29" y2="843.30" stroke="#f5f5f5" stroke-width="0.8"/>
<line x1="477.76" y1="565.00" x2="477.76" y2="843.30" stroke="#f5f5f5" stroke-width="0.8"/>
<line x1="482.22" y1="565.00" x2="482.22" y2="843.30" stroke="#f5f5f5" stroke-width="0.8"/>
<line x1="486.68" y1="565.00" x2="486.68" y2="843.30" stroke="#f5f5f5" stroke-width="0.8"/>
<line x1="491.15" y1="565.00" x2="491.15" y2="843.30" stroke="#f5f5f5" stroke-width="0.8"/>
<line x1="495.61" y1="565.00" x2="495.61" y2="843.30" stroke="#f5f5f5" stroke-width="0.8"/>
<line x1="500.08" y1="565.00" x2="500.08" y2="843.30" stroke="#f5f5f5" stroke-width="0.8"/>
<line x1="504.54" y1="565.00" x2="504.54" y2="843.30" stroke="#f5f5f5" stroke-width="0.8"/>
<line x1="509.00" y1="565.00" x2="509.00" y2="843.30" stroke="#f5f5f5" stroke-width="0.8"/>
<line x1="513.47" y1="565.00" x2="513.47" y2="843.30" stroke="#f5f5f5" stroke-width="0.8"/>
<line x1="517.93" y1="565.00" x2="517.93" y2="843.30" stroke="#f5f5f5" stroke-width="0.8"/>
<line x1="522.40" y1="565.00" x2="522.40" y2="843.30" stroke="#f5f5f5" stroke-width="0.8"/>
<line x1="526.86" y1="565.00" x2="526.86" y2="843.30" stroke="#f5f5f5" stroke-width="0.8"/>
<line x1="531.32" y1="565.00" x2="531.32" y2="843.30" stroke="#f5f5f5" stroke-width="0.8"/>
<line x1="535.79" y1="565.00" x2="535.79" y2="843.30" stroke="#f5f5f5" stroke-width="0.8"/>
<line x1="540.25" y1="565.00" x2="540.25" y2="843.30" stroke="#f5f5f5" stroke-width="0.8"/>
<line x1="544.72" y1="565.00" x2="544.72" y2="843.30" stroke="#f5f5f5" stroke-width="0.8"/>
<line x1="549.18" y1="565.00" x2="549.18" y2="843.30" stroke="#f5f5f5" stroke-width="0.8"/>
<line x1="553.64" y1="565.00" x2="553.64" y2="843.30" stroke="#f5f5f5" stroke-width="0.8"/>
<line x1="558.11" y1="565.00" x2="558.11" y2="843.30" stroke="#f5f5f5" stroke-width="0.8"/>
<line x1="562.57" y1="565.00" x2="562.57" y2="843.30" stroke="#f5f5f5" stroke-width="0.8"/>
<rect x="125.10" y="567.80" width="8.93" height="24.80" fill="#4f00a8"/>
<rect x="134.03" y="567.80" width="4.46" height="24.80" fill="#a80100"/>
<rect x="138.49" y="567.80" width="4.46" height="24.80" fill="#4f00a8"/>
<rect x="142.96" y="567.80" width="4.46" height="24.80" fill="#cf5a59"/>
<rect x="147.42" y="567.80" width="4.46" height="24.80" fill="#4f00a8"/>
<rect x="151.88" y="567.80" width="13.39" height="24.80" fill="#a80100"/>
<rect x="165.28" y="567.80" width="4.46" height="24.80" fill="#cf5a59"/>
<rect x="169.74" y="567.80" width="4.46" height="24.80" fill="#4f00a8"/>
<rect x="174.20" y="567.80" width="4.46" height="24.80" fill="#a80100"/>
<rect x="178.67" y="567.80" width="4.46" height="24.80" fill="#4f00a8"/>
<rect x="183.13" y="567.80" width="4.46" height="24.80" fill="#a80100"/>
<rect x="187.60" y="567.80" width="4.46" height="24.80" fill="#cf5a59"/>
<rect x="192.06" y="567.80" width="8.93" height="24.80" fill="#4f00a8"/>
<rect x="200.99" y="567.80" width="8.93" height="24.80" fill="#a80100"/>
<rect x="209.92" y="567.80" width="4.46" height="24.80" fill="#cf5a59"/>
<rect x="214.38" y="567.80" width="4.46" height="24.80" fill="#a80100"/>
<rect x="218.84" y="567.80" width="4.46" height="24.80" fill="#cf5a59"/>
<rect x="223.31" y="567.80" width="4.46" height="24.80" fill="#a80100"/>
<rect x="227.77" y="567.80" width="4.46" height="24.80" fill="#cf5a59"/>
<rect x="232.24" y="567.80" width="4.46" height="24.80" fill="#a80100"/>
<rect x="236.70" y="567.80" width="4.46" height="24.80" fill="#cf5a59"/>
<rect x="241.16" y="567.80" width="4.46" height="24.80" fill="#a80100"/>
<rect x="245.63" y="567.80" width="4.46" height="24.80" fill="#cf5a59"/>
<rect x="250.09" y="567.80" width="4.46" height="24.80" fill="#4f00a8"/>
<rect x="254.56" y="567.80" width="13.39" height="24.80" fill="#a80100"/>
<rect x="267.95" y="567.80" width="4.46" height="24.80" fill="#cf5a59"/>
<rect x="272.41" y="567.80" width="4.46" height="24.80" fill="#a80100"/>
<rect x="276.88" y="567.80" width="4.46" height="24.80" fill="#cf5a59"/>
<rect x="281.34" y="567.80" width="4.46" height="24.80" fill="#a80100"/>
<rect x="285.80" y="567.80" width="4.46" height="24.80" fill="#4f00a8"/>
<rect x="290.27" y="567.80" width="4.46" height="24.80" fill="#a80100"/>
<rect x="294.73" y="567.80" width="4.46" height="24.80" fill="#4f00a8"/>
<rect x="299.20" y="567.80" width="8.93" height="24.80" fill="#a80100"/>
<rect x="308.12" y="567.80" width="8.93" height="24.80" fill="#cf5a59"/>
<rect x="317.05" y="567.80" width="4.46" height="24.80" fill="#a80100"/>
<rect x="321.52" y="567.80" width="4.46" height="24.80" fill="#cf5a59"/>
<rect x="325.98" y="567.80" width="4.46" height="24.80" fill="#a80100"/>
<rect x="330.44" y="567.80" width="8.93" height="24.80" fill="#cf5a59"/>
<rect x="339.37" y="567.80" width="4.46" height="24.80" fill="#bc2d94"/>
<rect x="343.84" y="567.80" width="13.39" height="24.80" fill="#cf5a59"/>
<rect x="357.23" y="567.80" width="4.46" height="24.80" fill="#a80100"/>
<rect x="361.69" y="567.80" width="8.93" height="24.80" fill="#cf5a59"/>
<rect x="370.62" y="567.80" width="4.46" height="24.80" fill="#a80100"/>
<rect x="375.08" y="567.80" width="4.46" height="24.80" fill="#cf5a59"/>
<rect x="379.55" y="567.80" width="4.46" height="24.80" fill="#a80100"/>
<rect x="384.01" y="567.80" width="8.93" height="24.80" fill="#cf5a59"/>
<rect x="392.94" y="567.80" width="13.39" height="24.80" fill="#a80100"/>
<rect x="406.33" y="567.80" width="4.46" height="24.80" fill="#000000"/>
<rect x="410.80" y="567.80" width="8.93" height="24.80" fill="#a80100"/>
<rect x="419.72" y="567.80" width="4.46" height="24.80" fill="#cf5a59"/>
<rect x="424.19" y="567.80" width="4.46" height="24.80" fill="#a80100"/>
<rect x="428.65" y="567.80" width="8.93" height="24.80" fill="#cf5a59"/>
<rect x="437.58" y="567.80" width="4.46" height="24.80" fill="#a80100"/>
<rect x="125.10" y="592.60" width="75.89" height="24.80" fill="#4f00a8"/>
<rect x="200.99" y="592.60" width="4.46" height="24.80" fill="#006666"/>
<rect x="205.45" y="592.60" width="22.32" height="24.80" fill="#4f00a8"/>
<rect x="227.77" y="592.60" width="4.46" height="24.80" fill="#006666"/>
<rect x="232.24" y="592.60" width="44.64" height="24.80" fill="#4f00a8"/>
<rect x="442.04" y="592.60" width="58.03" height="24.80" fill="#4f00a8"/>
<rect x="125.10" y="617.40" width="4.46" height="24.80" fill="#4f00a8"/>
<rect x="129.56" y="617.40" width="8.93" height="24.80" fill="#000000"/>
<rect x="138.49" y="617.40" width="8.93" height="24.80" fill="#4f00a8"/>
<rect x="147.42" y="617.40" width="4.46" height="24.80" fill="#bc2d94"/>
<rect x="151.88" y="617.40" width="8.93" height="24.80" fill="#cf5a59"/>
<rect x="276.88" y="617.40" width="4.46" height="24.80" fill="#4f00a8"/>
<rect x="281.34" y="617.40" width="4.46" height="24.80" fill="#cf5a59"/>
<rect x="285.80" y="617.40" width="4.46" height="24.80" fill="#4f00a8"/>
<rect x="290.27" y="617.40" width="4.46" height="24.80" fill="#006666"/>
<rect x="442.04" y="617.40" width="4.46" height="24.80" fill="#006666"/>
<rect x="446.51" y="617.40" width="4.46" height="24.80" fill="#cf5a59"/>
<rect x="450.97" y="617.40" width="4.46" height="24.80" fill="#000000"/>
<rect x="455.44" y="617.40" width="4.46" height="24.80" fill="#a80100"/>
<rect x="500.08" y="617.40" width="4.46" height="24.80" fill="#a80100"/>
<rect x="504.54" y="617.40" width="4.46" height="24.80" fill="#4f00a8"/>
<rect x="125.10" y="642.20" width="17.86" height="24.80" fill="#4f00a8"/>
<rect x="160.81" y="642.20" width="13.39" height="24.80" fill="#4f00a8"/>
<rect x="276.88" y="642.20" width="4.46" height="24.80" fill="#4f00a8"/>
<rect x="294.73" y="642.20" width="4.46" height="24.80" fill="#4f00a8"/>
<rect x="442.04" y="642.20" width="8.93" height="24.80" fill="#4f00a8"/>
<rect x="500.08" y="642.20" width="4.46" height="24.80" fill="#bc2d94"/>
<rect x="504.54" y="642.20" width="13.39" height="24.80" fill="#4f00a8"/>
<rect x="160.81" y="667.00" width="4.46" height="24.80" fill="#4f00a8"/>
<rect x="174.20" y="667.00" width="13.39" height="24.80" fill="#4f00a8"/>
<rect x="276.88" y="667.00" width="4.46" height="24.80" fill="#4f00a8"/>
<rect x="299.20" y="667.00" width="8.93" height="24.80" fill="#4f00a8"/>
<rect x="308.12" y="667.00" width="4.46" height="24.80" fill="#00a8a8"/>
<rect x="312.59" y="667.00" width="4.46" height="24.80" fill="#4f00a8"/>
<rect x="317.05" y="667.00" width="4.46" height="24.80" fill="#00a8a8"/>
<rect x="450.97" y="667.00" width="4.46" height="24.80" fill="#4f00a8"/>
<rect x="500.08" y="667.00" width="4.46" height="24.80" fill="#4f00a8"/>
<rect x="517.93" y="667.00" width="4.46" height="24.80" fill="#4f00a8"/>
<rect x="522.40" y="667.00" width="4.46" height="24.80" fill="#00a8a8"/>
<rect x="125.10" y="691.80" width="8.93" height="24.80" fill="#4f00a8"/>
<rect x="142.96" y="691.80" width="4.46" height="24.80" fill="#4f00a8"/>
<rect x="147.42" y="691.80" width="4.46" height="24.80" fill="#a80100"/>
<rect x="187.60" y="691.80" width="4.46" height="24.80" fill="#4f00a8"/>
<rect x="276.88" y="691.80" width="4.46" height="24.80" fill="#a80100"/>
<rect x="299.20" y="691.80" width="4.46" height="24.80" fill="#4f00a8"/>
<rect x="459.90" y="691.80" width="4.46" height="24.80" fill="#a80100"/>
<rect x="504.54" y="691.80" width="8.93" height="24.80" fill="#4f00a8"/>
<rect x="513.47" y="691.80" width="4.46" height="24.80" fill="#cf5a59"/>
<rect x="142.96" y="716.60" width="4.46" height="24.80" fill="#000000"/>
<rect x="174.20" y="716.60" width="4.46" height="24.80" fill="#000000"/>
<rect x="178.67" y="716.60" width="4.46" height="24.80" fill="#4f00a8"/>
<rect x="187.60" y="716.60" width="8.93" height="24.80" fill="#4f00a8"/>
<rect x="196.52" y="716.60" width="4.46" height="24.80" fill="#000000"/>
<rect x="294.73" y="716.60" width="4.46" height="24.80" fill="#4f00a8"/>
<rect x="459.90" y="716.60" width="4.46" height="24.80" fill="#4f00a8"/>
<rect x="504.54" y="716.60" width="4.46" height="24.80" fill="#4f00a8"/>
<rect x="526.86" y="716.60" width="4.46" height="24.80" fill="#000000"/>
<rect x="531.32" y="716.60" width="4.46" height="24.80" fill="#cf5a59"/>
<rect x="165.28" y="741.40" width="4.46" height="24.80" fill="#4f00a8"/>
<rect x="281.34" y="741.40" width="8.93" height="24.80" fill="#4f00a8"/>
<rect x="321.52" y="741.40" width="8.93" height="24.80" fill="#4f00a8"/>
<rect x="504.54" y="741.40" width="8.93" height="24.80" fill="#4f00a8"/>
<rect x="517.93" y="741.40" width="4.46" height="24.80" fill="#4f00a8"/>
<rect x="526.86" y="741.40" width="4.46" height="24.80" fill="#4f00a8"/>
<rect x="535.79" y="741.40" width="4.46" height="24.80" fill="#4f00a8"/>
<rect x="147.42" y="766.20" width="4.46" height="24.80" fill="#4f00a8"/>
<rect x="174.20" y="766.20" width="4.46" height="24.80" fill="#bc2d94"/>
<rect x="330.44" y="766.20" width="22.32" height="24.80" fill="#4f00a8"/>
<rect x="134.03" y="791.00" width="4.46" height="24.80" fill="#bc2d94"/>
<rect x="147.42" y="791.00" width="4.46" height="24.80" fill="#4f00a8"/>
<rect x="192.06" y="791.00" width="4.46" height="24.80" fill="#a80100"/>
<rect x="200.99" y="791.00" width="4.46" height="24.80" fill="#4f00a8"/>
<rect x="352.76" y="791.00" width="4.46" height="24.80" fill="#4f00a8"/>
<rect x="500.08" y="791.00" width="4.46" height="24.80" fill="#4f00a8"/>
<rect x="138.49" y="815.80" width="4.46" height="24.80" fill="#4f00a8"/>
<rect x="165.28" y="815.80" width="4.46" height="24.80" fill="#4f00a8"/>
<line x1="129.56" y1="567.80" x2="129.56" y2="592.60" stroke="#ffffff" stroke-width="0.4" stroke-opacity="0.12"/>
<line x1="134.03" y1="567.80" x2="134.03" y2="592.60" stroke="#ffffff" stroke-width="0.4" stroke-opacity="0.12"/>
<line x1="138.49" y1="567.80" x2="138.49" y2="592.60" stroke="#ffffff" stroke-width="0.4" stroke-opacity="0.12"/>
<line x1="142.96" y1="567.80" x2="142.96" y2="592.60" stroke="#ffffff" stroke-width="0.4" stroke-opacity="0.12"/>
<line x1="147.42" y1="567.80" x2="147.42" y2="592.60" stroke="#ffffff" stroke-width="0.4" stroke-opacity="0.12"/>
<line x1="151.88" y1="567.80" x2="151.88" y2="592.60" stroke="#ffffff" stroke-width="0.4" stroke-opacity="0.12"/>
<line x1="156.35" y1="567.80" x2="156.35" y2="592.60" stroke="#ffffff" stroke-width="0.4" stroke-opacity="0.12"/>
<line x1="160.81" y1="567.80" x2="160.81" y2="592.60" stroke="#ffffff" stroke-width="0.4" stroke-opacity="0.12"/>
<line x1="165.28" y1="567.80" x2="165.28" y2="592.60" stroke="#ffffff" stroke-width="0.4" stroke-opacity="0.12"/>
<line x1="169.74" y1="567.80" x2="169.74" y2="592.60" stroke="#ffffff" stroke-width="0.4" stroke-opacity="0.12"/>
<line x1="174.20" y1="567.80" x2="174.20" y2="592.60" stroke="#ffffff" stroke-width="0.4" stroke-opacity="0.12"/>
<line x1="178.67" y1="567.80" x2="178.67" y2="592.60" stroke="#ffffff" stroke-width="0.4" stroke-opacity="0.12"/>
<line x1="183.13" y1="567.80" x2="183.13" y2="592.60" stroke="#ffffff" stroke-width="0.4" stroke-opacity="0.12"/>
<line x1="187.60" y1="567.80" x2="187.60" y2="592.60" stroke="#ffffff" stroke-width="0.4" stroke-opacity="0.12"/>
<line x1="192.06" y1="567.80" x2="192.06" y2="592.60" stroke="#ffffff" stroke-width="0.4" stroke-opacity="0.12"/>
<line x1="196.52" y1="567.80" x2="196.52" y2="592.60" stroke="#ffffff" stroke-width="0.4" stroke-opacity="0.12"/>
<line x1="200.99" y1="567.80" x2="200.99" y2="592.60" stroke="#ffffff" stroke-width="0.4" stroke-opacity="0.12"/>
<line x1="205.45" y1="567.80" x2="205.45" y2="592.60" stroke="#ffffff" stroke-width="0.4" stroke-opacity="0.12"/>
<line x1="209.92" y1="567.80" x2="209.92" y2="592.60" stroke="#ffffff" stroke-width="0.4" stroke-opacity="0.12"/>
<line x1="214.38" y1="567.80" x2="214.38" y2="592.60" stroke="#ffffff" stroke-width="0.4" stroke-opacity="0.12"/>
<line x1="218.84" y1="567.80" x2="218.84" y2="592.60" stroke="#ffffff" stroke-width="0.4" stroke-opacity="0.12"/>
<line x1="223.31" y1="567.80" x2="223.31" y2="592.60" stroke="#ffffff" stroke-width="0.4" stroke-opacity="0.12"/>
<line x1="227.77" y1="567.80" x2="227.77" y2="592.60" stroke="#ffffff" stroke-width="0.4" stroke-opacity="0.12"/>
<line x1="232.24" y1="567.80" x2="232.24" y2="592.60" stroke="#ffffff" stroke-width="0.4" stroke-opacity="0.12"/>
<line x1="236.70" y1="567.80" x2="236.70" y2="592.60" stroke="#ffffff" stroke-width="0.4" stroke-opacity="0.12"/>
<line x1="241.16" y1="567.80" x2="241.16" y2="592.60" stroke="#ffffff" stroke-width="0.4" stroke-opacity="0.12"/>
<line x1="245.63" y1="567.80" x2="245.63" y2="592.60" stroke="#ffffff" stroke-width="0.4" stroke-opacity="0.12"/>
<line x1="250.09" y1="567.80" x2="250.09" y2="592.60" stroke="#ffffff" stroke-width="0.4" stroke-opacity="0.12"/>
<line x1="254.56" y1="567.80" x2="254.56" y2="592.60" stroke="#ffffff" stroke-width="0.4" stroke-opacity="0.12"/>
<line x1="259.02" y1="567.80" x2="259.02" y2="592.60" stroke="#ffffff" stroke-width="0.4" stroke-opacity="0.12"/>
<line x1="263.48" y1="567.80" x2="263.48" y2="592.60" stroke="#ffffff" stroke-width="0.4" stroke-opacity="0.12"/>
<line x1="267.95" y1="567.80" x2="267.95" y2="592.60" stroke="#ffffff" stroke-width="0.4" stroke-opacity="0.12"/>
<line x1="272.41" y1="567.80" x2="272.41" y2="592.60" stroke="#ffffff" stroke-width="0.4" stroke-opacity="0.12"/>
<line x1="276.88" y1="567.80" x2="276.88" y2="592.60" stroke="#ffffff" stroke-width="0.4" stroke-opacity="0.12"/>
<line x1="281.34" y1="567.80" x2="281.34" y2="592.60" stroke="#ffffff" stroke-width="0.4" stroke-opacity="0.12"/>
<line x1="285.80" y1="567.80" x2="285.80" y2="592.60" stroke="#ffffff" stroke-width="0.4" stroke-opacity="0.12"/>
<line x1="290.27" y1="567.80" x2="290.27" y2="592.60" stroke="#ffffff" stroke-width="0.4" stroke-opacity="0.12"/>
<line x1="294.73" y1="567.80" x2="294.73" y2="592.60" stroke="#ffffff" stroke-width="0.4" stroke-opacity="0.12"/>
<line x1="299.20" y1="567.80" x2="299.20" y2="592.60" stroke="#ffffff" stroke-width="0.4" stroke-opacity="0.12"/>
<line x1="303.66" y1="567.80" x2="303.66" y2="592.60" stroke="#ffffff" stroke-width="0.4" stroke-opacity="0.12"/>
<line x1="308.12" y1="567.80" x2="308.12" y2="592.60" stroke="#ffffff" stroke-width="0.4" stroke-opacity="0.12"/>
<line x1="312.59" y1="567.80" x2="312.59" y2="592.60" stroke="#ffffff" stroke-width="0.4" stroke-opacity="0.12"/>
<line x1="317.05" y1="567.80" x2="317.05" y2="592.60" stroke="#ffffff" stroke-width="0.4" stroke-opacity="0.12"/>
<line x1="321.52" y1="567.80" x2="321.52" y2="592.60" stroke="#ffffff" stroke-width="0.4" stroke-opacity="0.12"/>
<line x1="325.98" y1="567.80" x2="325.98" y2="592.60" stroke="#ffffff" stroke-width="0.4" stroke-opacity="0.12"/>
<line x1="330.44" y1="567.80" x2="330.44" y2="592.60" stroke="#ffffff" stroke-width="0.4" stroke-opacity="0.12"/>
<line x1="334.91" y1="567.80" x2="334.91" y2="592.60" stroke="#ffffff" stroke-width="0.4" stroke-opacity="0.12"/>
<line x1="339.37" y1="567.80" x2="339.37" y2="592.60" stroke="#ffffff" stroke-width="0.4" stroke-opacity="0.12"/>
<line x1="343.84" y1="567.80" x2="343.84" y2="592.60" stroke="#ffffff" stroke-width="0.4" stroke-opacity="0.12"/>
<line x1="348.30" y1="567.80" x2="348.30" y2="592.60" stroke="#ffffff" stroke-width="0.4" stroke-opacity="0.12"/>
<line x1="352.76" y1="567.80" x2="352.76" y2="592.60" stroke="#ffffff" stroke-width="0.4" stroke-opacity="0.12"/>
<line x1="357.23" y1="567.80" x2="357.23" y2="592.60" stroke="#ffffff" stroke-width="0.4" stroke-opacity="0.12"/>
<line x1="361.69" y1="567.80" x2="361.69" y2="592.60" stroke="#ffffff" stroke-width="0.4" stroke-opacity="0.12"/>
<line x1="366.16" y1="567.80" x2="366.16" y2="592.60" stroke="#ffffff" stroke-width="0.4" stroke-opacity="0.12"/>
<line x1="370.62" y1="567.80" x2="370.62" y2="592.60" stroke="#ffffff" stroke-width="0.4" stroke-opacity="0.12"/>
<line x1="375.08" y1="567.80" x2="375.08" y2="592.60" stroke="#ffffff" stroke-width="0.4" stroke-opacity="0.12"/>
<line x1="379.55" y1="567.80" x2="379.55" y2="592.60" stroke="#ffffff" stroke-width="0.4" stroke-opacity="0.12"/>
<line x1="384.01" y1="567.80" x2="384.01" y2="592.60" stroke="#ffffff" stroke-width="0.4" stroke-opacity="0.12"/>
<line x1="388.48" y1="567.80" x2="388.48" y2="592.60" stroke="#ffffff" stroke-width="0.4" stroke-opacity="0.12"/>
<line x1="392.94" y1="567.80" x2="392.94" y2="592.60" stroke="#ffffff" stroke-width="0.4" stroke-opacity="0.12"/>
<line x1="397.40" y1="567.80" x2="397.40" y2="592.60" stroke="#ffffff" stroke-width="0.4" stroke-opacity="0.12"/>
<line x1="401.87" y1="567.80" x2="401.87" y2="592.60" stroke="#ffffff" stroke-width="0.4" stroke-opacity="0.12"/>
<line x1="406.33" y1="567.80" x2="406.33" y2="592.60" stroke="#ffffff" stroke-width="0.4" stroke-opacity="0.12"/>
<line x1="410.80" y1="567.80" x2="410.80" y2="592.60" stroke="#ffffff" stroke-width="0.4" stroke-opacity="0.12"/>
<line x1="415.26" y1="567.80" x2="415.26" y2="592.60" stroke="#ffffff" stroke-width="0.4" stroke-opacity="0.12"/>
<line x1="419.72" y1="567.80" x2="419.72" y2="592.60" stroke="#ffffff" stroke-width="0.4" stroke-opacity="0.12"/>
<line x1="424.19" y1="567.80" x2="424.19" y2="592.60" stroke="#ffffff" stroke-width="0.4" stroke-opacity="0.12"/>
<line x1="428.65" y1="567.80" x2="428.65" y2="592.60" stroke="#ffffff" stroke-width="0.4" stroke-opacity="0.12"/>
<line x1="433.12" y1="567.80" x2="433.12" y2="592.60" stroke="#ffffff" stroke-width="0.4" stroke-opacity="0.12"/>
<line x1="437.58" y1="567.80" x2="437.58" y2="592.60" stroke="#ffffff" stroke-width="0.4" stroke-opacity="0.12"/>
<line x1="129.56" y1="592.60" x2="129.56" y2="617.40" stroke="#ffffff" stroke-width="0.4" stroke-opacity="0.12"/>
<line x1="134.03" y1="592.60" x2="134.03" y2="617.40" stroke="#ffffff" stroke-width="0.4" stroke-opacity="0.12"/>
<line x1="138.49" y1="592.60" x2="138.49" y2="617.40" stroke="#ffffff" stroke-width="0.4" stroke-opacity="0.12"/>
<line x1="142.96" y1="592.60" x2="142.96" y2="617.40" stroke="#ffffff" stroke-width="0.4" stroke-opacity="0.12"/>
<line x1="147.42" y1="592.60" x2="147.42" y2="617.40" stroke="#ffffff" stroke-width="0.4" stroke-opacity="0.12"/>
<line x1="151.88" y1="592.60" x2="151.88" y2="617.40" stroke="#ffffff" stroke-width="0.4" stroke-opacity="0.12"/>
<line x1="156.35" y1="592.60" x2="156.35" y2="617.40" stroke="#ffffff" stroke-width="0.4" stroke-opacity="0.12"/>
<line x1="160.81" y1="592.60" x2="160.81" y2="617.40" stroke="#ffffff" stroke-width="0.4" stroke-opacity="0.12"/>
<line x1="165.28" y1="592.60" x2="165.28" y2="617.40" stroke="#ffffff" stroke-width="0.4" stroke-opacity="0.12"/>
<line x1="169.74" y1="592.60" x2="169.74" y2="617.40" stroke="#ffffff" stroke-width="0.4" stroke-opacity="0.12"/>
<line x1="174.20" y1="592.60" x2="174.20" y2="617.40" stroke="#ffffff" stroke-width="0.4" stroke-opacity="0.12"/>
<line x1="178.67" y1="592.60" x2="178.67" y2="617.40" stroke="#ffffff" stroke-width="0.4" stroke-opacity="0.12"/>
<line x1="183.13" y1="592.60" x2="183.13" y2="617.40" stroke="#ffffff" stroke-width="0.4" stroke-opacity="0.12"/>
<line x1="187.60" y1="592.60" x2="187.60" y2="617.40" stroke="#ffffff" stroke-width="0.4" stroke-opacity="0.12"/>
<line x1="192.06" y1="592.60" x2="192.06" y2="617.40" stroke="#ffffff" stroke-width="0.4" stroke-opacity="0.12"/>
<line x1="196.52" y1="592.60" x2="196.52" y2="617.40" stroke="#ffffff" stroke-width="0.4" stroke-opacity="0.12"/>
<line x1="200.99" y1="592.60" x2="200.99" y2="617.40" stroke="#ffffff" stroke-width="0.4" stroke-opacity="0.12"/>
<line x1="205.45" y1="592.60" x2="205.45" y2="617.40" stroke="#ffffff" stroke-width="0.4" stroke-opacity="0.12"/>
<line x1="209.92" y1="592.60" x2="209.92" y2="617.40" stroke="#ffffff" stroke-width="0.4" stroke-opacity="0.12"/>
<line x1="214.38" y1="592.60" x2="214.38" y2="617.40" stroke="#ffffff" stroke-width="0.4" stroke-opacity="0.12"/>
<line x1="218.84" y1="592.60" x2="218.84" y2="617.40" stroke="#ffffff" stroke-width="0.4" stroke-opacity="0.12"/>
<line x1="223.31" y1="592.60" x2="223.31" y2="617.40" stroke="#ffffff" stroke-width="0.4" stroke-opacity="0.12"/>
<line x1="227.77" y1="592.60" x2="227.77" y2="617.40" stroke="#ffffff" stroke-width="0.4" stroke-opacity="0.12"/>
<line x1="232.24" y1="592.60" x2="232.24" y2="617.40" stroke="#ffffff" stroke-width="0.4" stroke-opacity="0.12"/>
<line x1="236.70" y1="592.60" x2="236.70" y2="617.40" stroke="#ffffff" stroke-width="0.4" stroke-opacity="0.12"/>
<line x1="241.16" y1="592.60" x2="241.16" y2="617.40" stroke="#ffffff" stroke-width="0.4" stroke-opacity="0.12"/>
<line x1="245.63" y1="592.60" x2="245.63" y2="617.40" stroke="#ffffff" stroke-width="0.4" stroke-opacity="0.12"/>
<line x1="250.09" y1="592.60" x2="250.09" y2="617.40" stroke="#ffffff" stroke-width="0.4" stroke-opacity="0.12"/>
<line x1="254.56" y1="592.60" x2="254.56" y2="617.40" stroke="#ffffff" stroke-width="0.4" stroke-opacity="0.12"/>
<line x1="259.02" y1="592.60" x2="259.02" y2="617.40" stroke="#ffffff" stroke-width="0.4" stroke-opacity="0.12"/>
<line x1="263.48" y1="592.60" x2="263.48" y2="617.40" stroke="#ffffff" stroke-width="0.4" stroke-opacity="0.12"/>
<line x1="267.95" y1="592.60" x2="267.95" y2="617.40" stroke="#ffffff" stroke-width="0.4" stroke-opacity="0.12"/>
<line x1="272.41" y1="592.60" x2="272.41" y2="617.40" stroke="#ffffff" stroke-width="0.4" stroke-opacity="0.12"/>
<line x1="446.51" y1="592.60" x2="446.51" y2="617.40" stroke="#ffffff" stroke-width="0.4" stroke-opacity="0.12"/>
<line x1="450.97" y1="592.60" x2="450.97" y2="617.40" stroke="#ffffff" stroke-width="0.4" stroke-opacity="0.12"/>
<line x1="455.44" y1="592.60" x2="455.44" y2="617.40" stroke="#ffffff" stroke-width="0.4" stroke-opacity="0.12"/>
<line x1="459.90" y1="592.60" x2="459.90" y2="617.40" stroke="#ffffff" stroke-width="0.4" stroke-opacity="0.12"/>
<line x1="464.36" y1="592.60" x2="464.36" y2="617.40" stroke="#ffffff" stroke-width="0.4" stroke-opacity="0.12"/>
<line x1="468.83" y1="592.60" x2="468.83" y2="617.40" stroke="#ffffff" stroke-width="0.4" stroke-opacity="0.12"/>
<line x1="473.29" y1="592.60" x2="473.29" y2="617.40" stroke="#ffffff" stroke-width="0.4" stroke-opacity="0.12"/>
<line x1="477.76" y1="592.60" x2="477.76" y2="617.40" stroke="#ffffff" stroke-width="0.4" stroke-opacity="0.12"/>
<line x1="482.22" y1="592.60" x2="482.22" y2="617.40" stroke="#ffffff" stroke-width="0.4" stroke-opacity="0.12"/>
<line x1="486.68" y1="592.60" x2="486.68" y2="617.40" stroke="#ffffff" stroke-width="0.4" stroke-opacity="0.12"/>
<line x1="491.15" y1="592.60" x2="491.15" y2="617.40" stroke="#ffffff" stroke-width="0.4" stroke-opacity="0.12"/>
<line x1="495.61" y1="592.60" x2="495.61" y2="617.40" stroke="#ffffff" stroke-width="0.4" stroke-opacity="0.12"/>
<line x1="129.56" y1="617.40" x2="129.56" y2="642.20" stroke="#ffffff" stroke-width="0.4" stroke-opacity="0.12"/>
<line x1="134.03" y1="617.40" x2="134.03" y2="642.20" stroke="#ffffff" stroke-width="0.4" stroke-opacity="0.12"/>
<line x1="138.49" y1="617.40" x2="138.49" y2="642.20" stroke="#ffffff" stroke-width="0.4" stroke-opacity="0.12"/>
<line x1="142.96" y1="617.40" x2="142.96" y2="642.20" stroke="#ffffff" stroke-width="0.4" stroke-opacity="0.12"/>
<line x1="147.42" y1="617.40" x2="147.42" y2="642.20" stroke="#ffffff" stroke-width="0.4" stroke-opacity="0.12"/>
<line x1="151.88" y1="617.40" x2="151.88" y2="642.20" stroke="#ffffff" stroke-width="0.4" stroke-opacity="0.12"/>
<line x1="156.35" y1="617.40" x2="156.35" y2="642.20" stroke="#ffffff" stroke-width="0.4" stroke-opacity="0.12"/>
<line x1="281.34" y1="617.40" x2="281.34" y2="642.20" stroke="#ffffff" stroke-width="0.4" stroke-opacity="0.12"/>
<line x1="285.80" y1="617.40" x2="285.80" y2="642.20" stroke="#ffffff" stroke-width="0.4" stroke-opacity="0.12"/>
<line x1="290.27" y1="617.40" x2="290.27" y2="642.20" stroke="#ffffff" stroke-width="0.4" stroke-opacity="0.12"/>
<line x1="446.51" y1="617.40" x2="446.51" y2="642.20" stroke="#ffffff" stroke-width="0.4" stroke-opacity="0.12"/>
<line x1="450.97" y1="617.40" x2="450.97" y2="642.20" stroke="#ffffff" stroke-width="0.4" stroke-opacity="0.12"/>
<line x1="455.44" y1="617.40" x2="455.44" y2="642.20" stroke="#ffffff" stroke-width="0.4" stroke-opacity="0.12"/>
<line x1="504.54" y1="617.40" x2="504.54" y2="642.20" stroke="#ffffff" stroke-width="0.4" stroke-opacity="0.12"/>
<line x1="129.56" y1="642.20" x2="129.56" y2="667.00" stroke="#ffffff" stroke-width="0.4" stroke-opacity="0.12"/>
<line x1="134.03" y1="642.20" x2="134.03" y2="667.00" stroke="#ffffff" stroke-width="0.4" stroke-opacity="0.12"/>
<line x1="138.49" y1="642.20" x2="138.49" y2="667.00" stroke="#ffffff" stroke-width="0.4" stroke-opacity="0.12"/>
<line x1="165.28" y1="642.20" x2="165.28" y2="667.00" stroke="#ffffff" stroke-width="0.4" stroke-opacity="0.12"/>
<line x1="169.74" y1="642.20" x2="169.74" y2="667.00" stroke="#ffffff" stroke-width="0.4" stroke-opacity="0.12"/>
<line x1="446.51" y1="642.20" x2="446.51" y2="667.00" stroke="#ffffff" stroke-width="0.4" stroke-opacity="0.12"/>
<line x1="504.54" y1="642.20" x2="504.54" y2="667.00" stroke="#ffffff" stroke-width="0.4" stroke-opacity="0.12"/>
<line x1="509.00" y1="642.20" x2="509.00" y2="667.00" stroke="#ffffff" stroke-width="0.4" stroke-opacity="0.12"/>
<line x1="513.47" y1="642.20" x2="513.47" y2="667.00" stroke="#ffffff" stroke-width="0.4" stroke-opacity="0.12"/>
<line x1="178.67" y1="667.00" x2="178.67" y2="691.80" stroke="#ffffff" stroke-width="0.4" stroke-opacity="0.12"/>
<line x1="183.13" y1="667.00" x2="183.13" y2="691.80" stroke="#ffffff" stroke-width="0.4" stroke-opacity="0.12"/>
<line x1="303.66" y1="667.00" x2="303.66" y2="691.80" stroke="#ffffff" stroke-width="0.4" stroke-opacity="0.12"/>
<line x1="308.12" y1="667.00" x2="308.12" y2="691.80" stroke="#ffffff" stroke-width="0.4" stroke-opacity="0.12"/>
<line x1="312.59" y1="667.00" x2="312.59" y2="691.80" stroke="#ffffff" stroke-width="0.4" stroke-opacity="0.12"/>
<line x1="317.05" y1="667.00" x2="317.05" y2="691.80" stroke="#ffffff" stroke-width="0.4" stroke-opacity="0.12"/>
<line x1="522.40" y1="667.00" x2="522.40" y2="691.80" stroke="#ffffff" stroke-width="0.4" stroke-opacity="0.12"/>
<line x1="129.56" y1="691.80" x2="129.56" y2="716.60" stroke="#ffffff" stroke-width="0.4" stroke-opacity="0.12"/>
<line x1="147.42" y1="691.80" x2="147.42" y2="716.60" stroke="#ffffff" stroke-width="0.4" stroke-opacity="0.12"/>
<line x1="509.00" y1="691.80" x2="509.00" y2="716.60" stroke="#ffffff" stroke-width="0.4" stroke-opacity="0.12"/>
<line x1="513.47" y1="691.80" x2="513.47" y2="716.60" stroke="#ffffff" stroke-width="0.4" stroke-opacity="0.12"/>
<line x1="178.67" y1="716.60" x2="178.67" y2="741.40" stroke="#ffffff" stroke-width="0.4" stroke-opacity="0.12"/>
<line x1="192.06" y1="716.60" x2="192.06" y2="741.40" stroke="#ffffff" stroke-width="0.4" stroke-opacity="0.12"/>
<line x1="196.52" y1="716.60" x2="196.52" y2="741.40" stroke="#ffffff" stroke-width="0.4" stroke-opacity="0.12"/>
<line x1="531.32" y1="716.60" x2="531.32" y2="741.40" stroke="#ffffff" stroke-width="0.4" stroke-opacity="0.12"/>
<line x1="285.80" y1="741.40" x2="285.80" y2="766.20" stroke="#ffffff" stroke-width="0.4" stroke-opacity="0.12"/>
<line x1="325.98" y1="741.40" x2="325.98" y2="766.20" stroke="#ffffff" stroke-width="0.4" stroke-opacity="0.12"/>
<line x1="509.00" y1="741.40" x2="509.00" y2="766.20" stroke="#ffffff" stroke-width="0.4" stroke-opacity="0.12"/>
<line x1="334.91" y1="766.20" x2="334.91" y2="791.00" stroke="#ffffff" stroke-width="0.4" stroke-opacity="0.12"/>
<line x1="339.37" y1="766.20" x2="339.37" y2="791.00" stroke="#ffffff" stroke-width="0.4" stroke-opacity="0.12"/>
<line x1="343.84" y1="766.20" x2="343.84" y2="791.00" stroke="#ffffff" stroke-width="0.4" stroke-opacity="0.12"/>
<line x1="348.30" y1="766.20" x2="348.30" y2="791.00" stroke="#ffffff" stroke-width="0.4" stroke-opacity="0.12"/>
<line x1="74.90" y1="565.40" x2="74.90" y2="842.70" stroke="#e3e3e3" stroke-width="0.9"/>
<line x1="68.52" y1="565.40" x2="68.52" y2="842.70" stroke="#ebebeb" stroke-width="0.6"/>
<line x1="62.13" y1="565.40" x2="62.13" y2="842.70" stroke="#e3e3e3" stroke-width="0.9"/>
<line x1="55.75" y1="565.40" x2="55.75" y2="842.70" stroke="#ebebeb" stroke-width="0.6"/>
<line x1="49.36" y1="565.40" x2="49.36" y2="842.70" stroke="#e3e3e3" stroke-width="0.9"/>
<line x1="42.98" y1="565.40" x2="42.98" y2="842.70" stroke="#ebebeb" stroke-width="0.6"/>
<line x1="36.59" y1="565.40" x2="36.59" y2="842.70" stroke="#e3e3e3" stroke-width="0.9"/>
<line x1="30.21" y1="565.40" x2="30.21" y2="842.70" stroke="#ebebeb" stroke-width="0.6"/>
<line x1="26.10" y1="580.20" x2="77.10" y2="580.20" stroke="#ebebeb" stroke-width="0.8"/>
<line x1="26.10" y1="605.00" x2="77.10" y2="605.00" stroke="#ebebeb" stroke-width="0.8"/>
<line x1="26.10" y1="629.80" x2="77.10" y2="629.80" stroke="#ebebeb" stroke-width="0.8"/>
<line x1="26.10" y1="654.60" x2="77.10" y2="654.60" stroke="#ebebeb" stroke-width="0.8"/>
<line x1="26.10" y1="679.40" x2="77.10" y2="679.40" stroke="#ebebeb" stroke-width="0.8"/>
<line x1="26.10" y1="704.20" x2="77.10" y2="704.20" stroke="#ebebeb" stroke-width="0.8"/>
<line x1="26.10" y1="729.00" x2="77.10" y2="729.00" stroke="#ebebeb" stroke-width="0.8"/>
<line x1="26.10" y1="753.80" x2="77.10" y2="753.80" stroke="#ebebeb" stroke-width="0.8"/>
<line x1="26.10" y1="778.60" x2="77.10" y2="778.60" stroke="#ebebeb" stroke-width="0.8"/>
<line x1="26.10" y1="803.40" x2="77.10" y2="803.40" stroke="#ebebeb" stroke-width="0.8"/>
<line x1="26.10" y1="828.20" x2="77.10" y2="828.20" stroke="#ebebeb" stroke-width="0.8"/>
<polygon points="74.90,567.80 28.64,567.80 28.64,592.60 44.28,592.60 44.28,617.40 63.17,617.40 63.17,642.20 65.13,642.20 65.13,667.00 65.78,667.00 65.78,691.80 67.73,691.80 67.73,716.60 67.73,716.60 67.73,741.40 68.38,741.40 68.38,766.20 70.34,766.20 70.34,791.00 70.99,791.00 70.99,815.80 73.60,815.80 73.60,840.60 74.90,840.60" fill="#0000ff" fill-opacity="0.75"/>
<rect x="26.10" y="565.40" width="51.00" height="277.30" fill="none" stroke="#7a7a7a" stroke-width="1"/>
<line x1="23.20" y1="580.20" x2="26.10" y2="580.20" stroke="#333" stroke-width="0.9"/>
<text x="21.90" y="582.63" font-size="6.70" textLength="12.75" lengthAdjust="spacingAndGlyphs" text-anchor="end" fill="#161616" font-style="italic">APC</text>
<line x1="23.20" y1="605.00" x2="26.10" y2="605.00" stroke="#333" stroke-width="0.9"/>
<text x="21.90" y="607.43" font-size="6.70" textLength="16.88" lengthAdjust="spacingAndGlyphs" text-anchor="end" fill="#161616" font-style="italic">KRAS</text>
<line x1="23.20" y1="629.80" x2="26.10" y2="629.80" stroke="#333" stroke-width="0.9"/>
<text x="21.90" y="632.23" font-size="6.70" textLength="17.23" lengthAdjust="spacingAndGlyphs" text-anchor="end" fill="#161616" font-style="italic">MSH2</text>
<line x1="23.20" y1="654.60" x2="26.10" y2="654.60" stroke="#333" stroke-width="0.9"/>
<text x="21.90" y="657.03" font-size="6.70" textLength="16.54" lengthAdjust="spacingAndGlyphs" text-anchor="end" fill="#161616" font-style="italic">POLE</text>
<line x1="23.20" y1="679.40" x2="26.10" y2="679.40" stroke="#333" stroke-width="0.9"/>
<text x="21.90" y="681.83" font-size="6.70" textLength="20.33" lengthAdjust="spacingAndGlyphs" text-anchor="end" fill="#161616" font-style="italic">ERBB2</text>
<line x1="23.20" y1="704.20" x2="26.10" y2="704.20" stroke="#333" stroke-width="0.9"/>
<text x="21.90" y="706.63" font-size="6.70" textLength="17.23" lengthAdjust="spacingAndGlyphs" text-anchor="end" fill="#161616" font-style="italic">MSH6</text>
<line x1="23.20" y1="729.00" x2="26.10" y2="729.00" stroke="#333" stroke-width="0.9"/>
<text x="21.90" y="731.43" font-size="6.70" textLength="16.54" lengthAdjust="spacingAndGlyphs" text-anchor="end" fill="#161616" font-style="italic">MLH1</text>
<line x1="23.20" y1="753.80" x2="26.10" y2="753.80" stroke="#333" stroke-width="0.9"/>
<text x="21.90" y="756.23" font-size="6.70" textLength="16.54" lengthAdjust="spacingAndGlyphs" text-anchor="end" fill="#161616" font-style="italic">BRAF</text>
<line x1="23.20" y1="778.60" x2="26.10" y2="778.60" stroke="#333" stroke-width="0.9"/>
<text x="21.90" y="781.03" font-size="6.70" textLength="17.23" lengthAdjust="spacingAndGlyphs" text-anchor="end" fill="#161616" font-style="italic">NRAS</text>
<line x1="23.20" y1="803.40" x2="26.10" y2="803.40" stroke="#333" stroke-width="0.9"/>
<text x="21.90" y="805.83" font-size="6.70" textLength="21.01" lengthAdjust="spacingAndGlyphs" text-anchor="end" fill="#161616" font-style="italic">FANCA</text>
<line x1="23.20" y1="828.20" x2="26.10" y2="828.20" stroke="#333" stroke-width="0.9"/>
<text x="21.90" y="830.63" font-size="6.70" textLength="16.88" lengthAdjust="spacingAndGlyphs" text-anchor="end" fill="#161616" font-style="italic">PMS2</text>
<line x1="36.59" y1="842.70" x2="36.59" y2="845.00" stroke="#333" stroke-width="0.9"/>
<text x="36.59" y="852.95" font-size="7.99" textLength="8.23" lengthAdjust="spacingAndGlyphs" text-anchor="middle" fill="#444">60</text>
<line x1="49.36" y1="842.70" x2="49.36" y2="845.00" stroke="#333" stroke-width="0.9"/>
<text x="49.36" y="852.95" font-size="7.99" textLength="8.23" lengthAdjust="spacingAndGlyphs" text-anchor="middle" fill="#444">40</text>
<line x1="62.13" y1="842.70" x2="62.13" y2="845.00" stroke="#333" stroke-width="0.9"/>
<text x="62.13" y="852.95" font-size="7.99" textLength="8.23" lengthAdjust="spacingAndGlyphs" text-anchor="middle" fill="#444">20</text>
<line x1="74.90" y1="842.70" x2="74.90" y2="845.00" stroke="#333" stroke-width="0.9"/>
<text x="74.90" y="852.95" font-size="7.99" textLength="4.12" lengthAdjust="spacingAndGlyphs" text-anchor="middle" fill="#444">0</text>
<text x="51.80" y="862.26" font-size="9.61" textLength="37.59" lengthAdjust="spacingAndGlyphs" text-anchor="middle" fill="#161616">% Mutant</text>
<rect x="125.10" y="874.60" width="437.47" height="48.30" fill="#8ed9eb"/>
<rect x="129.56" y="874.60" width="8.93" height="48.30" fill="#e69028"/>
<rect x="138.49" y="906.80" width="4.46" height="16.10" fill="#e69028"/>
<rect x="142.96" y="874.60" width="22.32" height="48.30" fill="#e69028"/>
<rect x="169.74" y="874.60" width="31.25" height="48.30" fill="#e69028"/>
<rect x="209.92" y="890.70" width="4.46" height="16.10" fill="#e69028"/>
<rect x="214.38" y="874.60" width="4.46" height="48.30" fill="#e69028"/>
<rect x="245.63" y="874.60" width="4.46" height="48.30" fill="#e69028"/>
<rect x="276.88" y="874.60" width="17.86" height="48.30" fill="#e69028"/>
<rect x="299.20" y="874.60" width="4.46" height="48.30" fill="#e69028"/>
<rect x="330.44" y="906.80" width="4.46" height="16.10" fill="#e69028"/>
<rect x="442.04" y="874.60" width="22.32" height="48.30" fill="#e69028"/>
<rect x="473.29" y="906.80" width="4.46" height="16.10" fill="#e69028"/>
<rect x="477.76" y="874.60" width="4.46" height="48.30" fill="#e69028"/>
<rect x="486.68" y="906.80" width="4.46" height="16.10" fill="#e69028"/>
<rect x="500.08" y="874.60" width="4.46" height="48.30" fill="#e69028"/>
<rect x="504.54" y="906.80" width="4.46" height="16.10" fill="#e69028"/>
<rect x="513.47" y="874.60" width="8.93" height="48.30" fill="#e69028"/>
<rect x="526.86" y="874.60" width="8.93" height="48.30" fill="#e69028"/>
<rect x="544.72" y="906.80" width="4.46" height="16.10" fill="#e69028"/>
<line x1="129.56" y1="874.60" x2="129.56" y2="922.90" stroke="#ffffff" stroke-width="0.4" stroke-opacity="0.08"/>
<line x1="134.03" y1="874.60" x2="134.03" y2="922.90" stroke="#ffffff" stroke-width="0.4" stroke-opacity="0.08"/>
<line x1="138.49" y1="874.60" x2="138.49" y2="922.90" stroke="#ffffff" stroke-width="0.4" stroke-opacity="0.08"/>
<line x1="142.96" y1="874.60" x2="142.96" y2="922.90" stroke="#ffffff" stroke-width="0.4" stroke-opacity="0.08"/>
<line x1="147.42" y1="874.60" x2="147.42" y2="922.90" stroke="#ffffff" stroke-width="0.4" stroke-opacity="0.08"/>
<line x1="151.88" y1="874.60" x2="151.88" y2="922.90" stroke="#ffffff" stroke-width="0.4" stroke-opacity="0.08"/>
<line x1="156.35" y1="874.60" x2="156.35" y2="922.90" stroke="#ffffff" stroke-width="0.4" stroke-opacity="0.08"/>
<line x1="160.81" y1="874.60" x2="160.81" y2="922.90" stroke="#ffffff" stroke-width="0.4" stroke-opacity="0.08"/>
<line x1="165.28" y1="874.60" x2="165.28" y2="922.90" stroke="#ffffff" stroke-width="0.4" stroke-opacity="0.08"/>
<line x1="169.74" y1="874.60" x2="169.74" y2="922.90" stroke="#ffffff" stroke-width="0.4" stroke-opacity="0.08"/>
<line x1="174.20" y1="874.60" x2="174.20" y2="922.90" stroke="#ffffff" stroke-width="0.4" stroke-opacity="0.08"/>
<line x1="178.67" y1="874.60" x2="178.67" y2="922.90" stroke="#ffffff" stroke-width="0.4" stroke-opacity="0.08"/>
<line x1="183.13" y1="874.60" x2="183.13" y2="922.90" stroke="#ffffff" stroke-width="0.4" stroke-opacity="0.08"/>
<line x1="187.60" y1="874.60" x2="187.60" y2="922.90" stroke="#ffffff" stroke-width="0.4" stroke-opacity="0.08"/>
<line x1="192.06" y1="874.60" x2="192.06" y2="922.90" stroke="#ffffff" stroke-width="0.4" stroke-opacity="0.08"/>
<line x1="196.52" y1="874.60" x2="196.52" y2="922.90" stroke="#ffffff" stroke-width="0.4" stroke-opacity="0.08"/>
<line x1="200.99" y1="874.60" x2="200.99" y2="922.90" stroke="#ffffff" stroke-width="0.4" stroke-opacity="0.08"/>
<line x1="205.45" y1="874.60" x2="205.45" y2="922.90" stroke="#ffffff" stroke-width="0.4" stroke-opacity="0.08"/>
<line x1="209.92" y1="874.60" x2="209.92" y2="922.90" stroke="#ffffff" stroke-width="0.4" stroke-opacity="0.08"/>
<line x1="214.38" y1="874.60" x2="214.38" y2="922.90" stroke="#ffffff" stroke-width="0.4" stroke-opacity="0.08"/>
<line x1="218.84" y1="874.60" x2="218.84" y2="922.90" stroke="#ffffff" stroke-width="0.4" stroke-opacity="0.08"/>
<line x1="223.31" y1="874.60" x2="223.31" y2="922.90" stroke="#ffffff" stroke-width="0.4" stroke-opacity="0.08"/>
<line x1="227.77" y1="874.60" x2="227.77" y2="922.90" stroke="#ffffff" stroke-width="0.4" stroke-opacity="0.08"/>
<line x1="232.24" y1="874.60" x2="232.24" y2="922.90" stroke="#ffffff" stroke-width="0.4" stroke-opacity="0.08"/>
<line x1="236.70" y1="874.60" x2="236.70" y2="922.90" stroke="#ffffff" stroke-width="0.4" stroke-opacity="0.08"/>
<line x1="241.16" y1="874.60" x2="241.16" y2="922.90" stroke="#ffffff" stroke-width="0.4" stroke-opacity="0.08"/>
<line x1="245.63" y1="874.60" x2="245.63" y2="922.90" stroke="#ffffff" stroke-width="0.4" stroke-opacity="0.08"/>
<line x1="250.09" y1="874.60" x2="250.09" y2="922.90" stroke="#ffffff" stroke-width="0.4" stroke-opacity="0.08"/>
<line x1="254.56" y1="874.60" x2="254.56" y2="922.90" stroke="#ffffff" stroke-width="0.4" stroke-opacity="0.08"/>
<line x1="259.02" y1="874.60" x2="259.02" y2="922.90" stroke="#ffffff" stroke-width="0.4" stroke-opacity="0.08"/>
<line x1="263.48" y1="874.60" x2="263.48" y2="922.90" stroke="#ffffff" stroke-width="0.4" stroke-opacity="0.08"/>
<line x1="267.95" y1="874.60" x2="267.95" y2="922.90" stroke="#ffffff" stroke-width="0.4" stroke-opacity="0.08"/>
<line x1="272.41" y1="874.60" x2="272.41" y2="922.90" stroke="#ffffff" stroke-width="0.4" stroke-opacity="0.08"/>
<line x1="276.88" y1="874.60" x2="276.88" y2="922.90" stroke="#ffffff" stroke-width="0.4" stroke-opacity="0.08"/>
<line x1="281.34" y1="874.60" x2="281.34" y2="922.90" stroke="#ffffff" stroke-width="0.4" stroke-opacity="0.08"/>
<line x1="285.80" y1="874.60" x2="285.80" y2="922.90" stroke="#ffffff" stroke-width="0.4" stroke-opacity="0.08"/>
<line x1="290.27" y1="874.60" x2="290.27" y2="922.90" stroke="#ffffff" stroke-width="0.4" stroke-opacity="0.08"/>
<line x1="294.73" y1="874.60" x2="294.73" y2="922.90" stroke="#ffffff" stroke-width="0.4" stroke-opacity="0.08"/>
<line x1="299.20" y1="874.60" x2="299.20" y2="922.90" stroke="#ffffff" stroke-width="0.4" stroke-opacity="0.08"/>
<line x1="303.66" y1="874.60" x2="303.66" y2="922.90" stroke="#ffffff" stroke-width="0.4" stroke-opacity="0.08"/>
<line x1="308.12" y1="874.60" x2="308.12" y2="922.90" stroke="#ffffff" stroke-width="0.4" stroke-opacity="0.08"/>
<line x1="312.59" y1="874.60" x2="312.59" y2="922.90" stroke="#ffffff" stroke-width="0.4" stroke-opacity="0.08"/>
<line x1="317.05" y1="874.60" x2="317.05" y2="922.90" stroke="#ffffff" stroke-width="0.4" stroke-opacity="0.08"/>
<line x1="321.52" y1="874.60" x2="321.52" y2="922.90" stroke="#ffffff" stroke-width="0.4" stroke-opacity="0.08"/>
<line x1="325.98" y1="874.60" x2="325.98" y2="922.90" stroke="#ffffff" stroke-width="0.4" stroke-opacity="0.08"/>
<line x1="330.44" y1="874.60" x2="330.44" y2="922.90" stroke="#ffffff" stroke-width="0.4" stroke-opacity="0.08"/>
<line x1="334.91" y1="874.60" x2="334.91" y2="922.90" stroke="#ffffff" stroke-width="0.4" stroke-opacity="0.08"/>
<line x1="339.37" y1="874.60" x2="339.37" y2="922.90" stroke="#ffffff" stroke-width="0.4" stroke-opacity="0.08"/>
<line x1="343.84" y1="874.60" x2="343.84" y2="922.90" stroke="#ffffff" stroke-width="0.4" stroke-opacity="0.08"/>
<line x1="348.30" y1="874.60" x2="348.30" y2="922.90" stroke="#ffffff" stroke-width="0.4" stroke-opacity="0.08"/>
<line x1="352.76" y1="874.60" x2="352.76" y2="922.90" stroke="#ffffff" stroke-width="0.4" stroke-opacity="0.08"/>
<line x1="357.23" y1="874.60" x2="357.23" y2="922.90" stroke="#ffffff" stroke-width="0.4" stroke-opacity="0.08"/>
<line x1="361.69" y1="874.60" x2="361.69" y2="922.90" stroke="#ffffff" stroke-width="0.4" stroke-opacity="0.08"/>
<line x1="366.16" y1="874.60" x2="366.16" y2="922.90" stroke="#ffffff" stroke-width="0.4" stroke-opacity="0.08"/>
<line x1="370.62" y1="874.60" x2="370.62" y2="922.90" stroke="#ffffff" stroke-width="0.4" stroke-opacity="0.08"/>
<line x1="375.08" y1="874.60" x2="375.08" y2="922.90" stroke="#ffffff" stroke-width="0.4" stroke-opacity="0.08"/>
<line x1="379.55" y1="874.60" x2="379.55" y2="922.90" stroke="#ffffff" stroke-width="0.4" stroke-opacity="0.08"/>
<line x1="384.01" y1="874.60" x2="384.01" y2="922.90" stroke="#ffffff" stroke-width="0.4" stroke-opacity="0.08"/>
<line x1="388.48" y1="874.60" x2="388.48" y2="922.90" stroke="#ffffff" stroke-width="0.4" stroke-opacity="0.08"/>
<line x1="392.94" y1="874.60" x2="392.94" y2="922.90" stroke="#ffffff" stroke-width="0.4" stroke-opacity="0.08"/>
<line x1="397.40" y1="874.60" x2="397.40" y2="922.90" stroke="#ffffff" stroke-width="0.4" stroke-opacity="0.08"/>
<line x1="401.87" y1="874.60" x2="401.87" y2="922.90" stroke="#ffffff" stroke-width="0.4" stroke-opacity="0.08"/>
<line x1="406.33" y1="874.60" x2="406.33" y2="922.90" stroke="#ffffff" stroke-width="0.4" stroke-opacity="0.08"/>
<line x1="410.80" y1="874.60" x2="410.80" y2="922.90" stroke="#ffffff" stroke-width="0.4" stroke-opacity="0.08"/>
<line x1="415.26" y1="874.60" x2="415.26" y2="922.90" stroke="#ffffff" stroke-width="0.4" stroke-opacity="0.08"/>
<line x1="419.72" y1="874.60" x2="419.72" y2="922.90" stroke="#ffffff" stroke-width="0.4" stroke-opacity="0.08"/>
<line x1="424.19" y1="874.60" x2="424.19" y2="922.90" stroke="#ffffff" stroke-width="0.4" stroke-opacity="0.08"/>
<line x1="428.65" y1="874.60" x2="428.65" y2="922.90" stroke="#ffffff" stroke-width="0.4" stroke-opacity="0.08"/>
<line x1="433.12" y1="874.60" x2="433.12" y2="922.90" stroke="#ffffff" stroke-width="0.4" stroke-opacity="0.08"/>
<line x1="437.58" y1="874.60" x2="437.58" y2="922.90" stroke="#ffffff" stroke-width="0.4" stroke-opacity="0.08"/>
<line x1="442.04" y1="874.60" x2="442.04" y2="922.90" stroke="#ffffff" stroke-width="0.4" stroke-opacity="0.08"/>
<line x1="446.51" y1="874.60" x2="446.51" y2="922.90" stroke="#ffffff" stroke-width="0.4" stroke-opacity="0.08"/>
<line x1="450.97" y1="874.60" x2="450.97" y2="922.90" stroke="#ffffff" stroke-width="0.4" stroke-opacity="0.08"/>
<line x1="455.44" y1="874.60" x2="455.44" y2="922.90" stroke="#ffffff" stroke-width="0.4" stroke-opacity="0.08"/>
<line x1="459.90" y1="874.60" x2="459.90" y2="922.90" stroke="#ffffff" stroke-width="0.4" stroke-opacity="0.08"/>
<line x1="464.36" y1="874.60" x2="464.36" y2="922.90" stroke="#ffffff" stroke-width="0.4" stroke-opacity="0.08"/>
<line x1="468.83" y1="874.60" x2="468.83" y2="922.90" stroke="#ffffff" stroke-width="0.4" stroke-opacity="0.08"/>
<line x1="473.29" y1="874.60" x2="473.29" y2="922.90" stroke="#ffffff" stroke-width="0.4" stroke-opacity="0.08"/>
<line x1="477.76" y1="874.60" x2="477.76" y2="922.90" stroke="#ffffff" stroke-width="0.4" stroke-opacity="0.08"/>
<line x1="482.22" y1="874.60" x2="482.22" y2="922.90" stroke="#ffffff" stroke-width="0.4" stroke-opacity="0.08"/>
<line x1="486.68" y1="874.60" x2="486.68" y2="922.90" stroke="#ffffff" stroke-width="0.4" stroke-opacity="0.08"/>
<line x1="491.15" y1="874.60" x2="491.15" y2="922.90" stroke="#ffffff" stroke-width="0.4" stroke-opacity="0.08"/>
<line x1="495.61" y1="874.60" x2="495.61" y2="922.90" stroke="#ffffff" stroke-width="0.4" stroke-opacity="0.08"/>
<line x1="500.08" y1="874.60" x2="500.08" y2="922.90" stroke="#ffffff" stroke-width="0.4" stroke-opacity="0.08"/>
<line x1="504.54" y1="874.60" x2="504.54" y2="922.90" stroke="#ffffff" stroke-width="0.4" stroke-opacity="0.08"/>
<line x1="509.00" y1="874.60" x2="509.00" y2="922.90" stroke="#ffffff" stroke-width="0.4" stroke-opacity="0.08"/>
<line x1="513.47" y1="874.60" x2="513.47" y2="922.90" stroke="#ffffff" stroke-width="0.4" stroke-opacity="0.08"/>
<line x1="517.93" y1="874.60" x2="517.93" y2="922.90" stroke="#ffffff" stroke-width="0.4" stroke-opacity="0.08"/>
<line x1="522.40" y1="874.60" x2="522.40" y2="922.90" stroke="#ffffff" stroke-width="0.4" stroke-opacity="0.08"/>
<line x1="526.86" y1="874.60" x2="526.86" y2="922.90" stroke="#ffffff" stroke-width="0.4" stroke-opacity="0.08"/>
<line x1="531.32" y1="874.60" x2="531.32" y2="922.90" stroke="#ffffff" stroke-width="0.4" stroke-opacity="0.08"/>
<line x1="535.79" y1="874.60" x2="535.79" y2="922.90" stroke="#ffffff" stroke-width="0.4" stroke-opacity="0.08"/>
<line x1="540.25" y1="874.60" x2="540.25" y2="922.90" stroke="#ffffff" stroke-width="0.4" stroke-opacity="0.08"/>
<line x1="544.72" y1="874.60" x2="544.72" y2="922.90" stroke="#ffffff" stroke-width="0.4" stroke-opacity="0.08"/>
<line x1="549.18" y1="874.60" x2="549.18" y2="922.90" stroke="#ffffff" stroke-width="0.4" stroke-opacity="0.08"/>
<line x1="553.64" y1="874.60" x2="553.64" y2="922.90" stroke="#ffffff" stroke-width="0.4" stroke-opacity="0.08"/>
<line x1="558.11" y1="874.60" x2="558.11" y2="922.90" stroke="#ffffff" stroke-width="0.4" stroke-opacity="0.08"/>
<text x="120.30" y="886.93" font-size="11.22" textLength="23.84" lengthAdjust="spacingAndGlyphs" text-anchor="end" fill="#161616">NGS</text>
<text x="120.30" y="903.03" font-size="11.22" textLength="23.22" lengthAdjust="spacingAndGlyphs" text-anchor="end" fill="#161616">PCR</text>
<text x="120.30" y="919.13" font-size="11.22" textLength="18.94" lengthAdjust="spacingAndGlyphs" text-anchor="end" fill="#161616">IHC</text>
<text x="343.80" y="938.30" font-size="13.82" textLength="75.79" lengthAdjust="spacingAndGlyphs" text-anchor="middle" fill="#161616">Sample n=98</text>
<text x="581.00" y="503.20" font-size="12.04" textLength="95.44" lengthAdjust="spacingAndGlyphs" text-anchor="start" fill="#161616">Translational Effect</text>
<rect x="581.00" y="510.10" width="12.80" height="13.00" fill="#ff3f3f"/>
<text x="599.80" y="519.06" font-size="7.72" textLength="41.33" lengthAdjust="spacingAndGlyphs" text-anchor="start" fill="#161616">Synonymous</text>
<rect x="581.00" y="523.85" width="12.80" height="13.00" fill="#3f3fff"/>
<text x="599.80" y="532.81" font-size="7.72" textLength="56.44" lengthAdjust="spacingAndGlyphs" text-anchor="start" fill="#161616">Non Synonymous</text>
<rect x="581.00" y="537.60" width="12.80" height="13.00" fill="#404040"/>
<text x="599.80" y="546.56" font-size="7.72" textLength="32.60" lengthAdjust="spacingAndGlyphs" text-anchor="start" fill="#161616">Undefined</text>
<text x="585.90" y="632.80" font-size="12.04" textLength="70.65" lengthAdjust="spacingAndGlyphs" text-anchor="start" fill="#161616">Mutation Type</text>
<rect x="585.90" y="639.80" width="13.30" height="13.40" fill="#4f00a8"/>
<text x="605.00" y="649.36" font-size="7.72" textLength="30.20" lengthAdjust="spacingAndGlyphs" text-anchor="start" fill="#161616">missense</text>
<rect x="585.90" y="653.66" width="13.30" height="13.40" fill="#a80100"/>
<text x="605.00" y="663.22" font-size="7.72" textLength="48.48" lengthAdjust="spacingAndGlyphs" text-anchor="start" fill="#161616">frameshift indel</text>
<rect x="585.90" y="667.52" width="13.30" height="13.40" fill="#cf5a59"/>
<text x="605.00" y="677.08" font-size="7.72" textLength="31.01" lengthAdjust="spacingAndGlyphs" text-anchor="start" fill="#161616">nonsense</text>
<rect x="585.90" y="681.38" width="13.30" height="13.40" fill="#a80079"/>
<text x="605.00" y="690.94" font-size="7.72" textLength="40.14" lengthAdjust="spacingAndGlyphs" text-anchor="start" fill="#161616">synonymous</text>
<rect x="585.90" y="695.24" width="13.30" height="13.40" fill="#bc2d94"/>
<text x="605.00" y="704.80" font-size="7.72" textLength="18.28" lengthAdjust="spacingAndGlyphs" text-anchor="start" fill="#161616">splice</text>
<rect x="585.90" y="709.10" width="13.30" height="13.40" fill="#cf59ae"/>
<text x="605.00" y="718.66" font-size="7.72" textLength="18.67" lengthAdjust="spacingAndGlyphs" text-anchor="start" fill="#161616">5UTR</text>
<rect x="585.90" y="722.96" width="13.30" height="13.40" fill="#000000"/>
<text x="605.00" y="732.52" font-size="7.72" textLength="29.00" lengthAdjust="spacingAndGlyphs" text-anchor="start" fill="#161616">Germline</text>
<rect x="585.90" y="736.82" width="13.30" height="13.40" fill="#006666"/>
<text x="605.00" y="746.38" font-size="7.72" textLength="64.59" lengthAdjust="spacingAndGlyphs" text-anchor="start" fill="#161616">non−frameshift indel</text>
<rect x="585.90" y="750.68" width="13.30" height="13.40" fill="#00a8a8"/>
<text x="605.00" y="760.24" font-size="7.72" textLength="13.52" lengthAdjust="spacingAndGlyphs" text-anchor="start" fill="#161616">gain</text>
<rect x="585.90" y="764.54" width="13.30" height="13.40" fill="#009933"/>
<text x="605.00" y="774.10" font-size="7.72" textLength="25.44" lengthAdjust="spacingAndGlyphs" text-anchor="start" fill="#161616">nonstop</text>
<rect x="585.90" y="778.40" width="13.30" height="13.40" fill="#ace7b9"/>
<text x="605.00" y="787.96" font-size="7.72" textLength="12.71" lengthAdjust="spacingAndGlyphs" text-anchor="start" fill="#161616">loss</text>
<rect x="585.90" y="792.26" width="13.30" height="13.40" fill="#cdf0d5"/>
<text x="605.00" y="801.82" font-size="7.72" textLength="19.08" lengthAdjust="spacingAndGlyphs" text-anchor="start" fill="#161616">fusion</text>
<text x="571.80" y="894.30" font-size="12.04" textLength="62.59" lengthAdjust="spacingAndGlyphs" text-anchor="start" fill="#161616">Clinical Data</text>
<rect x="571.80" y="901.30" width="13.30" height="13.40" fill="#e69028"/>
<text x="590.80" y="910.66" font-size="7.72" textLength="21.05" lengthAdjust="spacingAndGlyphs" text-anchor="start" fill="#161616">dMMR</text>
<rect x="571.80" y="914.90" width="13.30" height="13.40" fill="#8ed9eb"/>
<text x="590.80" y="924.26" font-size="7.72" textLength="21.05" lengthAdjust="spacingAndGlyphs" text-anchor="start" fill="#161616">pMMR</text>
<rect x="617.90" y="901.30" width="13.30" height="13.40" fill="#e69028"/>
<text x="637.00" y="910.66" font-size="7.72" textLength="22.05" lengthAdjust="spacingAndGlyphs" text-anchor="start" fill="#161616">MSI−H</text>
<rect x="617.90" y="914.90" width="13.30" height="13.40" fill="#8ed9eb"/>
<text x="637.00" y="924.26" font-size="7.72" textLength="15.49" lengthAdjust="spacingAndGlyphs" text-anchor="start" fill="#161616">MSS</text>
</svg>
</body></html>
